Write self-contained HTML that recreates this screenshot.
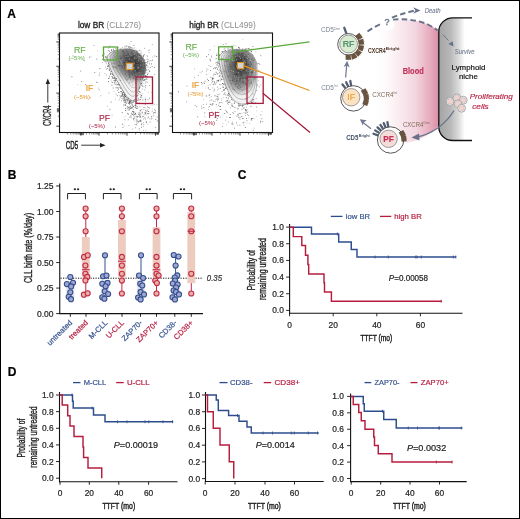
<!DOCTYPE html>
<html><head><meta charset="utf-8"><style>
html,body{margin:0;padding:0;background:#fff;overflow:hidden;}
svg{display:block;will-change:transform;}
svg text{font-family:"Liberation Sans",sans-serif;}
</style></head><body>
<svg width="520" height="519" viewBox="0 0 520 519">
<rect x="0" y="0" width="520" height="519" fill="#fff"/>
<text x="7.2" y="17.6" font-size="12" fill="#000" text-anchor="start" font-weight="bold"  stroke="#000" stroke-width="0.2">A</text>
<text x="109.5" y="27.9" font-size="8.3" text-anchor="middle" stroke="none"><tspan fill="#222" stroke="#222" stroke-width="0.3">low BR</tspan><tspan fill="#8a8a8a" stroke="none"> (CLL276)</tspan></text>
<g fill="#444">
<rect x="122.0" y="93.5" width="0.8" height="0.8" opacity="0.55"/>
<rect x="122.2" y="86.5" width="0.8" height="0.8" opacity="1.0"/>
<rect x="116.6" y="78.9" width="0.8" height="0.8" opacity="0.4"/>
<rect x="132.9" y="109.2" width="0.8" height="0.8" opacity="0.55"/>
<rect x="132.3" y="106.7" width="0.8" height="0.8" opacity="0.7"/>
<rect x="127.2" y="98.4" width="0.8" height="0.8" opacity="0.4"/>
<rect x="110.7" y="79.7" width="0.8" height="0.8" opacity="0.55"/>
<rect x="128.1" y="102.6" width="0.8" height="0.8" opacity="1.0"/>
<rect x="110.5" y="56.0" width="0.8" height="0.8" opacity="0.7"/>
<rect x="116.9" y="77.1" width="0.8" height="0.8" opacity="0.85"/>
<rect x="126.4" y="95.3" width="0.8" height="0.8" opacity="0.55"/>
<rect x="128.2" y="92.5" width="0.8" height="0.8" opacity="1.0"/>
<rect x="126.5" y="99.3" width="0.8" height="0.8" opacity="0.85"/>
<rect x="118.7" y="99.5" width="0.8" height="0.8" opacity="0.55"/>
<rect x="128.5" y="109.5" width="0.8" height="0.8" opacity="1.0"/>
<rect x="119.0" y="77.9" width="0.8" height="0.8" opacity="1.0"/>
<rect x="121.2" y="86.9" width="0.8" height="0.8" opacity="0.4"/>
<rect x="129.1" y="101.8" width="0.8" height="0.8" opacity="1.0"/>
<rect x="120.4" y="78.0" width="0.8" height="0.8" opacity="1.0"/>
<rect x="119.8" y="96.7" width="0.8" height="0.8" opacity="1.0"/>
<rect x="117.5" y="84.5" width="0.8" height="0.8" opacity="0.4"/>
<rect x="127.4" y="83.7" width="0.8" height="0.8" opacity="0.85"/>
<rect x="124.4" y="104.3" width="0.8" height="0.8" opacity="0.4"/>
<rect x="107.9" y="64.9" width="0.8" height="0.8" opacity="0.85"/>
<rect x="123.2" y="83.4" width="0.8" height="0.8" opacity="0.55"/>
<rect x="128.0" y="97.4" width="0.8" height="0.8" opacity="1.0"/>
<rect x="112.3" y="81.9" width="0.8" height="0.8" opacity="1.0"/>
<rect x="129.4" y="108.5" width="0.8" height="0.8" opacity="1.0"/>
<rect x="135.5" y="112.5" width="0.8" height="0.8" opacity="0.4"/>
<rect x="125.0" y="81.7" width="0.8" height="0.8" opacity="1.0"/>
<rect x="128.9" y="93.9" width="0.8" height="0.8" opacity="0.4"/>
<rect x="120.4" y="75.2" width="0.8" height="0.8" opacity="0.85"/>
<rect x="116.3" y="75.6" width="0.8" height="0.8" opacity="0.85"/>
<rect x="134.3" y="89.2" width="0.8" height="0.8" opacity="1.0"/>
<rect x="112.3" y="76.7" width="0.8" height="0.8" opacity="0.55"/>
<rect x="135.5" y="114.5" width="0.8" height="0.8" opacity="0.55"/>
<rect x="108.8" y="46.5" width="0.8" height="0.8" opacity="1.0"/>
<rect x="126.9" y="89.7" width="0.8" height="0.8" opacity="0.85"/>
<rect x="115.0" y="87.4" width="0.8" height="0.8" opacity="0.4"/>
<rect x="132.8" y="106.6" width="0.8" height="0.8" opacity="0.55"/>
<rect x="126.0" y="98.9" width="0.8" height="0.8" opacity="0.7"/>
<rect x="136.8" y="116.7" width="0.8" height="0.8" opacity="1.0"/>
<rect x="128.1" y="103.2" width="0.8" height="0.8" opacity="0.4"/>
<rect x="111.5" y="84.7" width="0.8" height="0.8" opacity="0.85"/>
<rect x="131.6" y="108.2" width="0.8" height="0.8" opacity="0.55"/>
<rect x="108.2" y="62.6" width="0.8" height="0.8" opacity="0.4"/>
<rect x="130.7" y="85.8" width="0.8" height="0.8" opacity="0.7"/>
<rect x="122.5" y="99.0" width="0.8" height="0.8" opacity="0.4"/>
<rect x="113.5" y="90.8" width="0.8" height="0.8" opacity="0.4"/>
<rect x="128.4" y="97.3" width="0.8" height="0.8" opacity="1.0"/>
<rect x="126.6" y="101.7" width="0.8" height="0.8" opacity="0.55"/>
<rect x="125.0" y="103.8" width="0.8" height="0.8" opacity="0.85"/>
<rect x="118.7" y="80.3" width="0.8" height="0.8" opacity="0.7"/>
<rect x="132.3" y="104.7" width="0.8" height="0.8" opacity="0.4"/>
<rect x="117.0" y="90.0" width="0.8" height="0.8" opacity="0.55"/>
<rect x="135.7" y="105.6" width="0.8" height="0.8" opacity="0.85"/>
<rect x="113.0" y="74.2" width="0.8" height="0.8" opacity="0.4"/>
<rect x="122.8" y="87.5" width="0.8" height="0.8" opacity="1.0"/>
<rect x="135.2" y="99.6" width="0.8" height="0.8" opacity="0.55"/>
<rect x="134.1" y="95.7" width="0.8" height="0.8" opacity="1.0"/>
<rect x="117.7" y="88.2" width="0.8" height="0.8" opacity="0.4"/>
<rect x="133.0" y="113.3" width="0.8" height="0.8" opacity="0.7"/>
<rect x="126.8" y="97.4" width="0.8" height="0.8" opacity="0.55"/>
<rect x="125.2" y="99.0" width="0.8" height="0.8" opacity="0.7"/>
<rect x="122.6" y="92.4" width="0.8" height="0.8" opacity="0.7"/>
<rect x="128.6" y="98.9" width="0.8" height="0.8" opacity="0.4"/>
<rect x="130.1" y="106.3" width="0.8" height="0.8" opacity="0.7"/>
<rect x="140.1" y="119.1" width="0.8" height="0.8" opacity="0.4"/>
<rect x="120.6" y="83.5" width="0.8" height="0.8" opacity="0.55"/>
<rect x="123.9" y="100.2" width="0.8" height="0.8" opacity="0.7"/>
<rect x="121.3" y="91.4" width="0.8" height="0.8" opacity="1.0"/>
<rect x="138.7" y="91.0" width="0.8" height="0.8" opacity="1.0"/>
<rect x="115.0" y="80.7" width="0.8" height="0.8" opacity="0.7"/>
<rect x="127.2" y="98.9" width="0.8" height="0.8" opacity="0.85"/>
<rect x="120.6" y="92.7" width="0.8" height="0.8" opacity="0.4"/>
<rect x="126.3" y="90.7" width="0.8" height="0.8" opacity="1.0"/>
<rect x="143.4" y="124.4" width="0.8" height="0.8" opacity="0.7"/>
<rect x="119.6" y="84.5" width="0.8" height="0.8" opacity="0.4"/>
<rect x="122.2" y="88.7" width="0.8" height="0.8" opacity="0.7"/>
<rect x="102.2" y="54.9" width="0.8" height="0.8" opacity="1.0"/>
<rect x="132.1" y="93.6" width="0.8" height="0.8" opacity="0.7"/>
<rect x="123.5" y="99.8" width="0.8" height="0.8" opacity="1.0"/>
<rect x="130.8" y="115.7" width="0.8" height="0.8" opacity="0.4"/>
<rect x="110.4" y="68.4" width="0.8" height="0.8" opacity="0.4"/>
<rect x="121.3" y="93.5" width="0.8" height="0.8" opacity="0.55"/>
<rect x="132.7" y="81.0" width="0.8" height="0.8" opacity="0.7"/>
<rect x="132.7" y="92.0" width="0.8" height="0.8" opacity="0.7"/>
<rect x="129.5" y="86.8" width="0.8" height="0.8" opacity="0.55"/>
<rect x="125.4" y="104.9" width="0.8" height="0.8" opacity="0.85"/>
<rect x="122.8" y="91.9" width="0.8" height="0.8" opacity="0.4"/>
<rect x="130.4" y="102.8" width="0.8" height="0.8" opacity="1.0"/>
<rect x="123.3" y="104.7" width="0.8" height="0.8" opacity="0.85"/>
<rect x="132.4" y="101.9" width="0.8" height="0.8" opacity="0.4"/>
<rect x="146.0" y="114.6" width="0.8" height="0.8" opacity="0.4"/>
<rect x="131.3" y="100.6" width="0.8" height="0.8" opacity="0.85"/>
<rect x="125.1" y="99.9" width="0.8" height="0.8" opacity="0.4"/>
<rect x="125.8" y="100.4" width="0.8" height="0.8" opacity="0.4"/>
<rect x="111.8" y="60.1" width="0.8" height="0.8" opacity="0.7"/>
<rect x="128.9" y="90.7" width="0.8" height="0.8" opacity="0.55"/>
<rect x="115.8" y="66.4" width="0.8" height="0.8" opacity="0.55"/>
<rect x="134.1" y="113.9" width="0.8" height="0.8" opacity="1.0"/>
<rect x="135.8" y="101.2" width="0.8" height="0.8" opacity="0.7"/>
<rect x="124.0" y="81.7" width="0.8" height="0.8" opacity="0.85"/>
<rect x="130.1" y="115.5" width="0.8" height="0.8" opacity="0.55"/>
<rect x="116.9" y="95.4" width="0.8" height="0.8" opacity="1.0"/>
<rect x="131.9" y="102.3" width="0.8" height="0.8" opacity="0.7"/>
<rect x="108.2" y="81.0" width="0.8" height="0.8" opacity="1.0"/>
<rect x="123.2" y="85.4" width="0.8" height="0.8" opacity="0.7"/>
<rect x="127.2" y="100.5" width="0.8" height="0.8" opacity="0.85"/>
<rect x="136.0" y="100.8" width="0.8" height="0.8" opacity="0.4"/>
<rect x="133.1" y="119.0" width="0.8" height="0.8" opacity="0.4"/>
<rect x="135.6" y="107.8" width="0.8" height="0.8" opacity="0.7"/>
<rect x="118.0" y="92.2" width="0.8" height="0.8" opacity="0.55"/>
<rect x="124.9" y="94.5" width="0.8" height="0.8" opacity="0.85"/>
<rect x="135.4" y="106.7" width="0.8" height="0.8" opacity="1.0"/>
<rect x="105.6" y="61.0" width="0.8" height="0.8" opacity="0.85"/>
<rect x="109.2" y="77.1" width="0.8" height="0.8" opacity="0.4"/>
<rect x="126.5" y="90.3" width="0.8" height="0.8" opacity="0.4"/>
<rect x="123.9" y="99.4" width="0.8" height="0.8" opacity="0.4"/>
<rect x="124.6" y="104.9" width="0.8" height="0.8" opacity="0.55"/>
<rect x="123.5" y="100.6" width="0.8" height="0.8" opacity="1.0"/>
<rect x="135.9" y="124.4" width="0.8" height="0.8" opacity="1.0"/>
<rect x="118.6" y="91.9" width="0.8" height="0.8" opacity="0.85"/>
<rect x="109.0" y="59.7" width="0.8" height="0.8" opacity="0.85"/>
<rect x="108.3" y="78.1" width="0.8" height="0.8" opacity="0.55"/>
<rect x="114.1" y="77.1" width="0.8" height="0.8" opacity="0.85"/>
<rect x="122.5" y="89.4" width="0.8" height="0.8" opacity="0.85"/>
<rect x="119.3" y="87.0" width="0.8" height="0.8" opacity="0.55"/>
<rect x="138.3" y="113.9" width="0.8" height="0.8" opacity="1.0"/>
<rect x="128.2" y="107.4" width="0.8" height="0.8" opacity="1.0"/>
<rect x="122.4" y="78.3" width="0.8" height="0.8" opacity="0.4"/>
<rect x="119.6" y="95.0" width="0.8" height="0.8" opacity="0.7"/>
<rect x="110.8" y="66.9" width="0.8" height="0.8" opacity="0.7"/>
<rect x="132.1" y="111.2" width="0.8" height="0.8" opacity="1.0"/>
<rect x="124.1" y="99.3" width="0.8" height="0.8" opacity="0.55"/>
<rect x="125.3" y="83.4" width="0.8" height="0.8" opacity="0.7"/>
<rect x="111.5" y="67.5" width="0.8" height="0.8" opacity="0.55"/>
<rect x="131.4" y="98.0" width="0.8" height="0.8" opacity="1.0"/>
<rect x="116.8" y="74.2" width="0.8" height="0.8" opacity="1.0"/>
<rect x="111.7" y="72.6" width="0.8" height="0.8" opacity="0.4"/>
<rect x="114.6" y="81.1" width="0.8" height="0.8" opacity="0.55"/>
<rect x="105.1" y="66.6" width="0.8" height="0.8" opacity="0.55"/>
<rect x="118.9" y="66.8" width="0.8" height="0.8" opacity="0.7"/>
<rect x="129.8" y="98.2" width="0.8" height="0.8" opacity="0.85"/>
<rect x="106.2" y="57.4" width="0.8" height="0.8" opacity="0.7"/>
<rect x="126.3" y="91.4" width="0.8" height="0.8" opacity="1.0"/>
<rect x="130.2" y="108.1" width="0.8" height="0.8" opacity="0.85"/>
<rect x="129.3" y="102.9" width="0.8" height="0.8" opacity="0.85"/>
<rect x="134.7" y="113.9" width="0.8" height="0.8" opacity="0.7"/>
<rect x="127.6" y="78.7" width="0.8" height="0.8" opacity="0.7"/>
<rect x="131.2" y="114.5" width="0.8" height="0.8" opacity="0.4"/>
<rect x="121.6" y="84.2" width="0.8" height="0.8" opacity="0.7"/>
<rect x="139.5" y="99.5" width="0.8" height="0.8" opacity="1.0"/>
<rect x="127.8" y="119.4" width="0.8" height="0.8" opacity="0.85"/>
<rect x="116.6" y="87.1" width="0.8" height="0.8" opacity="0.7"/>
<rect x="139.1" y="113.6" width="0.8" height="0.8" opacity="0.55"/>
<rect x="128.5" y="106.9" width="0.8" height="0.8" opacity="0.4"/>
<rect x="116.8" y="80.3" width="0.8" height="0.8" opacity="0.55"/>
<rect x="126.3" y="102.9" width="0.8" height="0.8" opacity="0.85"/>
<rect x="123.7" y="89.8" width="0.8" height="0.8" opacity="1.0"/>
<rect x="115.9" y="76.6" width="0.8" height="0.8" opacity="0.4"/>
<rect x="131.1" y="103.6" width="0.8" height="0.8" opacity="0.55"/>
<rect x="117.2" y="74.2" width="0.8" height="0.8" opacity="0.55"/>
<rect x="129.1" y="76.3" width="0.8" height="0.8" opacity="0.7"/>
<rect x="129.0" y="103.8" width="0.8" height="0.8" opacity="0.85"/>
<rect x="137.5" y="116.1" width="0.8" height="0.8" opacity="0.7"/>
<rect x="123.5" y="95.9" width="0.8" height="0.8" opacity="0.4"/>
<rect x="108.4" y="78.0" width="0.8" height="0.8" opacity="1.0"/>
<rect x="126.6" y="89.6" width="0.8" height="0.8" opacity="0.7"/>
<rect x="134.6" y="124.2" width="0.8" height="0.8" opacity="0.7"/>
<rect x="112.8" y="69.2" width="0.8" height="0.8" opacity="1.0"/>
<rect x="126.3" y="97.1" width="0.8" height="0.8" opacity="1.0"/>
<rect x="120.8" y="78.5" width="0.8" height="0.8" opacity="1.0"/>
<rect x="141.0" y="126.8" width="0.8" height="0.8" opacity="1.0"/>
<rect x="114.4" y="65.6" width="0.8" height="0.8" opacity="0.55"/>
<rect x="137.6" y="121.3" width="0.8" height="0.8" opacity="0.4"/>
<rect x="138.6" y="121.1" width="0.8" height="0.8" opacity="1.0"/>
<rect x="117.0" y="83.9" width="0.8" height="0.8" opacity="0.4"/>
<rect x="106.7" y="59.3" width="0.8" height="0.8" opacity="0.55"/>
<rect x="123.5" y="96.0" width="0.8" height="0.8" opacity="0.85"/>
<rect x="118.2" y="82.2" width="0.8" height="0.8" opacity="1.0"/>
<rect x="127.7" y="100.9" width="0.8" height="0.8" opacity="0.4"/>
<rect x="129.1" y="101.5" width="0.8" height="0.8" opacity="0.7"/>
<rect x="121.4" y="95.2" width="0.8" height="0.8" opacity="0.7"/>
<rect x="124.4" y="85.2" width="0.8" height="0.8" opacity="0.55"/>
<rect x="119.0" y="84.5" width="0.8" height="0.8" opacity="0.55"/>
<rect x="123.1" y="92.1" width="0.8" height="0.8" opacity="0.4"/>
<rect x="124.0" y="93.6" width="0.8" height="0.8" opacity="0.7"/>
<rect x="122.9" y="79.1" width="0.8" height="0.8" opacity="0.7"/>
<rect x="127.4" y="106.5" width="0.8" height="0.8" opacity="0.7"/>
<rect x="127.5" y="95.5" width="0.8" height="0.8" opacity="1.0"/>
<rect x="127.6" y="88.7" width="0.8" height="0.8" opacity="0.55"/>
<rect x="108.8" y="69.8" width="0.8" height="0.8" opacity="0.7"/>
<rect x="116.6" y="87.5" width="0.8" height="0.8" opacity="1.0"/>
<rect x="115.3" y="55.3" width="0.8" height="0.8" opacity="0.85"/>
<rect x="115.7" y="93.7" width="0.8" height="0.8" opacity="0.7"/>
<rect x="120.9" y="75.1" width="0.8" height="0.8" opacity="0.4"/>
<rect x="117.9" y="87.5" width="0.8" height="0.8" opacity="0.7"/>
<rect x="128.0" y="99.6" width="0.8" height="0.8" opacity="0.7"/>
<rect x="135.9" y="116.2" width="0.8" height="0.8" opacity="0.85"/>
<rect x="123.8" y="97.1" width="0.8" height="0.8" opacity="1.0"/>
<rect x="137.2" y="120.6" width="0.8" height="0.8" opacity="0.7"/>
<rect x="132.2" y="94.5" width="0.8" height="0.8" opacity="0.55"/>
<rect x="122.8" y="96.8" width="0.8" height="0.8" opacity="0.55"/>
<rect x="121.6" y="98.1" width="0.8" height="0.8" opacity="0.7"/>
<rect x="128.8" y="107.3" width="0.8" height="0.8" opacity="0.55"/>
<rect x="122.3" y="112.4" width="0.8" height="0.8" opacity="0.55"/>
<rect x="133.9" y="104.9" width="0.8" height="0.8" opacity="0.55"/>
<rect x="124.7" y="116.4" width="0.8" height="0.8" opacity="0.4"/>
<rect x="121.3" y="95.7" width="0.8" height="0.8" opacity="0.85"/>
<rect x="131.8" y="103.8" width="0.8" height="0.8" opacity="0.85"/>
<rect x="114.7" y="79.7" width="0.8" height="0.8" opacity="0.85"/>
<rect x="126.9" y="106.5" width="0.8" height="0.8" opacity="0.85"/>
<rect x="130.3" y="101.6" width="0.8" height="0.8" opacity="1.0"/>
<rect x="130.8" y="107.1" width="0.8" height="0.8" opacity="0.7"/>
<rect x="125.6" y="95.0" width="0.8" height="0.8" opacity="0.55"/>
<rect x="122.1" y="95.3" width="0.8" height="0.8" opacity="1.0"/>
<rect x="115.6" y="73.7" width="0.8" height="0.8" opacity="0.4"/>
<rect x="124.0" y="78.9" width="0.8" height="0.8" opacity="0.55"/>
<rect x="93.5" y="45.0" width="0.8" height="0.8" opacity="0.7"/>
<rect x="89.8" y="97.4" width="0.8" height="0.8" opacity="0.7"/>
<rect x="108.5" y="92.6" width="0.8" height="0.8" opacity="0.7"/>
<rect x="96.5" y="58.7" width="0.8" height="0.8" opacity="1.0"/>
<rect x="127.4" y="112.9" width="0.8" height="0.8" opacity="1.0"/>
<rect x="116.4" y="78.7" width="0.8" height="0.8" opacity="0.7"/>
<rect x="97.2" y="50.6" width="0.8" height="0.8" opacity="0.4"/>
<rect x="111.7" y="114.8" width="0.8" height="0.8" opacity="0.55"/>
<rect x="71.5" y="76.4" width="0.8" height="0.8" opacity="1.0"/>
<rect x="109.5" y="57.2" width="0.8" height="0.8" opacity="0.4"/>
<rect x="72.6" y="55.6" width="0.8" height="0.8" opacity="1.0"/>
<rect x="90.6" y="56.4" width="0.8" height="0.8" opacity="0.55"/>
<rect x="100.5" y="95.4" width="0.8" height="0.8" opacity="0.7"/>
<rect x="109.5" y="108.9" width="0.8" height="0.8" opacity="1.0"/>
<rect x="122.5" y="124.4" width="0.8" height="0.8" opacity="0.7"/>
<rect x="80.3" y="70.7" width="0.8" height="0.8" opacity="0.85"/>
<rect x="84.1" y="60.4" width="0.8" height="0.8" opacity="0.7"/>
<rect x="98.8" y="89.6" width="0.8" height="0.8" opacity="0.85"/>
<rect x="107.4" y="59.9" width="0.8" height="0.8" opacity="0.4"/>
<rect x="81.4" y="81.3" width="0.8" height="0.8" opacity="0.85"/>
<rect x="97.0" y="82.2" width="0.8" height="0.8" opacity="0.7"/>
<rect x="99.1" y="73.6" width="0.8" height="0.8" opacity="0.55"/>
<rect x="110.5" y="102.1" width="0.8" height="0.8" opacity="0.7"/>
<rect x="98.7" y="75.3" width="0.8" height="0.8" opacity="0.7"/>
<rect x="85.3" y="84.3" width="0.8" height="0.8" opacity="1.0"/>
<rect x="77.4" y="84.3" width="0.8" height="0.8" opacity="0.4"/>
<rect x="102.2" y="62.1" width="0.8" height="0.8" opacity="0.55"/>
<rect x="96.2" y="81.8" width="0.8" height="0.8" opacity="0.7"/>
<rect x="106.9" y="105.9" width="0.8" height="0.8" opacity="0.55"/>
<rect x="99.5" y="71.9" width="0.8" height="0.8" opacity="0.4"/>
<rect x="97.8" y="87.7" width="0.8" height="0.8" opacity="0.55"/>
<rect x="111.0" y="101.0" width="0.8" height="0.8" opacity="0.4"/>
<rect x="89.2" y="56.8" width="0.8" height="0.8" opacity="0.85"/>
<rect x="94.4" y="72.0" width="0.8" height="0.8" opacity="0.85"/>
<rect x="128.9" y="109.6" width="0.8" height="0.8" opacity="0.55"/>
<rect x="135.1" y="113.1" width="0.8" height="0.8" opacity="1.0"/>
<rect x="145.2" y="110.0" width="0.8" height="0.8" opacity="0.7"/>
<rect x="151.0" y="116.4" width="0.8" height="0.8" opacity="1.0"/>
<rect x="151.2" y="92.0" width="0.8" height="0.8" opacity="0.4"/>
<rect x="132.5" y="113.9" width="0.8" height="0.8" opacity="0.55"/>
<rect x="143.2" y="126.2" width="0.8" height="0.8" opacity="0.55"/>
<rect x="147.7" y="123.8" width="0.8" height="0.8" opacity="0.4"/>
<rect x="145.1" y="112.5" width="0.8" height="0.8" opacity="0.55"/>
<rect x="145.1" y="103.5" width="0.8" height="0.8" opacity="1.0"/>
<rect x="151.8" y="105.4" width="0.8" height="0.8" opacity="0.4"/>
<rect x="137.8" y="112.7" width="0.8" height="0.8" opacity="0.4"/>
<rect x="151.6" y="115.6" width="0.8" height="0.8" opacity="0.4"/>
<rect x="131.9" y="113.9" width="0.8" height="0.8" opacity="1.0"/>
<rect x="145.8" y="121.1" width="0.8" height="0.8" opacity="0.7"/>
<rect x="132.3" y="128.6" width="0.8" height="0.8" opacity="0.55"/>
<rect x="156.7" y="116.5" width="0.8" height="0.8" opacity="0.4"/>
<rect x="142.7" y="109.3" width="0.8" height="0.8" opacity="0.55"/>
<rect x="154.1" y="108.9" width="0.8" height="0.8" opacity="0.7"/>
<rect x="146.7" y="109.6" width="0.8" height="0.8" opacity="1.0"/>
<rect x="133.1" y="118.7" width="0.8" height="0.8" opacity="0.4"/>
<rect x="153.3" y="115.6" width="0.8" height="0.8" opacity="0.7"/>
<rect x="133.2" y="119.6" width="0.8" height="0.8" opacity="0.4"/>
<rect x="139.5" y="115.9" width="0.8" height="0.8" opacity="0.55"/>
<rect x="155.2" y="127.1" width="0.8" height="0.8" opacity="0.7"/>
<rect x="140.0" y="120.7" width="0.8" height="0.8" opacity="0.7"/>
<rect x="133.5" y="111.3" width="0.8" height="0.8" opacity="0.4"/>
<rect x="122.5" y="127.0" width="0.8" height="0.8" opacity="0.85"/>
<rect x="153.7" y="103.8" width="0.8" height="0.8" opacity="0.85"/>
<rect x="124.9" y="94.1" width="0.8" height="0.8" opacity="1.0"/>
<rect x="151.8" y="110.8" width="0.8" height="0.8" opacity="0.7"/>
<rect x="139.4" y="109.8" width="0.8" height="0.8" opacity="0.55"/>
<rect x="138.8" y="102.1" width="0.8" height="0.8" opacity="0.4"/>
<rect x="140.2" y="99.0" width="0.8" height="0.8" opacity="0.85"/>
<rect x="139.3" y="115.9" width="0.8" height="0.8" opacity="0.4"/>
<rect x="144.7" y="111.7" width="0.8" height="0.8" opacity="0.4"/>
<rect x="131.0" y="112.8" width="0.8" height="0.8" opacity="1.0"/>
<rect x="135.2" y="127.4" width="0.8" height="0.8" opacity="0.7"/>
<rect x="147.7" y="113.4" width="0.8" height="0.8" opacity="0.85"/>
<rect x="135.3" y="105.2" width="0.8" height="0.8" opacity="1.0"/>
<rect x="130.6" y="107.7" width="0.8" height="0.8" opacity="0.85"/>
<rect x="142.9" y="118.6" width="0.8" height="0.8" opacity="0.7"/>
<rect x="133.0" y="111.7" width="0.8" height="0.8" opacity="0.85"/>
<rect x="134.8" y="113.6" width="0.8" height="0.8" opacity="0.4"/>
<rect x="141.5" y="117.3" width="0.8" height="0.8" opacity="0.4"/>
<rect x="137.6" y="116.1" width="0.8" height="0.8" opacity="0.7"/>
<rect x="140.5" y="120.7" width="0.8" height="0.8" opacity="1.0"/>
<rect x="121.1" y="100.5" width="0.8" height="0.8" opacity="0.7"/>
<rect x="140.0" y="102.9" width="0.8" height="0.8" opacity="0.4"/>
<rect x="129.6" y="117.1" width="0.8" height="0.8" opacity="0.85"/>
<rect x="133.5" y="117.9" width="0.8" height="0.8" opacity="1.0"/>
<rect x="147.5" y="117.5" width="0.8" height="0.8" opacity="0.7"/>
<rect x="145.1" y="113.0" width="0.8" height="0.8" opacity="0.55"/>
<rect x="125.9" y="109.9" width="0.8" height="0.8" opacity="0.4"/>
<rect x="144.5" y="108.7" width="0.8" height="0.8" opacity="0.4"/>
<rect x="139.0" y="120.1" width="0.8" height="0.8" opacity="0.55"/>
<rect x="131.2" y="117.5" width="0.8" height="0.8" opacity="0.55"/>
<rect x="141.5" y="111.8" width="0.8" height="0.8" opacity="0.55"/>
<rect x="155.4" y="119.2" width="0.8" height="0.8" opacity="1.0"/>
<rect x="149.0" y="108.0" width="0.8" height="0.8" opacity="0.4"/>
<rect x="139.8" y="112.9" width="0.8" height="0.8" opacity="0.7"/>
<rect x="122.2" y="123.6" width="0.8" height="0.8" opacity="0.7"/>
<rect x="149.0" y="97.7" width="0.8" height="0.8" opacity="0.85"/>
<rect x="147.4" y="113.2" width="0.8" height="0.8" opacity="0.7"/>
<rect x="144.5" y="117.5" width="0.8" height="0.8" opacity="1.0"/>
<rect x="125.0" y="107.9" width="0.8" height="0.8" opacity="1.0"/>
<rect x="154.9" y="110.4" width="0.8" height="0.8" opacity="1.0"/>
<rect x="129.8" y="97.6" width="0.8" height="0.8" opacity="0.55"/>
<rect x="127.8" y="113.8" width="0.8" height="0.8" opacity="1.0"/>
<rect x="156.9" y="120.6" width="0.8" height="0.8" opacity="1.0"/>
<rect x="134.8" y="105.4" width="0.8" height="0.8" opacity="0.7"/>
<rect x="145.3" y="119.4" width="0.8" height="0.8" opacity="0.55"/>
<rect x="129.9" y="99.5" width="0.8" height="0.8" opacity="1.0"/>
<rect x="142.9" y="116.0" width="0.8" height="0.8" opacity="0.7"/>
<rect x="126.9" y="108.4" width="0.8" height="0.8" opacity="0.85"/>
<rect x="134.6" y="116.4" width="0.8" height="0.8" opacity="0.4"/>
<rect x="138.8" y="111.9" width="0.8" height="0.8" opacity="0.7"/>
<rect x="136.5" y="122.6" width="0.8" height="0.8" opacity="1.0"/>
<rect x="153.9" y="112.2" width="0.8" height="0.8" opacity="0.85"/>
<rect x="148.5" y="107.3" width="0.8" height="0.8" opacity="1.0"/>
<rect x="140.7" y="120.5" width="0.8" height="0.8" opacity="0.7"/>
<rect x="155.1" y="112.3" width="0.8" height="0.8" opacity="0.7"/>
<rect x="139.3" y="114.8" width="0.8" height="0.8" opacity="1.0"/>
<rect x="125.0" y="110.2" width="0.8" height="0.8" opacity="1.0"/>
<rect x="133.2" y="115.3" width="0.8" height="0.8" opacity="0.7"/>
<rect x="128.7" y="91.4" width="0.8" height="0.8" opacity="0.55"/>
<rect x="140.4" y="115.6" width="0.8" height="0.8" opacity="0.7"/>
<rect x="134.5" y="120.6" width="0.8" height="0.8" opacity="0.4"/>
<rect x="137.3" y="106.5" width="0.8" height="0.8" opacity="1.0"/>
<rect x="144.8" y="98.6" width="0.8" height="0.8" opacity="0.85"/>
<rect x="133.2" y="111.4" width="0.8" height="0.8" opacity="0.4"/>
<rect x="148.5" y="113.1" width="0.8" height="0.8" opacity="0.7"/>
<rect x="143.1" y="107.2" width="0.8" height="0.8" opacity="0.55"/>
<rect x="143.0" y="129.9" width="0.8" height="0.8" opacity="0.55"/>
<rect x="133.6" y="111.9" width="0.8" height="0.8" opacity="0.85"/>
<rect x="141.7" y="123.4" width="0.8" height="0.8" opacity="0.4"/>
<rect x="127.6" y="89.9" width="0.8" height="0.8" opacity="0.4"/>
<rect x="146.1" y="122.0" width="0.8" height="0.8" opacity="1.0"/>
<rect x="142.0" y="115.9" width="0.8" height="0.8" opacity="0.55"/>
<rect x="149.3" y="118.5" width="0.8" height="0.8" opacity="0.4"/>
<rect x="156.6" y="104.2" width="0.8" height="0.8" opacity="0.4"/>
<rect x="136.2" y="78.5" width="0.8" height="0.8" opacity="1.0"/>
<rect x="148.1" y="111.0" width="0.8" height="0.8" opacity="1.0"/>
<rect x="139.9" y="110.5" width="0.8" height="0.8" opacity="0.55"/>
<rect x="135.0" y="103.8" width="0.8" height="0.8" opacity="1.0"/>
<rect x="133.7" y="118.0" width="0.8" height="0.8" opacity="0.55"/>
<rect x="140.4" y="113.7" width="0.8" height="0.8" opacity="0.7"/>
<rect x="138.3" y="121.6" width="0.8" height="0.8" opacity="1.0"/>
<rect x="144.9" y="112.6" width="0.8" height="0.8" opacity="0.7"/>
<rect x="146.6" y="112.8" width="0.8" height="0.8" opacity="0.55"/>
<rect x="128.5" y="125.0" width="0.8" height="0.8" opacity="0.55"/>
<rect x="144.7" y="104.6" width="0.8" height="0.8" opacity="0.55"/>
<rect x="150.8" y="118.5" width="0.8" height="0.8" opacity="1.0"/>
<rect x="124.4" y="125.6" width="0.8" height="0.8" opacity="0.4"/>
<rect x="143.3" y="122.4" width="0.8" height="0.8" opacity="0.7"/>
<rect x="142.0" y="111.9" width="0.8" height="0.8" opacity="0.55"/>
<rect x="124.5" y="119.4" width="0.8" height="0.8" opacity="0.85"/>
<rect x="140.3" y="110.3" width="0.8" height="0.8" opacity="0.85"/>
<rect x="143.5" y="114.5" width="0.8" height="0.8" opacity="0.55"/>
<rect x="146.8" y="110.7" width="0.8" height="0.8" opacity="0.7"/>
<rect x="139.6" y="92.0" width="0.8" height="0.8" opacity="0.85"/>
<rect x="135.8" y="118.8" width="0.8" height="0.8" opacity="0.85"/>
<rect x="153.4" y="112.1" width="0.8" height="0.8" opacity="0.55"/>
<rect x="138.8" y="128.3" width="0.8" height="0.8" opacity="0.7"/>
<rect x="136.7" y="119.5" width="0.8" height="0.8" opacity="0.4"/>
<rect x="156.8" y="116.7" width="0.8" height="0.8" opacity="0.4"/>
<rect x="152.3" y="108.5" width="0.8" height="0.8" opacity="0.4"/>
<rect x="142.1" y="112.7" width="0.8" height="0.8" opacity="0.4"/>
<rect x="141.1" y="124.3" width="0.8" height="0.8" opacity="0.85"/>
<rect x="134.2" y="116.7" width="0.8" height="0.8" opacity="0.7"/>
<rect x="129.4" y="115.8" width="0.8" height="0.8" opacity="0.4"/>
<rect x="145.7" y="111.4" width="0.8" height="0.8" opacity="0.55"/>
<rect x="145.3" y="98.9" width="0.8" height="0.8" opacity="1.0"/>
<rect x="147.6" y="99.4" width="0.8" height="0.8" opacity="0.85"/>
<rect x="133.0" y="106.2" width="0.8" height="0.8" opacity="0.85"/>
<rect x="136.0" y="120.6" width="0.8" height="0.8" opacity="0.85"/>
<rect x="140.8" y="109.3" width="0.8" height="0.8" opacity="0.55"/>
<rect x="145.4" y="129.6" width="0.8" height="0.8" opacity="0.4"/>
<rect x="140.1" y="116.6" width="0.8" height="0.8" opacity="0.7"/>
<rect x="152.4" y="118.1" width="0.8" height="0.8" opacity="0.4"/>
<rect x="139.6" y="117.0" width="0.8" height="0.8" opacity="0.7"/>
<rect x="149.7" y="121.5" width="0.8" height="0.8" opacity="0.85"/>
<rect x="137.3" y="102.1" width="0.8" height="0.8" opacity="0.55"/>
<rect x="141.0" y="123.3" width="0.8" height="0.8" opacity="0.55"/>
<rect x="129.1" y="100.8" width="0.8" height="0.8" opacity="0.7"/>
<rect x="139.8" y="94.0" width="0.8" height="0.8" opacity="0.55"/>
<rect x="137.4" y="108.2" width="0.8" height="0.8" opacity="0.7"/>
<rect x="144.5" y="107.0" width="0.8" height="0.8" opacity="0.85"/>
<rect x="131.2" y="107.4" width="0.8" height="0.8" opacity="0.7"/>
<rect x="139.5" y="106.4" width="0.8" height="0.8" opacity="0.7"/>
<rect x="140.1" y="120.4" width="0.8" height="0.8" opacity="0.85"/>
<rect x="132.2" y="107.3" width="0.8" height="0.8" opacity="0.55"/>
<rect x="115.2" y="126.6" width="0.8" height="0.8" opacity="1.0"/>
<rect x="132.8" y="111.2" width="0.8" height="0.8" opacity="0.55"/>
<rect x="145.2" y="100.7" width="0.8" height="0.8" opacity="0.85"/>
<rect x="144.6" y="113.7" width="0.8" height="0.8" opacity="0.7"/>
<rect x="121.7" y="112.2" width="0.8" height="0.8" opacity="0.55"/>
<rect x="151.9" y="97.1" width="0.8" height="0.8" opacity="0.7"/>
<rect x="148.1" y="116.7" width="0.8" height="0.8" opacity="0.7"/>
<rect x="144.7" y="118.3" width="0.8" height="0.8" opacity="0.4"/>
<rect x="153.0" y="113.4" width="0.8" height="0.8" opacity="0.7"/>
<rect x="148.7" y="110.7" width="0.8" height="0.8" opacity="0.4"/>
<rect x="147.3" y="106.5" width="0.8" height="0.8" opacity="0.85"/>
<rect x="138.9" y="129.7" width="0.8" height="0.8" opacity="0.55"/>
<rect x="144.5" y="112.3" width="0.8" height="0.8" opacity="0.55"/>
<rect x="144.3" y="47.9" width="0.8" height="0.8" opacity="0.7"/>
<rect x="151.0" y="63.5" width="0.8" height="0.8" opacity="1.0"/>
<rect x="152.1" y="59.7" width="0.8" height="0.8" opacity="1.0"/>
<rect x="149.8" y="67.2" width="0.8" height="0.8" opacity="0.85"/>
<rect x="148.0" y="50.1" width="0.8" height="0.8" opacity="0.55"/>
<rect x="154.4" y="55.6" width="0.8" height="0.8" opacity="1.0"/>
<rect x="148.6" y="49.8" width="0.8" height="0.8" opacity="0.4"/>
<rect x="148.7" y="60.6" width="0.8" height="0.8" opacity="0.55"/>
<rect x="151.8" y="44.1" width="0.8" height="0.8" opacity="0.7"/>
<rect x="152.1" y="56.6" width="0.8" height="0.8" opacity="0.4"/>
<rect x="145.0" y="62.0" width="0.8" height="0.8" opacity="0.85"/>
<rect x="148.6" y="52.0" width="0.8" height="0.8" opacity="0.55"/>
<rect x="154.0" y="66.9" width="0.8" height="0.8" opacity="0.85"/>
<rect x="146.6" y="58.9" width="0.8" height="0.8" opacity="0.55"/>
<rect x="145.6" y="75.8" width="0.8" height="0.8" opacity="0.7"/>
<rect x="147.5" y="65.8" width="0.8" height="0.8" opacity="0.4"/>
<rect x="146.8" y="62.3" width="0.8" height="0.8" opacity="0.4"/>
<rect x="147.8" y="59.5" width="0.8" height="0.8" opacity="0.55"/>
<rect x="149.5" y="49.0" width="0.8" height="0.8" opacity="0.4"/>
<rect x="141.8" y="62.7" width="0.8" height="0.8" opacity="0.55"/>
<rect x="141.4" y="65.4" width="0.8" height="0.8" opacity="0.7"/>
<rect x="147.1" y="56.3" width="0.8" height="0.8" opacity="0.55"/>
<rect x="156.3" y="56.1" width="0.8" height="0.8" opacity="1.0"/>
<rect x="131.5" y="98.6" width="0.8" height="0.8" opacity="0.7"/>
<rect x="131.1" y="102.4" width="0.8" height="0.8" opacity="0.4"/>
<rect x="125.2" y="51.6" width="0.8" height="0.8" opacity="0.55"/>
<rect x="111.6" y="67.9" width="0.8" height="0.8" opacity="0.85"/>
<rect x="118.7" y="80.8" width="0.8" height="0.8" opacity="0.85"/>
<rect x="128.7" y="47.3" width="0.8" height="0.8" opacity="0.4"/>
<rect x="145.4" y="85.0" width="0.8" height="0.8" opacity="0.85"/>
<rect x="147.8" y="69.3" width="0.8" height="0.8" opacity="0.7"/>
<rect x="117.9" y="82.0" width="0.8" height="0.8" opacity="0.85"/>
<rect x="132.1" y="54.6" width="0.8" height="0.8" opacity="0.7"/>
<rect x="116.1" y="79.6" width="0.8" height="0.8" opacity="0.4"/>
<rect x="142.6" y="72.4" width="0.8" height="0.8" opacity="1.0"/>
<rect x="122.7" y="53.1" width="0.8" height="0.8" opacity="0.55"/>
<rect x="114.0" y="70.5" width="0.8" height="0.8" opacity="0.55"/>
<rect x="124.8" y="87.7" width="0.8" height="0.8" opacity="0.4"/>
<rect x="119.6" y="48.0" width="0.8" height="0.8" opacity="0.4"/>
<rect x="131.5" y="102.3" width="0.8" height="0.8" opacity="0.55"/>
<rect x="133.5" y="98.0" width="0.8" height="0.8" opacity="1.0"/>
<rect x="142.2" y="78.9" width="0.8" height="0.8" opacity="1.0"/>
<rect x="131.6" y="100.5" width="0.8" height="0.8" opacity="0.55"/>
<rect x="120.8" y="83.6" width="0.8" height="0.8" opacity="1.0"/>
<rect x="129.1" y="50.2" width="0.8" height="0.8" opacity="0.85"/>
<rect x="122.5" y="49.8" width="0.8" height="0.8" opacity="0.4"/>
<rect x="142.3" y="78.1" width="0.8" height="0.8" opacity="0.4"/>
<rect x="134.3" y="101.2" width="0.8" height="0.8" opacity="0.4"/>
<rect x="118.5" y="84.3" width="0.8" height="0.8" opacity="0.7"/>
<rect x="135.6" y="89.8" width="0.8" height="0.8" opacity="0.4"/>
<rect x="129.0" y="43.5" width="0.8" height="0.8" opacity="0.4"/>
<rect x="123.2" y="88.3" width="0.8" height="0.8" opacity="0.4"/>
<rect x="102.3" y="59.0" width="0.8" height="0.8" opacity="0.85"/>
<rect x="112.2" y="70.8" width="0.8" height="0.8" opacity="0.55"/>
<rect x="111.2" y="66.4" width="0.8" height="0.8" opacity="1.0"/>
<rect x="123.4" y="90.8" width="0.8" height="0.8" opacity="0.85"/>
<rect x="141.6" y="55.5" width="0.8" height="0.8" opacity="0.4"/>
<rect x="140.9" y="85.1" width="0.8" height="0.8" opacity="0.55"/>
<rect x="138.2" y="55.1" width="0.8" height="0.8" opacity="0.55"/>
<rect x="112.1" y="54.4" width="0.8" height="0.8" opacity="1.0"/>
<rect x="107.0" y="60.6" width="0.8" height="0.8" opacity="0.55"/>
<rect x="129.0" y="48.4" width="0.8" height="0.8" opacity="1.0"/>
<rect x="137.0" y="88.0" width="0.8" height="0.8" opacity="1.0"/>
<rect x="109.9" y="71.9" width="0.8" height="0.8" opacity="0.4"/>
<rect x="117.5" y="75.9" width="0.8" height="0.8" opacity="1.0"/>
<rect x="128.9" y="102.4" width="0.8" height="0.8" opacity="0.7"/>
<rect x="143.2" y="55.3" width="0.8" height="0.8" opacity="0.85"/>
<rect x="145.6" y="65.0" width="0.8" height="0.8" opacity="0.4"/>
<rect x="129.8" y="49.2" width="0.8" height="0.8" opacity="0.7"/>
<rect x="116.1" y="82.5" width="0.8" height="0.8" opacity="0.55"/>
<rect x="105.0" y="56.7" width="0.8" height="0.8" opacity="0.55"/>
<rect x="144.6" y="60.9" width="0.8" height="0.8" opacity="0.4"/>
<rect x="124.5" y="47.4" width="0.8" height="0.8" opacity="0.7"/>
<rect x="139.9" y="86.4" width="0.8" height="0.8" opacity="0.55"/>
<rect x="136.1" y="52.1" width="0.8" height="0.8" opacity="0.4"/>
<rect x="107.1" y="56.8" width="0.8" height="0.8" opacity="0.7"/>
<rect x="145.8" y="69.8" width="0.8" height="0.8" opacity="0.7"/>
<rect x="136.7" y="100.2" width="0.8" height="0.8" opacity="0.4"/>
<rect x="144.5" y="86.2" width="0.8" height="0.8" opacity="0.4"/>
<rect x="139.0" y="54.1" width="0.8" height="0.8" opacity="0.55"/>
<rect x="133.7" y="96.5" width="0.8" height="0.8" opacity="1.0"/>
<rect x="144.7" y="73.2" width="0.8" height="0.8" opacity="0.4"/>
<rect x="128.4" y="98.0" width="0.8" height="0.8" opacity="0.85"/>
<rect x="125.3" y="100.5" width="0.8" height="0.8" opacity="1.0"/>
<rect x="122.6" y="94.3" width="0.8" height="0.8" opacity="0.7"/>
<rect x="110.1" y="52.2" width="0.8" height="0.8" opacity="0.7"/>
<rect x="141.2" y="54.4" width="0.8" height="0.8" opacity="0.4"/>
<rect x="103.8" y="53.5" width="0.8" height="0.8" opacity="0.7"/>
<rect x="126.2" y="51.9" width="0.8" height="0.8" opacity="0.4"/>
<rect x="136.8" y="83.3" width="0.8" height="0.8" opacity="0.85"/>
<rect x="128.8" y="51.5" width="0.8" height="0.8" opacity="1.0"/>
<rect x="115.8" y="49.8" width="0.8" height="0.8" opacity="0.7"/>
<rect x="128.1" y="91.8" width="0.8" height="0.8" opacity="1.0"/>
<rect x="118.1" y="88.9" width="0.8" height="0.8" opacity="0.7"/>
<rect x="142.5" y="80.5" width="0.8" height="0.8" opacity="0.85"/>
<rect x="138.9" y="53.2" width="0.8" height="0.8" opacity="0.7"/>
<rect x="119.9" y="83.6" width="0.8" height="0.8" opacity="0.85"/>
<rect x="123.9" y="94.8" width="0.8" height="0.8" opacity="0.85"/>
<rect x="143.8" y="74.8" width="0.8" height="0.8" opacity="0.7"/>
<rect x="136.8" y="51.1" width="0.8" height="0.8" opacity="1.0"/>
<rect x="135.3" y="51.7" width="0.8" height="0.8" opacity="0.85"/>
<rect x="140.3" y="58.5" width="0.8" height="0.8" opacity="0.85"/>
<rect x="108.7" y="61.8" width="0.8" height="0.8" opacity="0.55"/>
<rect x="111.4" y="73.4" width="0.8" height="0.8" opacity="0.85"/>
<rect x="108.4" y="66.0" width="0.8" height="0.8" opacity="0.85"/>
<rect x="130.4" y="96.9" width="0.8" height="0.8" opacity="0.85"/>
<rect x="113.3" y="72.9" width="0.8" height="0.8" opacity="0.55"/>
<rect x="142.7" y="74.7" width="0.8" height="0.8" opacity="0.4"/>
<rect x="144.4" y="63.4" width="0.8" height="0.8" opacity="0.55"/>
<rect x="117.5" y="49.9" width="0.8" height="0.8" opacity="1.0"/>
<rect x="114.4" y="57.1" width="0.8" height="0.8" opacity="1.0"/>
<rect x="145.4" y="65.6" width="0.8" height="0.8" opacity="0.7"/>
<rect x="111.0" y="49.9" width="0.8" height="0.8" opacity="1.0"/>
<rect x="125.2" y="93.0" width="0.8" height="0.8" opacity="0.85"/>
<rect x="133.1" y="100.4" width="0.8" height="0.8" opacity="0.55"/>
<rect x="116.8" y="78.9" width="0.8" height="0.8" opacity="0.55"/>
<rect x="117.4" y="70.9" width="0.8" height="0.8" opacity="0.4"/>
<rect x="120.7" y="50.9" width="0.8" height="0.8" opacity="0.4"/>
<rect x="113.6" y="50.1" width="0.8" height="0.8" opacity="1.0"/>
<rect x="132.9" y="96.8" width="0.8" height="0.8" opacity="0.4"/>
<rect x="142.9" y="58.6" width="0.8" height="0.8" opacity="0.4"/>
<rect x="121.3" y="88.5" width="0.8" height="0.8" opacity="0.85"/>
<rect x="145.4" y="76.0" width="0.8" height="0.8" opacity="1.0"/>
<rect x="141.3" y="55.4" width="0.8" height="0.8" opacity="0.7"/>
<rect x="147.1" y="61.3" width="0.8" height="0.8" opacity="0.85"/>
<rect x="113.5" y="75.2" width="0.8" height="0.8" opacity="1.0"/>
<rect x="140.7" y="75.8" width="0.8" height="0.8" opacity="0.7"/>
<rect x="144.4" y="62.9" width="0.8" height="0.8" opacity="0.85"/>
<rect x="135.6" y="51.2" width="0.8" height="0.8" opacity="1.0"/>
<rect x="116.2" y="79.4" width="0.8" height="0.8" opacity="0.4"/>
<rect x="133.5" y="45.1" width="0.8" height="0.8" opacity="0.85"/>
<rect x="105.3" y="56.0" width="0.8" height="0.8" opacity="0.85"/>
<rect x="118.9" y="84.4" width="0.8" height="0.8" opacity="1.0"/>
<rect x="146.0" y="64.0" width="0.8" height="0.8" opacity="0.7"/>
<rect x="108.4" y="65.4" width="0.8" height="0.8" opacity="1.0"/>
<rect x="124.0" y="93.5" width="0.8" height="0.8" opacity="1.0"/>
<rect x="134.6" y="101.3" width="0.8" height="0.8" opacity="0.85"/>
<rect x="125.9" y="90.8" width="0.8" height="0.8" opacity="0.55"/>
<rect x="143.5" y="68.0" width="0.8" height="0.8" opacity="0.85"/>
<rect x="115.6" y="73.1" width="0.8" height="0.8" opacity="0.7"/>
<rect x="110.7" y="55.8" width="0.8" height="0.8" opacity="0.4"/>
<rect x="108.9" y="69.3" width="0.8" height="0.8" opacity="0.85"/>
<rect x="112.2" y="73.9" width="0.8" height="0.8" opacity="1.0"/>
<rect x="138.4" y="86.0" width="0.8" height="0.8" opacity="0.7"/>
<rect x="129.0" y="100.3" width="0.8" height="0.8" opacity="1.0"/>
<rect x="128.8" y="46.1" width="0.8" height="0.8" opacity="0.7"/>
<rect x="123.0" y="90.6" width="0.8" height="0.8" opacity="0.4"/>
<rect x="118.6" y="84.3" width="0.8" height="0.8" opacity="1.0"/>
<rect x="143.0" y="79.6" width="0.8" height="0.8" opacity="0.55"/>
<rect x="130.6" y="53.9" width="0.8" height="0.8" opacity="1.0"/>
<rect x="115.2" y="77.6" width="0.8" height="0.8" opacity="0.7"/>
<rect x="137.7" y="55.9" width="0.8" height="0.8" opacity="0.7"/>
<rect x="127.1" y="50.4" width="0.8" height="0.8" opacity="0.85"/>
<rect x="107.9" y="58.6" width="0.8" height="0.8" opacity="0.7"/>
<rect x="110.0" y="62.6" width="0.8" height="0.8" opacity="1.0"/>
<rect x="108.8" y="55.0" width="0.8" height="0.8" opacity="1.0"/>
<rect x="144.3" y="80.2" width="0.8" height="0.8" opacity="0.85"/>
<rect x="121.0" y="52.0" width="0.8" height="0.8" opacity="1.0"/>
<rect x="108.1" y="55.7" width="0.8" height="0.8" opacity="0.55"/>
<rect x="122.4" y="94.2" width="0.8" height="0.8" opacity="0.55"/>
<rect x="143.6" y="83.2" width="0.8" height="0.8" opacity="0.4"/>
<rect x="144.3" y="68.5" width="0.8" height="0.8" opacity="1.0"/>
<rect x="140.2" y="75.0" width="0.8" height="0.8" opacity="0.7"/>
<rect x="144.3" y="78.9" width="0.8" height="0.8" opacity="1.0"/>
<rect x="112.7" y="68.6" width="0.8" height="0.8" opacity="0.55"/>
<rect x="112.5" y="72.6" width="0.8" height="0.8" opacity="1.0"/>
<rect x="141.1" y="82.5" width="0.8" height="0.8" opacity="0.55"/>
<rect x="115.8" y="51.9" width="0.8" height="0.8" opacity="0.7"/>
<rect x="122.9" y="90.7" width="0.8" height="0.8" opacity="0.55"/>
<rect x="140.8" y="76.6" width="0.8" height="0.8" opacity="0.55"/>
<rect x="142.1" y="69.3" width="0.8" height="0.8" opacity="0.55"/>
<rect x="128.5" y="47.1" width="0.8" height="0.8" opacity="0.85"/>
<rect x="139.3" y="71.5" width="0.8" height="0.8" opacity="0.55"/>
<rect x="110.4" y="52.7" width="0.8" height="0.8" opacity="0.4"/>
<rect x="121.4" y="82.8" width="0.8" height="0.8" opacity="0.7"/>
<rect x="117.2" y="48.8" width="0.8" height="0.8" opacity="0.85"/>
<rect x="120.6" y="91.2" width="0.8" height="0.8" opacity="0.7"/>
<rect x="113.3" y="77.9" width="0.8" height="0.8" opacity="0.85"/>
<rect x="109.5" y="66.6" width="0.8" height="0.8" opacity="0.4"/>
<rect x="145.2" y="70.5" width="0.8" height="0.8" opacity="0.85"/>
<rect x="107.3" y="58.9" width="0.8" height="0.8" opacity="0.55"/>
<rect x="140.8" y="56.7" width="0.8" height="0.8" opacity="0.7"/>
<rect x="141.0" y="76.7" width="0.8" height="0.8" opacity="0.85"/>
<rect x="145.1" y="67.8" width="0.8" height="0.8" opacity="0.4"/>
<rect x="124.4" y="87.6" width="0.8" height="0.8" opacity="0.7"/>
<rect x="135.9" y="49.9" width="0.8" height="0.8" opacity="0.7"/>
<rect x="137.0" y="54.4" width="0.8" height="0.8" opacity="1.0"/>
<rect x="115.3" y="78.7" width="0.8" height="0.8" opacity="1.0"/>
<rect x="138.0" y="99.4" width="0.8" height="0.8" opacity="0.7"/>
<rect x="142.7" y="63.2" width="0.8" height="0.8" opacity="0.85"/>
<rect x="114.7" y="80.1" width="0.8" height="0.8" opacity="0.4"/>
<rect x="140.6" y="94.9" width="0.8" height="0.8" opacity="0.7"/>
<rect x="146.3" y="65.2" width="0.8" height="0.8" opacity="0.85"/>
<rect x="145.7" y="71.8" width="0.8" height="0.8" opacity="0.7"/>
<rect x="134.5" y="50.4" width="0.8" height="0.8" opacity="0.85"/>
<rect x="141.7" y="59.2" width="0.8" height="0.8" opacity="0.4"/>
<rect x="138.0" y="84.3" width="0.8" height="0.8" opacity="0.85"/>
<rect x="125.3" y="101.5" width="0.8" height="0.8" opacity="0.85"/>
<rect x="117.5" y="76.7" width="0.8" height="0.8" opacity="0.55"/>
<rect x="111.0" y="67.6" width="0.8" height="0.8" opacity="1.0"/>
<rect x="115.1" y="77.7" width="0.8" height="0.8" opacity="0.55"/>
<rect x="111.8" y="54.3" width="0.8" height="0.8" opacity="0.4"/>
<rect x="140.1" y="54.5" width="0.8" height="0.8" opacity="0.55"/>
<rect x="137.5" y="50.8" width="0.8" height="0.8" opacity="0.7"/>
<rect x="129.9" y="46.6" width="0.8" height="0.8" opacity="0.85"/>
<rect x="131.0" y="47.5" width="0.8" height="0.8" opacity="1.0"/>
<rect x="116.7" y="79.8" width="0.8" height="0.8" opacity="0.55"/>
<rect x="119.3" y="81.8" width="0.8" height="0.8" opacity="1.0"/>
<rect x="122.0" y="93.6" width="0.8" height="0.8" opacity="0.7"/>
<rect x="145.2" y="75.8" width="0.8" height="0.8" opacity="1.0"/>
<rect x="140.4" y="56.6" width="0.8" height="0.8" opacity="0.7"/>
<rect x="142.4" y="85.6" width="0.8" height="0.8" opacity="0.85"/>
<rect x="123.0" y="49.2" width="0.8" height="0.8" opacity="0.7"/>
<rect x="138.2" y="90.6" width="0.8" height="0.8" opacity="0.4"/>
<rect x="111.9" y="77.4" width="0.8" height="0.8" opacity="1.0"/>
<rect x="129.0" y="95.4" width="0.8" height="0.8" opacity="0.55"/>
<rect x="144.8" y="74.9" width="0.8" height="0.8" opacity="0.4"/>
<rect x="130.8" y="99.0" width="0.8" height="0.8" opacity="1.0"/>
<rect x="131.9" y="94.8" width="0.8" height="0.8" opacity="0.7"/>
<rect x="147.4" y="62.9" width="0.8" height="0.8" opacity="0.4"/>
<rect x="141.0" y="83.2" width="0.8" height="0.8" opacity="1.0"/>
<rect x="122.2" y="89.9" width="0.8" height="0.8" opacity="0.55"/>
<rect x="111.5" y="76.2" width="0.8" height="0.8" opacity="0.7"/>
<rect x="138.7" y="87.4" width="0.8" height="0.8" opacity="1.0"/>
<rect x="140.8" y="78.6" width="0.8" height="0.8" opacity="0.7"/>
<rect x="114.6" y="82.5" width="0.8" height="0.8" opacity="0.7"/>
<rect x="142.9" y="73.1" width="0.8" height="0.8" opacity="0.7"/>
<rect x="142.5" y="85.9" width="0.8" height="0.8" opacity="0.55"/>
<rect x="117.3" y="84.3" width="0.8" height="0.8" opacity="0.7"/>
<rect x="140.3" y="57.8" width="0.8" height="0.8" opacity="0.85"/>
<rect x="122.2" y="84.4" width="0.8" height="0.8" opacity="0.4"/>
<rect x="111.2" y="71.1" width="0.8" height="0.8" opacity="1.0"/>
<rect x="144.5" y="59.6" width="0.8" height="0.8" opacity="0.85"/>
<rect x="107.4" y="64.7" width="0.8" height="0.8" opacity="0.4"/>
<rect x="121.0" y="81.3" width="0.8" height="0.8" opacity="0.55"/>
<rect x="131.0" y="97.7" width="0.8" height="0.8" opacity="0.55"/>
<rect x="134.6" y="96.6" width="0.8" height="0.8" opacity="0.85"/>
<rect x="124.1" y="98.0" width="0.8" height="0.8" opacity="0.7"/>
<rect x="119.9" y="50.6" width="0.8" height="0.8" opacity="1.0"/>
<rect x="122.3" y="83.0" width="0.8" height="0.8" opacity="0.7"/>
<rect x="147.3" y="65.0" width="0.8" height="0.8" opacity="0.4"/>
<rect x="137.1" y="95.6" width="0.8" height="0.8" opacity="0.85"/>
<rect x="142.9" y="77.6" width="0.8" height="0.8" opacity="0.85"/>
<rect x="131.3" y="98.7" width="0.8" height="0.8" opacity="0.7"/>
<rect x="138.1" y="94.8" width="0.8" height="0.8" opacity="0.4"/>
<rect x="112.5" y="78.2" width="0.8" height="0.8" opacity="0.7"/>
<rect x="144.8" y="78.9" width="0.8" height="0.8" opacity="0.85"/>
<rect x="141.3" y="95.2" width="0.8" height="0.8" opacity="0.85"/>
<rect x="140.2" y="83.0" width="0.8" height="0.8" opacity="1.0"/>
<rect x="130.6" y="100.0" width="0.8" height="0.8" opacity="0.7"/>
<rect x="112.5" y="55.0" width="0.8" height="0.8" opacity="0.7"/>
<rect x="123.3" y="49.4" width="0.8" height="0.8" opacity="0.55"/>
<rect x="113.1" y="73.7" width="0.8" height="0.8" opacity="0.85"/>
<rect x="123.7" y="94.7" width="0.8" height="0.8" opacity="1.0"/>
<rect x="134.8" y="51.6" width="0.8" height="0.8" opacity="0.55"/>
<rect x="126.2" y="89.0" width="0.8" height="0.8" opacity="1.0"/>
<rect x="114.9" y="47.9" width="0.8" height="0.8" opacity="0.55"/>
<rect x="143.4" y="79.8" width="0.8" height="0.8" opacity="1.0"/>
<rect x="108.2" y="60.8" width="0.8" height="0.8" opacity="0.7"/>
<rect x="106.7" y="51.7" width="0.8" height="0.8" opacity="0.4"/>
<rect x="115.3" y="53.8" width="0.8" height="0.8" opacity="0.55"/>
<rect x="130.0" y="47.4" width="0.8" height="0.8" opacity="0.7"/>
<rect x="112.2" y="53.4" width="0.8" height="0.8" opacity="0.4"/>
<rect x="142.5" y="76.6" width="0.8" height="0.8" opacity="0.4"/>
<rect x="115.8" y="84.4" width="0.8" height="0.8" opacity="0.85"/>
<rect x="130.1" y="101.0" width="0.8" height="0.8" opacity="0.85"/>
<rect x="122.3" y="82.0" width="0.8" height="0.8" opacity="0.85"/>
<rect x="136.8" y="95.2" width="0.8" height="0.8" opacity="1.0"/>
<rect x="106.8" y="55.8" width="0.8" height="0.8" opacity="0.85"/>
<rect x="140.0" y="59.7" width="0.8" height="0.8" opacity="0.85"/>
<rect x="113.8" y="76.9" width="0.8" height="0.8" opacity="0.4"/>
<rect x="145.2" y="75.0" width="0.8" height="0.8" opacity="0.4"/>
<rect x="122.4" y="92.4" width="0.8" height="0.8" opacity="1.0"/>
<rect x="117.1" y="80.9" width="0.8" height="0.8" opacity="1.0"/>
<rect x="137.6" y="56.6" width="0.8" height="0.8" opacity="0.85"/>
<rect x="117.0" y="79.4" width="0.8" height="0.8" opacity="0.85"/>
<rect x="116.9" y="73.7" width="0.8" height="0.8" opacity="0.85"/>
<rect x="136.2" y="99.3" width="0.8" height="0.8" opacity="0.85"/>
<rect x="115.2" y="76.4" width="0.8" height="0.8" opacity="0.85"/>
<rect x="147.5" y="66.9" width="0.8" height="0.8" opacity="0.55"/>
<rect x="119.0" y="85.5" width="0.8" height="0.8" opacity="0.4"/>
<rect x="109.6" y="68.4" width="0.8" height="0.8" opacity="0.85"/>
<rect x="125.2" y="96.4" width="0.8" height="0.8" opacity="0.85"/>
<rect x="139.6" y="50.4" width="0.8" height="0.8" opacity="0.85"/>
<rect x="145.3" y="82.5" width="0.8" height="0.8" opacity="0.55"/>
<rect x="120.0" y="87.8" width="0.8" height="0.8" opacity="1.0"/>
<rect x="113.3" y="68.1" width="0.8" height="0.8" opacity="0.4"/>
<rect x="139.8" y="81.8" width="0.8" height="0.8" opacity="0.55"/>
<rect x="133.3" y="53.8" width="0.8" height="0.8" opacity="0.55"/>
<rect x="143.4" y="66.8" width="0.8" height="0.8" opacity="0.85"/>
<rect x="139.2" y="88.3" width="0.8" height="0.8" opacity="1.0"/>
<rect x="106.7" y="57.3" width="0.8" height="0.8" opacity="0.4"/>
<rect x="132.0" y="98.5" width="0.8" height="0.8" opacity="0.7"/>
<rect x="133.6" y="100.3" width="0.8" height="0.8" opacity="1.0"/>
<rect x="116.3" y="55.9" width="0.8" height="0.8" opacity="0.7"/>
<rect x="110.1" y="74.0" width="0.8" height="0.8" opacity="0.85"/>
<rect x="140.5" y="52.8" width="0.8" height="0.8" opacity="0.85"/>
<rect x="109.1" y="59.5" width="0.8" height="0.8" opacity="0.4"/>
<rect x="108.2" y="61.8" width="0.8" height="0.8" opacity="0.4"/>
<rect x="133.3" y="52.0" width="0.8" height="0.8" opacity="0.55"/>
<rect x="109.0" y="50.5" width="0.8" height="0.8" opacity="0.4"/>
<rect x="146.6" y="78.7" width="0.8" height="0.8" opacity="1.0"/>
<rect x="112.8" y="49.7" width="0.8" height="0.8" opacity="0.4"/>
<rect x="123.8" y="49.2" width="0.8" height="0.8" opacity="0.4"/>
<rect x="133.6" y="89.8" width="0.8" height="0.8" opacity="0.85"/>
<rect x="125.5" y="98.3" width="0.8" height="0.8" opacity="0.4"/>
<rect x="134.3" y="47.6" width="0.8" height="0.8" opacity="0.55"/>
<rect x="137.3" y="52.6" width="0.8" height="0.8" opacity="1.0"/>
<rect x="149.2" y="63.5" width="0.8" height="0.8" opacity="0.85"/>
<rect x="118.6" y="78.4" width="0.8" height="0.8" opacity="0.4"/>
<rect x="120.4" y="87.2" width="0.8" height="0.8" opacity="0.55"/>
<rect x="115.9" y="54.6" width="0.8" height="0.8" opacity="0.7"/>
<rect x="108.1" y="62.8" width="0.8" height="0.8" opacity="0.85"/>
<rect x="135.7" y="96.4" width="0.8" height="0.8" opacity="0.4"/>
<rect x="144.6" y="63.5" width="0.8" height="0.8" opacity="1.0"/>
<rect x="141.5" y="84.6" width="0.8" height="0.8" opacity="0.85"/>
<rect x="125.2" y="48.8" width="0.8" height="0.8" opacity="1.0"/>
<rect x="123.9" y="92.0" width="0.8" height="0.8" opacity="0.55"/>
<rect x="110.5" y="71.0" width="0.8" height="0.8" opacity="0.85"/>
<rect x="113.9" y="72.9" width="0.8" height="0.8" opacity="0.4"/>
<rect x="146.8" y="81.7" width="0.8" height="0.8" opacity="0.55"/>
<rect x="112.9" y="74.9" width="0.8" height="0.8" opacity="0.7"/>
<rect x="146.1" y="62.3" width="0.8" height="0.8" opacity="0.7"/>
<rect x="133.2" y="101.3" width="0.8" height="0.8" opacity="0.55"/>
<rect x="113.1" y="48.8" width="0.8" height="0.8" opacity="1.0"/>
<rect x="126.8" y="47.8" width="0.8" height="0.8" opacity="0.4"/>
<rect x="145.2" y="75.6" width="0.8" height="0.8" opacity="0.55"/>
<rect x="114.1" y="78.2" width="0.8" height="0.8" opacity="1.0"/>
<rect x="138.2" y="88.7" width="0.8" height="0.8" opacity="0.7"/>
<rect x="122.1" y="49.6" width="0.8" height="0.8" opacity="1.0"/>
<rect x="110.6" y="68.8" width="0.8" height="0.8" opacity="0.7"/>
<rect x="140.6" y="84.3" width="0.8" height="0.8" opacity="0.4"/>
<rect x="128.6" y="56.2" width="0.8" height="0.8" opacity="0.7"/>
<rect x="108.3" y="56.0" width="0.8" height="0.8" opacity="0.85"/>
<rect x="142.8" y="57.8" width="0.8" height="0.8" opacity="0.7"/>
<rect x="121.4" y="96.2" width="0.8" height="0.8" opacity="0.7"/>
<rect x="109.9" y="53.0" width="0.8" height="0.8" opacity="1.0"/>
<rect x="129.1" y="49.2" width="0.8" height="0.8" opacity="0.85"/>
<rect x="139.4" y="91.2" width="0.8" height="0.8" opacity="1.0"/>
<rect x="111.0" y="70.8" width="0.8" height="0.8" opacity="0.85"/>
<rect x="126.3" y="52.6" width="0.8" height="0.8" opacity="0.4"/>
<rect x="124.4" y="92.9" width="0.8" height="0.8" opacity="0.7"/>
<rect x="115.7" y="48.7" width="0.8" height="0.8" opacity="0.7"/>
<rect x="141.8" y="59.4" width="0.8" height="0.8" opacity="0.55"/>
<rect x="125.5" y="89.8" width="0.8" height="0.8" opacity="0.85"/>
<rect x="136.4" y="52.6" width="0.8" height="0.8" opacity="0.85"/>
<rect x="144.3" y="73.0" width="0.8" height="0.8" opacity="1.0"/>
<rect x="114.7" y="84.0" width="0.8" height="0.8" opacity="0.7"/>
<rect x="112.7" y="74.0" width="0.8" height="0.8" opacity="0.7"/>
<rect x="106.1" y="68.8" width="0.8" height="0.8" opacity="0.55"/>
<rect x="142.1" y="59.4" width="0.8" height="0.8" opacity="0.55"/>
<rect x="146.7" y="70.1" width="0.8" height="0.8" opacity="0.4"/>
<rect x="138.0" y="97.9" width="0.8" height="0.8" opacity="0.55"/>
<rect x="141.6" y="78.5" width="0.8" height="0.8" opacity="1.0"/>
<rect x="125.7" y="87.7" width="0.8" height="0.8" opacity="0.7"/>
<rect x="144.0" y="59.8" width="0.8" height="0.8" opacity="0.85"/>
<rect x="125.4" y="89.1" width="0.8" height="0.8" opacity="0.85"/>
<rect x="105.8" y="62.6" width="0.8" height="0.8" opacity="1.0"/>
<rect x="137.9" y="89.4" width="0.8" height="0.8" opacity="0.55"/>
<rect x="108.4" y="62.0" width="0.8" height="0.8" opacity="0.7"/>
<rect x="119.8" y="54.0" width="0.8" height="0.8" opacity="0.7"/>
<rect x="113.6" y="55.7" width="0.8" height="0.8" opacity="0.55"/>
<rect x="135.1" y="51.2" width="0.8" height="0.8" opacity="0.85"/>
<rect x="133.3" y="95.2" width="0.8" height="0.8" opacity="1.0"/>
<rect x="122.2" y="47.4" width="0.8" height="0.8" opacity="0.4"/>
<rect x="114.3" y="54.3" width="0.8" height="0.8" opacity="0.7"/>
<rect x="139.5" y="86.7" width="0.8" height="0.8" opacity="0.4"/>
<rect x="146.5" y="75.6" width="0.8" height="0.8" opacity="1.0"/>
<rect x="115.0" y="76.7" width="0.8" height="0.8" opacity="0.4"/>
<rect x="123.7" y="91.5" width="0.8" height="0.8" opacity="0.85"/>
<rect x="107.2" y="66.2" width="0.8" height="0.8" opacity="1.0"/>
<rect x="112.6" y="76.6" width="0.8" height="0.8" opacity="0.7"/>
<rect x="109.1" y="62.3" width="0.8" height="0.8" opacity="0.4"/>
<rect x="135.6" y="57.3" width="0.8" height="0.8" opacity="0.7"/>
<rect x="111.2" y="49.4" width="0.8" height="0.8" opacity="0.55"/>
<rect x="117.4" y="78.7" width="0.8" height="0.8" opacity="0.85"/>
<rect x="149.0" y="85.0" width="0.8" height="0.8" opacity="0.7"/>
<rect x="133.5" y="56.6" width="0.8" height="0.8" opacity="0.55"/>
<rect x="143.8" y="67.6" width="0.8" height="0.8" opacity="0.55"/>
<rect x="142.4" y="77.0" width="0.8" height="0.8" opacity="1.0"/>
<rect x="132.5" y="47.7" width="0.8" height="0.8" opacity="1.0"/>
<rect x="103.5" y="58.7" width="0.8" height="0.8" opacity="0.85"/>
<rect x="112.8" y="70.7" width="0.8" height="0.8" opacity="0.85"/>
<rect x="130.0" y="105.8" width="0.8" height="0.8" opacity="0.85"/>
<rect x="131.1" y="53.7" width="0.8" height="0.8" opacity="0.55"/>
<rect x="133.0" y="106.0" width="0.8" height="0.8" opacity="0.55"/>
<rect x="146.8" y="76.0" width="0.8" height="0.8" opacity="0.4"/>
<rect x="142.1" y="58.3" width="0.8" height="0.8" opacity="0.55"/>
<rect x="140.6" y="96.3" width="0.8" height="0.8" opacity="0.85"/>
<rect x="135.2" y="57.0" width="0.8" height="0.8" opacity="0.4"/>
<rect x="127.8" y="50.6" width="0.8" height="0.8" opacity="0.4"/>
<rect x="139.5" y="60.8" width="0.8" height="0.8" opacity="0.55"/>
<rect x="143.2" y="56.2" width="0.8" height="0.8" opacity="0.4"/>
<rect x="110.2" y="73.3" width="0.8" height="0.8" opacity="1.0"/>
<rect x="131.8" y="105.1" width="0.8" height="0.8" opacity="0.85"/>
<rect x="135.9" y="78.7" width="0.8" height="0.8" opacity="0.55"/>
<rect x="140.2" y="84.7" width="0.8" height="0.8" opacity="0.4"/>
<rect x="131.2" y="51.8" width="0.8" height="0.8" opacity="1.0"/>
<rect x="140.4" y="97.2" width="0.8" height="0.8" opacity="0.55"/>
<rect x="113.6" y="80.1" width="0.8" height="0.8" opacity="0.85"/>
<rect x="137.3" y="97.5" width="0.8" height="0.8" opacity="0.55"/>
<rect x="143.1" y="56.3" width="0.8" height="0.8" opacity="0.7"/>
<rect x="118.3" y="47.3" width="0.8" height="0.8" opacity="0.55"/>
<rect x="110.7" y="54.3" width="0.8" height="0.8" opacity="1.0"/>
<rect x="124.9" y="91.3" width="0.8" height="0.8" opacity="0.55"/>
<rect x="108.2" y="59.2" width="0.8" height="0.8" opacity="0.55"/>
<rect x="140.9" y="69.5" width="0.8" height="0.8" opacity="0.55"/>
<rect x="138.3" y="93.3" width="0.8" height="0.8" opacity="1.0"/>
<rect x="138.3" y="80.4" width="0.8" height="0.8" opacity="0.4"/>
<rect x="112.8" y="87.6" width="0.8" height="0.8" opacity="0.85"/>
<rect x="126.4" y="91.2" width="0.8" height="0.8" opacity="0.4"/>
<rect x="120.4" y="73.4" width="0.8" height="0.8" opacity="0.55"/>
<rect x="124.6" y="97.0" width="0.8" height="0.8" opacity="0.4"/>
<rect x="130.0" y="99.0" width="0.8" height="0.8" opacity="0.4"/>
<rect x="109.2" y="70.2" width="0.8" height="0.8" opacity="0.85"/>
<rect x="135.4" y="81.4" width="0.8" height="0.8" opacity="0.55"/>
<rect x="138.1" y="62.3" width="0.8" height="0.8" opacity="0.7"/>
<rect x="142.0" y="77.7" width="0.8" height="0.8" opacity="0.85"/>
<rect x="109.1" y="75.8" width="0.8" height="0.8" opacity="0.85"/>
<rect x="129.9" y="52.6" width="0.8" height="0.8" opacity="0.55"/>
<rect x="135.0" y="94.6" width="0.8" height="0.8" opacity="0.4"/>
<rect x="106.1" y="74.7" width="0.8" height="0.8" opacity="0.55"/>
<rect x="117.8" y="76.4" width="0.8" height="0.8" opacity="0.4"/>
<rect x="144.2" y="75.8" width="0.8" height="0.8" opacity="0.55"/>
<rect x="107.9" y="50.2" width="0.8" height="0.8" opacity="0.85"/>
<rect x="110.8" y="61.4" width="0.8" height="0.8" opacity="0.7"/>
<rect x="102.0" y="55.8" width="0.8" height="0.8" opacity="0.55"/>
<rect x="122.8" y="97.9" width="0.8" height="0.8" opacity="1.0"/>
<rect x="128.9" y="106.6" width="0.8" height="0.8" opacity="0.7"/>
<rect x="124.7" y="95.9" width="0.8" height="0.8" opacity="1.0"/>
<rect x="141.1" y="72.6" width="0.8" height="0.8" opacity="0.55"/>
<rect x="145.2" y="87.4" width="0.8" height="0.8" opacity="0.7"/>
<rect x="134.6" y="86.2" width="0.8" height="0.8" opacity="0.7"/>
<rect x="104.4" y="61.3" width="0.8" height="0.8" opacity="0.7"/>
<rect x="118.4" y="83.3" width="0.8" height="0.8" opacity="1.0"/>
<rect x="110.4" y="54.4" width="0.8" height="0.8" opacity="0.55"/>
<rect x="126.3" y="45.6" width="0.8" height="0.8" opacity="0.55"/>
<rect x="125.5" y="78.7" width="0.8" height="0.8" opacity="0.55"/>
<rect x="145.9" y="78.5" width="0.8" height="0.8" opacity="0.85"/>
<rect x="136.2" y="86.9" width="0.8" height="0.8" opacity="0.4"/>
<rect x="126.3" y="45.7" width="0.8" height="0.8" opacity="0.7"/>
<rect x="151.7" y="66.1" width="0.8" height="0.8" opacity="0.85"/>
<rect x="105.4" y="56.9" width="0.8" height="0.8" opacity="0.55"/>
<rect x="143.4" y="59.9" width="0.8" height="0.8" opacity="0.7"/>
<rect x="146.7" y="55.0" width="0.8" height="0.8" opacity="0.55"/>
<rect x="129.3" y="102.0" width="0.8" height="0.8" opacity="1.0"/>
<rect x="136.9" y="99.0" width="0.8" height="0.8" opacity="0.4"/>
<rect x="144.2" y="89.6" width="0.8" height="0.8" opacity="0.55"/>
<rect x="146.2" y="75.9" width="0.8" height="0.8" opacity="0.85"/>
<rect x="122.2" y="87.7" width="0.8" height="0.8" opacity="0.55"/>
<rect x="120.7" y="48.4" width="0.8" height="0.8" opacity="0.55"/>
<rect x="134.3" y="98.2" width="0.8" height="0.8" opacity="0.85"/>
<rect x="109.3" y="51.2" width="0.8" height="0.8" opacity="0.7"/>
<rect x="122.2" y="93.8" width="0.8" height="0.8" opacity="0.85"/>
<rect x="148.4" y="61.3" width="0.8" height="0.8" opacity="0.4"/>
<rect x="133.6" y="100.5" width="0.8" height="0.8" opacity="0.4"/>
<rect x="154.3" y="73.9" width="0.8" height="0.8" opacity="0.7"/>
<rect x="141.1" y="95.3" width="0.8" height="0.8" opacity="0.4"/>
<rect x="133.1" y="101.9" width="0.8" height="0.8" opacity="0.55"/>
<rect x="111.7" y="62.5" width="0.8" height="0.8" opacity="1.0"/>
<rect x="112.7" y="66.1" width="0.8" height="0.8" opacity="1.0"/>
<rect x="139.8" y="97.3" width="0.8" height="0.8" opacity="0.4"/>
<rect x="108.8" y="67.5" width="0.8" height="0.8" opacity="0.7"/>
<rect x="124.3" y="95.1" width="0.8" height="0.8" opacity="0.85"/>
<rect x="104.5" y="73.4" width="0.8" height="0.8" opacity="0.7"/>
<rect x="140.4" y="57.0" width="0.8" height="0.8" opacity="0.4"/>
<rect x="134.7" y="49.7" width="0.8" height="0.8" opacity="0.85"/>
<rect x="141.4" y="97.4" width="0.8" height="0.8" opacity="0.4"/>
<rect x="144.1" y="71.7" width="0.8" height="0.8" opacity="0.55"/>
<rect x="124.6" y="45.8" width="0.8" height="0.8" opacity="0.85"/>
<rect x="139.9" y="56.8" width="0.8" height="0.8" opacity="0.7"/>
<rect x="144.1" y="54.4" width="0.8" height="0.8" opacity="0.7"/>
<rect x="148.9" y="70.6" width="0.8" height="0.8" opacity="1.0"/>
<rect x="117.4" y="58.7" width="0.8" height="0.8" opacity="1.0"/>
<rect x="115.2" y="52.4" width="0.8" height="0.8" opacity="1.0"/>
<rect x="119.5" y="84.6" width="0.8" height="0.8" opacity="0.4"/>
<rect x="115.2" y="98.7" width="0.8" height="0.8" opacity="0.55"/>
<rect x="138.9" y="49.9" width="0.8" height="0.8" opacity="0.55"/>
<rect x="134.0" y="53.2" width="0.8" height="0.8" opacity="0.85"/>
<rect x="123.9" y="102.3" width="0.8" height="0.8" opacity="0.7"/>
<rect x="133.7" y="99.6" width="0.8" height="0.8" opacity="0.55"/>
<rect x="136.3" y="108.1" width="0.8" height="0.8" opacity="1.0"/>
<rect x="117.0" y="49.1" width="0.8" height="0.8" opacity="0.7"/>
<rect x="141.4" y="51.7" width="0.8" height="0.8" opacity="0.4"/>
<rect x="125.3" y="96.2" width="0.8" height="0.8" opacity="1.0"/>
<rect x="147.6" y="72.8" width="0.8" height="0.8" opacity="1.0"/>
<rect x="111.0" y="81.6" width="0.8" height="0.8" opacity="0.4"/>
<rect x="116.7" y="48.2" width="0.8" height="0.8" opacity="0.4"/>
<rect x="139.2" y="87.2" width="0.8" height="0.8" opacity="0.7"/>
<rect x="144.3" y="63.1" width="0.8" height="0.8" opacity="0.55"/>
<rect x="122.8" y="96.0" width="0.8" height="0.8" opacity="0.55"/>
<rect x="112.0" y="59.1" width="0.8" height="0.8" opacity="0.7"/>
<rect x="115.7" y="77.1" width="0.8" height="0.8" opacity="0.4"/>
<rect x="107.9" y="47.8" width="0.8" height="0.8" opacity="0.55"/>
<rect x="139.6" y="69.6" width="0.8" height="0.8" opacity="0.7"/>
<rect x="125.1" y="102.2" width="0.8" height="0.8" opacity="0.7"/>
<rect x="143.3" y="64.1" width="0.8" height="0.8" opacity="0.85"/>
<rect x="127.8" y="45.9" width="0.8" height="0.8" opacity="0.85"/>
<rect x="125.3" y="92.3" width="0.8" height="0.8" opacity="0.55"/>
<rect x="129.1" y="52.8" width="0.8" height="0.8" opacity="0.7"/>
<rect x="149.4" y="71.1" width="0.8" height="0.8" opacity="0.7"/>
<rect x="134.7" y="107.1" width="0.8" height="0.8" opacity="0.55"/>
<rect x="136.2" y="91.5" width="0.8" height="0.8" opacity="0.4"/>
<rect x="141.6" y="73.4" width="0.8" height="0.8" opacity="0.7"/>
<rect x="111.4" y="49.4" width="0.8" height="0.8" opacity="0.4"/>
<rect x="150.5" y="60.3" width="0.8" height="0.8" opacity="1.0"/>
<rect x="137.5" y="100.1" width="0.8" height="0.8" opacity="0.85"/>
<rect x="121.8" y="46.8" width="0.8" height="0.8" opacity="0.4"/>
<rect x="110.3" y="65.7" width="0.8" height="0.8" opacity="1.0"/>
<rect x="119.5" y="98.7" width="0.8" height="0.8" opacity="0.4"/>
<rect x="115.2" y="80.2" width="0.8" height="0.8" opacity="0.55"/>
<rect x="99.4" y="68.3" width="0.8" height="0.8" opacity="1.0"/>
<rect x="125.0" y="86.0" width="0.8" height="0.8" opacity="0.85"/>
<rect x="130.7" y="100.5" width="0.8" height="0.8" opacity="0.85"/>
<rect x="120.3" y="96.0" width="0.8" height="0.8" opacity="0.4"/>
<rect x="114.8" y="71.4" width="0.8" height="0.8" opacity="0.4"/>
<rect x="109.9" y="44.8" width="0.8" height="0.8" opacity="0.4"/>
<rect x="128.7" y="51.6" width="0.8" height="0.8" opacity="1.0"/>
<rect x="127.8" y="98.4" width="0.8" height="0.8" opacity="1.0"/>
<rect x="111.2" y="55.0" width="0.8" height="0.8" opacity="0.4"/>
<rect x="132.1" y="53.4" width="0.8" height="0.8" opacity="0.85"/>
<rect x="122.9" y="89.7" width="0.8" height="0.8" opacity="0.55"/>
<rect x="133.3" y="52.7" width="0.8" height="0.8" opacity="0.85"/>
<rect x="106.8" y="68.0" width="0.8" height="0.8" opacity="1.0"/>
<rect x="115.6" y="75.9" width="0.8" height="0.8" opacity="0.7"/>
<rect x="147.1" y="58.5" width="0.8" height="0.8" opacity="0.4"/>
<rect x="123.8" y="92.2" width="0.8" height="0.8" opacity="0.7"/>
<rect x="127.6" y="100.1" width="0.8" height="0.8" opacity="0.55"/>
<rect x="118.2" y="80.4" width="0.8" height="0.8" opacity="0.7"/>
<rect x="145.9" y="68.9" width="0.8" height="0.8" opacity="0.55"/>
<rect x="143.9" y="63.9" width="0.8" height="0.8" opacity="0.4"/>
<rect x="145.6" y="81.5" width="0.8" height="0.8" opacity="0.7"/>
<rect x="139.7" y="83.6" width="0.8" height="0.8" opacity="0.4"/>
<rect x="129.6" y="51.6" width="0.8" height="0.8" opacity="0.85"/>
<rect x="127.5" y="91.1" width="0.8" height="0.8" opacity="0.7"/>
<rect x="105.9" y="58.1" width="0.8" height="0.8" opacity="0.55"/>
<rect x="137.7" y="85.3" width="0.8" height="0.8" opacity="0.7"/>
<rect x="148.0" y="91.8" width="0.8" height="0.8" opacity="0.4"/>
<rect x="123.0" y="91.2" width="0.8" height="0.8" opacity="0.4"/>
<rect x="129.3" y="101.6" width="0.8" height="0.8" opacity="0.55"/>
<rect x="132.4" y="50.5" width="0.8" height="0.8" opacity="0.4"/>
<rect x="113.9" y="79.8" width="0.8" height="0.8" opacity="0.55"/>
<rect x="136.9" y="90.8" width="0.8" height="0.8" opacity="0.85"/>
<rect x="130.6" y="41.2" width="0.8" height="0.8" opacity="0.7"/>
<rect x="120.5" y="91.0" width="0.8" height="0.8" opacity="1.0"/>
<rect x="113.9" y="82.6" width="0.8" height="0.8" opacity="1.0"/>
<rect x="131.8" y="98.5" width="0.8" height="0.8" opacity="0.4"/>
<rect x="143.5" y="54.6" width="0.8" height="0.8" opacity="0.7"/>
<rect x="135.2" y="93.7" width="0.8" height="0.8" opacity="0.85"/>
<rect x="115.7" y="67.0" width="0.8" height="0.8" opacity="0.55"/>
<rect x="141.8" y="88.7" width="0.8" height="0.8" opacity="0.55"/>
<rect x="142.5" y="99.6" width="0.8" height="0.8" opacity="1.0"/>
<rect x="116.9" y="53.4" width="0.8" height="0.8" opacity="1.0"/>
<rect x="122.7" y="51.5" width="0.8" height="0.8" opacity="0.4"/>
<rect x="131.6" y="50.3" width="0.8" height="0.8" opacity="1.0"/>
<rect x="119.5" y="70.6" width="0.8" height="0.8" opacity="0.7"/>
<rect x="142.3" y="82.5" width="0.8" height="0.8" opacity="0.7"/>
<rect x="135.3" y="89.4" width="0.8" height="0.8" opacity="0.55"/>
<rect x="138.9" y="70.5" width="0.8" height="0.8" opacity="0.7"/>
<rect x="112.8" y="72.2" width="0.8" height="0.8" opacity="0.85"/>
<rect x="139.0" y="76.7" width="0.8" height="0.8" opacity="1.0"/>
<rect x="135.6" y="52.9" width="0.8" height="0.8" opacity="0.55"/>
<rect x="151.6" y="78.7" width="0.8" height="0.8" opacity="0.55"/>
<rect x="124.4" y="72.0" width="0.8" height="0.8" opacity="0.55"/>
<rect x="133.7" y="99.0" width="0.8" height="0.8" opacity="1.0"/>
<rect x="123.8" y="93.8" width="0.8" height="0.8" opacity="1.0"/>
<rect x="141.8" y="93.5" width="0.8" height="0.8" opacity="0.55"/>
<rect x="128.7" y="102.5" width="0.8" height="0.8" opacity="0.4"/>
<rect x="114.8" y="71.9" width="0.8" height="0.8" opacity="0.4"/>
<rect x="124.8" y="96.6" width="0.8" height="0.8" opacity="0.4"/>
<rect x="124.3" y="101.8" width="0.8" height="0.8" opacity="0.4"/>
<rect x="138.4" y="73.7" width="0.8" height="0.8" opacity="0.85"/>
<rect x="147.1" y="74.0" width="0.8" height="0.8" opacity="1.0"/>
</g>
<defs><filter id="fb1b" x="-50%" y="-50%" width="200%" height="200%"><feGaussianBlur stdDeviation="2.2"/></filter><clipPath id="fb1c"><path d="M107.4,56.2 C109,53 111.5,51.5 114.8,50.8 C119,49.5 123,48.8 127,48.8 C132,48.8 136,50.5 139,53.5 C142,56 144,58.5 144.5,61.6 C145.5,64.5 146,67 145.8,69.6 C145.5,72.5 144.5,75 143.1,77.7 C141.5,81 140,84 139,87.2 C138,90.5 137.2,93.5 136.4,96.6 C135.6,98.5 134.5,100.3 133,100.6 C131,100.8 129,98.8 127,96.6 C124.5,93.5 122,89 120.2,85.8 C118,82 115.5,78.5 113.5,75 C111.5,71.5 110,68 108.8,64.3 C108,61.5 107,58.5 107.4,56.2 Z"/></clipPath></defs><path d="M107.4,56.2 C109,53 111.5,51.5 114.8,50.8 C119,49.5 123,48.8 127,48.8 C132,48.8 136,50.5 139,53.5 C142,56 144,58.5 144.5,61.6 C145.5,64.5 146,67 145.8,69.6 C145.5,72.5 144.5,75 143.1,77.7 C141.5,81 140,84 139,87.2 C138,90.5 137.2,93.5 136.4,96.6 C135.6,98.5 134.5,100.3 133,100.6 C131,100.8 129,98.8 127,96.6 C124.5,93.5 122,89 120.2,85.8 C118,82 115.5,78.5 113.5,75 C111.5,71.5 110,68 108.8,64.3 C108,61.5 107,58.5 107.4,56.2 Z" fill="#f2f2f2"/><g clip-path="url(#fb1c)"><g filter="url(#fb1b)"><ellipse cx="131" cy="63" rx="22" ry="17" fill="#aaaaaa" transform="rotate(35,131,63)"/><ellipse cx="132" cy="64" rx="17.5" ry="13" fill="#7c7c7c" transform="rotate(35,132,64)"/><ellipse cx="133" cy="64" rx="13" ry="9.5" fill="#585858" transform="rotate(35,133,64)"/><ellipse cx="134" cy="64" rx="8" ry="6" fill="#444444" transform="rotate(35,134,64)"/></g></g><g fill="none"><path d="M107.4,56.2 C109,53 111.5,51.5 114.8,50.8 C119,49.5 123,48.8 127,48.8 C132,48.8 136,50.5 139,53.5 C142,56 144,58.5 144.5,61.6 C145.5,64.5 146,67 145.8,69.6 C145.5,72.5 144.5,75 143.1,77.7 C141.5,81 140,84 139,87.2 C138,90.5 137.2,93.5 136.4,96.6 C135.6,98.5 134.5,100.3 133,100.6 C131,100.8 129,98.8 127,96.6 C124.5,93.5 122,89 120.2,85.8 C118,82 115.5,78.5 113.5,75 C111.5,71.5 110,68 108.8,64.3 C108,61.5 107,58.5 107.4,56.2 Z" stroke="#6a6a6a" stroke-width="0.55" opacity="0.85" transform="translate(136,58) scale(1.0) translate(-136,-58)"/><path d="M107.4,56.2 C109,53 111.5,51.5 114.8,50.8 C119,49.5 123,48.8 127,48.8 C132,48.8 136,50.5 139,53.5 C142,56 144,58.5 144.5,61.6 C145.5,64.5 146,67 145.8,69.6 C145.5,72.5 144.5,75 143.1,77.7 C141.5,81 140,84 139,87.2 C138,90.5 137.2,93.5 136.4,96.6 C135.6,98.5 134.5,100.3 133,100.6 C131,100.8 129,98.8 127,96.6 C124.5,93.5 122,89 120.2,85.8 C118,82 115.5,78.5 113.5,75 C111.5,71.5 110,68 108.8,64.3 C108,61.5 107,58.5 107.4,56.2 Z" stroke="#6a6a6a" stroke-width="0.55" opacity="0.85" transform="translate(136,58) scale(0.9) translate(-136,-58)"/><path d="M107.4,56.2 C109,53 111.5,51.5 114.8,50.8 C119,49.5 123,48.8 127,48.8 C132,48.8 136,50.5 139,53.5 C142,56 144,58.5 144.5,61.6 C145.5,64.5 146,67 145.8,69.6 C145.5,72.5 144.5,75 143.1,77.7 C141.5,81 140,84 139,87.2 C138,90.5 137.2,93.5 136.4,96.6 C135.6,98.5 134.5,100.3 133,100.6 C131,100.8 129,98.8 127,96.6 C124.5,93.5 122,89 120.2,85.8 C118,82 115.5,78.5 113.5,75 C111.5,71.5 110,68 108.8,64.3 C108,61.5 107,58.5 107.4,56.2 Z" stroke="#6a6a6a" stroke-width="0.55" opacity="0.85" transform="translate(136,58) scale(0.8) translate(-136,-58)"/><path d="M107.4,56.2 C109,53 111.5,51.5 114.8,50.8 C119,49.5 123,48.8 127,48.8 C132,48.8 136,50.5 139,53.5 C142,56 144,58.5 144.5,61.6 C145.5,64.5 146,67 145.8,69.6 C145.5,72.5 144.5,75 143.1,77.7 C141.5,81 140,84 139,87.2 C138,90.5 137.2,93.5 136.4,96.6 C135.6,98.5 134.5,100.3 133,100.6 C131,100.8 129,98.8 127,96.6 C124.5,93.5 122,89 120.2,85.8 C118,82 115.5,78.5 113.5,75 C111.5,71.5 110,68 108.8,64.3 C108,61.5 107,58.5 107.4,56.2 Z" stroke="#6a6a6a" stroke-width="0.55" opacity="0.85" transform="translate(136,58) scale(0.7) translate(-136,-58)"/></g>
<g clip-path="url(#fb1c)">
<rect x="129.3" y="77.0" width="0.9" height="0.9" fill="#2a2a2a" opacity="0.3"/>
<rect x="135.7" y="60.2" width="0.9" height="0.9" fill="#2a2a2a" opacity="0.45"/>
<rect x="142.5" y="70.5" width="0.9" height="0.9" fill="#2a2a2a" opacity="0.6"/>
<rect x="126.0" y="58.2" width="0.9" height="0.9" fill="#2a2a2a" opacity="0.3"/>
<rect x="140.2" y="75.5" width="0.9" height="0.9" fill="#2a2a2a" opacity="0.3"/>
<rect x="125.7" y="75.7" width="0.9" height="0.9" fill="#2a2a2a" opacity="0.6"/>
<rect x="133.8" y="61.2" width="0.9" height="0.9" fill="#2a2a2a" opacity="0.3"/>
<rect x="138.5" y="71.8" width="0.9" height="0.9" fill="#2a2a2a" opacity="0.3"/>
<rect x="143.5" y="74.8" width="0.9" height="0.9" fill="#2a2a2a" opacity="0.6"/>
<rect x="133.0" y="71.4" width="0.9" height="0.9" fill="#2a2a2a" opacity="0.3"/>
<rect x="141.5" y="59.8" width="0.9" height="0.9" fill="#2a2a2a" opacity="0.3"/>
<rect x="153.6" y="80.0" width="0.9" height="0.9" fill="#2a2a2a" opacity="0.45"/>
<rect x="134.7" y="62.7" width="0.9" height="0.9" fill="#2a2a2a" opacity="0.3"/>
<rect x="135.0" y="74.8" width="0.9" height="0.9" fill="#2a2a2a" opacity="0.3"/>
<rect x="134.4" y="72.3" width="0.9" height="0.9" fill="#2a2a2a" opacity="0.3"/>
<rect x="128.9" y="82.4" width="0.9" height="0.9" fill="#2a2a2a" opacity="0.6"/>
<rect x="110.1" y="71.2" width="0.9" height="0.9" fill="#2a2a2a" opacity="0.3"/>
<rect x="140.7" y="58.6" width="0.9" height="0.9" fill="#2a2a2a" opacity="0.45"/>
<rect x="125.7" y="57.5" width="0.9" height="0.9" fill="#2a2a2a" opacity="0.3"/>
<rect x="139.6" y="54.8" width="0.9" height="0.9" fill="#2a2a2a" opacity="0.3"/>
<rect x="136.0" y="63.8" width="0.9" height="0.9" fill="#2a2a2a" opacity="0.45"/>
<rect x="135.9" y="61.8" width="0.9" height="0.9" fill="#2a2a2a" opacity="0.6"/>
<rect x="145.8" y="70.7" width="0.9" height="0.9" fill="#2a2a2a" opacity="0.45"/>
<rect x="132.8" y="49.5" width="0.9" height="0.9" fill="#2a2a2a" opacity="0.3"/>
<rect x="125.1" y="73.5" width="0.9" height="0.9" fill="#2a2a2a" opacity="0.45"/>
<rect x="149.6" y="66.5" width="0.9" height="0.9" fill="#2a2a2a" opacity="0.6"/>
<rect x="127.5" y="54.5" width="0.9" height="0.9" fill="#2a2a2a" opacity="0.6"/>
<rect x="146.0" y="53.8" width="0.9" height="0.9" fill="#2a2a2a" opacity="0.45"/>
<rect x="139.0" y="55.1" width="0.9" height="0.9" fill="#2a2a2a" opacity="0.6"/>
<rect x="138.0" y="65.9" width="0.9" height="0.9" fill="#2a2a2a" opacity="0.45"/>
<rect x="142.0" y="51.3" width="0.9" height="0.9" fill="#2a2a2a" opacity="0.3"/>
<rect x="131.4" y="73.1" width="0.9" height="0.9" fill="#2a2a2a" opacity="0.3"/>
<rect x="145.6" y="64.0" width="0.9" height="0.9" fill="#2a2a2a" opacity="0.6"/>
<rect x="136.2" y="64.2" width="0.9" height="0.9" fill="#2a2a2a" opacity="0.6"/>
<rect x="144.3" y="55.0" width="0.9" height="0.9" fill="#2a2a2a" opacity="0.6"/>
<rect x="138.4" y="58.9" width="0.9" height="0.9" fill="#2a2a2a" opacity="0.45"/>
<rect x="128.7" y="63.3" width="0.9" height="0.9" fill="#2a2a2a" opacity="0.6"/>
<rect x="132.7" y="48.5" width="0.9" height="0.9" fill="#2a2a2a" opacity="0.6"/>
<rect x="123.7" y="47.1" width="0.9" height="0.9" fill="#2a2a2a" opacity="0.45"/>
<rect x="143.3" y="71.5" width="0.9" height="0.9" fill="#2a2a2a" opacity="0.3"/>
<rect x="153.5" y="72.3" width="0.9" height="0.9" fill="#2a2a2a" opacity="0.45"/>
<rect x="119.2" y="60.9" width="0.9" height="0.9" fill="#2a2a2a" opacity="0.45"/>
<rect x="135.3" y="75.4" width="0.9" height="0.9" fill="#2a2a2a" opacity="0.3"/>
<rect x="115.4" y="66.7" width="0.9" height="0.9" fill="#2a2a2a" opacity="0.6"/>
<rect x="140.1" y="70.8" width="0.9" height="0.9" fill="#2a2a2a" opacity="0.45"/>
<rect x="131.4" y="81.8" width="0.9" height="0.9" fill="#2a2a2a" opacity="0.45"/>
<rect x="131.4" y="47.8" width="0.9" height="0.9" fill="#2a2a2a" opacity="0.3"/>
<rect x="129.4" y="74.9" width="0.9" height="0.9" fill="#2a2a2a" opacity="0.45"/>
<rect x="138.2" y="62.0" width="0.9" height="0.9" fill="#2a2a2a" opacity="0.45"/>
<rect x="128.2" y="65.5" width="0.9" height="0.9" fill="#2a2a2a" opacity="0.3"/>
<rect x="126.5" y="79.7" width="0.9" height="0.9" fill="#2a2a2a" opacity="0.6"/>
<rect x="157.8" y="64.6" width="0.9" height="0.9" fill="#2a2a2a" opacity="0.45"/>
<rect x="110.5" y="48.3" width="0.9" height="0.9" fill="#2a2a2a" opacity="0.6"/>
<rect x="142.2" y="57.5" width="0.9" height="0.9" fill="#2a2a2a" opacity="0.3"/>
<rect x="131.7" y="63.9" width="0.9" height="0.9" fill="#2a2a2a" opacity="0.3"/>
<rect x="136.3" y="70.8" width="0.9" height="0.9" fill="#2a2a2a" opacity="0.6"/>
<rect x="138.7" y="61.1" width="0.9" height="0.9" fill="#2a2a2a" opacity="0.45"/>
<rect x="133.2" y="38.9" width="0.9" height="0.9" fill="#2a2a2a" opacity="0.6"/>
<rect x="144.2" y="62.9" width="0.9" height="0.9" fill="#2a2a2a" opacity="0.45"/>
<rect x="137.2" y="79.2" width="0.9" height="0.9" fill="#2a2a2a" opacity="0.45"/>
<rect x="132.8" y="60.5" width="0.9" height="0.9" fill="#2a2a2a" opacity="0.6"/>
<rect x="126.4" y="66.1" width="0.9" height="0.9" fill="#2a2a2a" opacity="0.45"/>
<rect x="119.3" y="65.4" width="0.9" height="0.9" fill="#2a2a2a" opacity="0.6"/>
<rect x="134.7" y="44.0" width="0.9" height="0.9" fill="#2a2a2a" opacity="0.6"/>
<rect x="142.8" y="76.1" width="0.9" height="0.9" fill="#2a2a2a" opacity="0.45"/>
<rect x="107.4" y="66.2" width="0.9" height="0.9" fill="#2a2a2a" opacity="0.3"/>
<rect x="153.1" y="63.7" width="0.9" height="0.9" fill="#2a2a2a" opacity="0.3"/>
<rect x="125.6" y="55.0" width="0.9" height="0.9" fill="#2a2a2a" opacity="0.6"/>
<rect x="149.0" y="65.2" width="0.9" height="0.9" fill="#2a2a2a" opacity="0.6"/>
<rect x="108.9" y="53.2" width="0.9" height="0.9" fill="#2a2a2a" opacity="0.45"/>
<rect x="138.9" y="86.5" width="0.9" height="0.9" fill="#2a2a2a" opacity="0.45"/>
<rect x="135.6" y="76.0" width="0.9" height="0.9" fill="#2a2a2a" opacity="0.6"/>
<rect x="102.4" y="40.9" width="0.9" height="0.9" fill="#2a2a2a" opacity="0.3"/>
<rect x="139.4" y="54.5" width="0.9" height="0.9" fill="#2a2a2a" opacity="0.45"/>
<rect x="130.8" y="57.2" width="0.9" height="0.9" fill="#2a2a2a" opacity="0.6"/>
<rect x="143.3" y="73.2" width="0.9" height="0.9" fill="#2a2a2a" opacity="0.45"/>
<rect x="130.0" y="47.7" width="0.9" height="0.9" fill="#2a2a2a" opacity="0.6"/>
<rect x="130.4" y="53.4" width="0.9" height="0.9" fill="#2a2a2a" opacity="0.6"/>
<rect x="112.9" y="66.2" width="0.9" height="0.9" fill="#2a2a2a" opacity="0.45"/>
<rect x="134.1" y="75.6" width="0.9" height="0.9" fill="#2a2a2a" opacity="0.3"/>
<rect x="139.3" y="59.8" width="0.9" height="0.9" fill="#2a2a2a" opacity="0.3"/>
<rect x="130.0" y="78.8" width="0.9" height="0.9" fill="#2a2a2a" opacity="0.3"/>
<rect x="134.3" y="78.6" width="0.9" height="0.9" fill="#2a2a2a" opacity="0.3"/>
<rect x="133.9" y="45.3" width="0.9" height="0.9" fill="#2a2a2a" opacity="0.6"/>
<rect x="126.1" y="68.3" width="0.9" height="0.9" fill="#2a2a2a" opacity="0.45"/>
<rect x="139.3" y="67.0" width="0.9" height="0.9" fill="#2a2a2a" opacity="0.45"/>
<rect x="144.2" y="64.9" width="0.9" height="0.9" fill="#2a2a2a" opacity="0.6"/>
<rect x="124.4" y="67.4" width="0.9" height="0.9" fill="#2a2a2a" opacity="0.3"/>
<rect x="133.4" y="55.9" width="0.9" height="0.9" fill="#2a2a2a" opacity="0.45"/>
<rect x="107.8" y="62.9" width="0.9" height="0.9" fill="#2a2a2a" opacity="0.45"/>
<rect x="141.8" y="84.6" width="0.9" height="0.9" fill="#2a2a2a" opacity="0.6"/>
<rect x="114.0" y="56.4" width="0.9" height="0.9" fill="#2a2a2a" opacity="0.6"/>
<rect x="135.0" y="82.8" width="0.9" height="0.9" fill="#2a2a2a" opacity="0.3"/>
<rect x="135.4" y="79.1" width="0.9" height="0.9" fill="#2a2a2a" opacity="0.45"/>
<rect x="131.3" y="46.7" width="0.9" height="0.9" fill="#2a2a2a" opacity="0.45"/>
<rect x="136.8" y="58.8" width="0.9" height="0.9" fill="#2a2a2a" opacity="0.45"/>
<rect x="135.7" y="56.3" width="0.9" height="0.9" fill="#2a2a2a" opacity="0.45"/>
<rect x="137.6" y="63.2" width="0.9" height="0.9" fill="#2a2a2a" opacity="0.45"/>
<rect x="134.7" y="62.4" width="0.9" height="0.9" fill="#2a2a2a" opacity="0.6"/>
<rect x="127.0" y="56.1" width="0.9" height="0.9" fill="#2a2a2a" opacity="0.45"/>
<rect x="128.9" y="68.4" width="0.9" height="0.9" fill="#2a2a2a" opacity="0.3"/>
<rect x="137.3" y="63.9" width="0.9" height="0.9" fill="#2a2a2a" opacity="0.6"/>
<rect x="133.2" y="55.1" width="0.9" height="0.9" fill="#2a2a2a" opacity="0.6"/>
<rect x="136.4" y="71.7" width="0.9" height="0.9" fill="#2a2a2a" opacity="0.6"/>
<rect x="132.9" y="77.9" width="0.9" height="0.9" fill="#2a2a2a" opacity="0.6"/>
<rect x="134.9" y="49.5" width="0.9" height="0.9" fill="#2a2a2a" opacity="0.45"/>
<rect x="148.5" y="60.4" width="0.9" height="0.9" fill="#2a2a2a" opacity="0.45"/>
<rect x="121.2" y="62.5" width="0.9" height="0.9" fill="#2a2a2a" opacity="0.45"/>
<rect x="127.2" y="65.0" width="0.9" height="0.9" fill="#2a2a2a" opacity="0.3"/>
<rect x="123.4" y="54.9" width="0.9" height="0.9" fill="#2a2a2a" opacity="0.6"/>
<rect x="141.3" y="66.3" width="0.9" height="0.9" fill="#2a2a2a" opacity="0.3"/>
<rect x="129.8" y="64.8" width="0.9" height="0.9" fill="#2a2a2a" opacity="0.45"/>
<rect x="133.5" y="64.7" width="0.9" height="0.9" fill="#2a2a2a" opacity="0.6"/>
<rect x="132.4" y="52.4" width="0.9" height="0.9" fill="#2a2a2a" opacity="0.45"/>
<rect x="129.0" y="76.6" width="0.9" height="0.9" fill="#2a2a2a" opacity="0.6"/>
<rect x="145.6" y="54.7" width="0.9" height="0.9" fill="#2a2a2a" opacity="0.3"/>
<rect x="127.3" y="78.7" width="0.9" height="0.9" fill="#2a2a2a" opacity="0.3"/>
<rect x="113.8" y="50.5" width="0.9" height="0.9" fill="#2a2a2a" opacity="0.3"/>
<rect x="140.8" y="51.3" width="0.9" height="0.9" fill="#2a2a2a" opacity="0.6"/>
<rect x="125.0" y="63.9" width="0.9" height="0.9" fill="#2a2a2a" opacity="0.6"/>
<rect x="135.9" y="51.4" width="0.9" height="0.9" fill="#2a2a2a" opacity="0.6"/>
<rect x="148.7" y="65.6" width="0.9" height="0.9" fill="#2a2a2a" opacity="0.6"/>
<rect x="127.9" y="53.3" width="0.9" height="0.9" fill="#2a2a2a" opacity="0.6"/>
<rect x="131.3" y="69.6" width="0.9" height="0.9" fill="#2a2a2a" opacity="0.3"/>
<rect x="121.0" y="65.4" width="0.9" height="0.9" fill="#2a2a2a" opacity="0.3"/>
<rect x="118.6" y="65.6" width="0.9" height="0.9" fill="#2a2a2a" opacity="0.3"/>
<rect x="141.2" y="86.6" width="0.9" height="0.9" fill="#2a2a2a" opacity="0.3"/>
<rect x="145.6" y="73.1" width="0.9" height="0.9" fill="#2a2a2a" opacity="0.3"/>
<rect x="121.1" y="59.5" width="0.9" height="0.9" fill="#2a2a2a" opacity="0.45"/>
<rect x="126.1" y="52.1" width="0.9" height="0.9" fill="#2a2a2a" opacity="0.3"/>
<rect x="147.3" y="78.5" width="0.9" height="0.9" fill="#2a2a2a" opacity="0.3"/>
<rect x="125.1" y="59.3" width="0.9" height="0.9" fill="#2a2a2a" opacity="0.45"/>
<rect x="145.1" y="69.8" width="0.9" height="0.9" fill="#2a2a2a" opacity="0.3"/>
<rect x="128.2" y="77.7" width="0.9" height="0.9" fill="#2a2a2a" opacity="0.3"/>
<rect x="116.0" y="78.0" width="0.9" height="0.9" fill="#2a2a2a" opacity="0.6"/>
<rect x="131.1" y="62.1" width="0.9" height="0.9" fill="#2a2a2a" opacity="0.3"/>
<rect x="142.5" y="72.7" width="0.9" height="0.9" fill="#2a2a2a" opacity="0.45"/>
<rect x="109.1" y="64.5" width="0.9" height="0.9" fill="#2a2a2a" opacity="0.45"/>
<rect x="137.1" y="54.1" width="0.9" height="0.9" fill="#2a2a2a" opacity="0.45"/>
<rect x="108.5" y="62.3" width="0.9" height="0.9" fill="#2a2a2a" opacity="0.45"/>
<rect x="126.6" y="78.9" width="0.9" height="0.9" fill="#2a2a2a" opacity="0.3"/>
<rect x="151.7" y="53.6" width="0.9" height="0.9" fill="#2a2a2a" opacity="0.45"/>
<rect x="132.2" y="57.2" width="0.9" height="0.9" fill="#2a2a2a" opacity="0.6"/>
<rect x="127.9" y="61.1" width="0.9" height="0.9" fill="#2a2a2a" opacity="0.45"/>
<rect x="153.0" y="74.2" width="0.9" height="0.9" fill="#2a2a2a" opacity="0.6"/>
<rect x="123.9" y="60.1" width="0.9" height="0.9" fill="#2a2a2a" opacity="0.3"/>
<rect x="135.4" y="69.4" width="0.9" height="0.9" fill="#2a2a2a" opacity="0.3"/>
<rect x="145.5" y="82.4" width="0.9" height="0.9" fill="#2a2a2a" opacity="0.3"/>
<rect x="126.3" y="61.8" width="0.9" height="0.9" fill="#2a2a2a" opacity="0.6"/>
<rect x="140.2" y="52.2" width="0.9" height="0.9" fill="#2a2a2a" opacity="0.3"/>
<rect x="122.6" y="51.1" width="0.9" height="0.9" fill="#2a2a2a" opacity="0.45"/>
<rect x="143.8" y="47.8" width="0.9" height="0.9" fill="#2a2a2a" opacity="0.6"/>
<rect x="137.7" y="52.0" width="0.9" height="0.9" fill="#2a2a2a" opacity="0.3"/>
<rect x="123.5" y="65.4" width="0.9" height="0.9" fill="#2a2a2a" opacity="0.6"/>
<rect x="137.1" y="53.3" width="0.9" height="0.9" fill="#2a2a2a" opacity="0.45"/>
<rect x="123.4" y="52.4" width="0.9" height="0.9" fill="#2a2a2a" opacity="0.6"/>
<rect x="124.7" y="35.9" width="0.9" height="0.9" fill="#2a2a2a" opacity="0.45"/>
<rect x="140.0" y="78.8" width="0.9" height="0.9" fill="#2a2a2a" opacity="0.6"/>
<rect x="113.4" y="66.8" width="0.9" height="0.9" fill="#2a2a2a" opacity="0.6"/>
<rect x="128.4" y="62.0" width="0.9" height="0.9" fill="#2a2a2a" opacity="0.3"/>
<rect x="141.8" y="62.9" width="0.9" height="0.9" fill="#2a2a2a" opacity="0.45"/>
<rect x="129.1" y="61.6" width="0.9" height="0.9" fill="#2a2a2a" opacity="0.45"/>
<rect x="140.9" y="58.8" width="0.9" height="0.9" fill="#2a2a2a" opacity="0.3"/>
<rect x="144.0" y="62.0" width="0.9" height="0.9" fill="#2a2a2a" opacity="0.45"/>
<rect x="127.0" y="59.5" width="0.9" height="0.9" fill="#2a2a2a" opacity="0.45"/>
<rect x="130.2" y="42.9" width="0.9" height="0.9" fill="#2a2a2a" opacity="0.3"/>
<rect x="138.3" y="44.9" width="0.9" height="0.9" fill="#2a2a2a" opacity="0.6"/>
<rect x="116.6" y="58.7" width="0.9" height="0.9" fill="#2a2a2a" opacity="0.45"/>
<rect x="134.9" y="83.0" width="0.9" height="0.9" fill="#2a2a2a" opacity="0.45"/>
<rect x="133.4" y="65.5" width="0.9" height="0.9" fill="#2a2a2a" opacity="0.3"/>
<rect x="137.1" y="54.9" width="0.9" height="0.9" fill="#2a2a2a" opacity="0.3"/>
<rect x="149.4" y="76.6" width="0.9" height="0.9" fill="#2a2a2a" opacity="0.3"/>
<rect x="130.1" y="62.6" width="0.9" height="0.9" fill="#2a2a2a" opacity="0.6"/>
<rect x="130.0" y="61.1" width="0.9" height="0.9" fill="#2a2a2a" opacity="0.45"/>
<rect x="121.9" y="66.9" width="0.9" height="0.9" fill="#2a2a2a" opacity="0.45"/>
<rect x="119.6" y="55.9" width="0.9" height="0.9" fill="#2a2a2a" opacity="0.3"/>
<rect x="138.9" y="68.5" width="0.9" height="0.9" fill="#2a2a2a" opacity="0.45"/>
<rect x="128.4" y="63.9" width="0.9" height="0.9" fill="#2a2a2a" opacity="0.6"/>
<rect x="156.3" y="63.9" width="0.9" height="0.9" fill="#2a2a2a" opacity="0.45"/>
<rect x="119.8" y="58.3" width="0.9" height="0.9" fill="#2a2a2a" opacity="0.6"/>
<rect x="134.5" y="45.1" width="0.9" height="0.9" fill="#2a2a2a" opacity="0.3"/>
<rect x="123.1" y="50.4" width="0.9" height="0.9" fill="#2a2a2a" opacity="0.45"/>
<rect x="133.6" y="76.8" width="0.9" height="0.9" fill="#2a2a2a" opacity="0.6"/>
<rect x="147.7" y="73.3" width="0.9" height="0.9" fill="#2a2a2a" opacity="0.45"/>
<rect x="134.2" y="54.5" width="0.9" height="0.9" fill="#2a2a2a" opacity="0.3"/>
<rect x="137.1" y="74.7" width="0.9" height="0.9" fill="#2a2a2a" opacity="0.45"/>
<rect x="137.8" y="70.2" width="0.9" height="0.9" fill="#2a2a2a" opacity="0.3"/>
<rect x="144.5" y="72.4" width="0.9" height="0.9" fill="#2a2a2a" opacity="0.6"/>
<rect x="144.5" y="59.7" width="0.9" height="0.9" fill="#2a2a2a" opacity="0.6"/>
<rect x="131.7" y="57.3" width="0.9" height="0.9" fill="#2a2a2a" opacity="0.3"/>
<rect x="135.0" y="62.8" width="0.9" height="0.9" fill="#2a2a2a" opacity="0.3"/>
<rect x="109.2" y="60.8" width="0.9" height="0.9" fill="#2a2a2a" opacity="0.3"/>
<rect x="134.8" y="62.4" width="0.9" height="0.9" fill="#2a2a2a" opacity="0.6"/>
<rect x="127.9" y="43.6" width="0.9" height="0.9" fill="#2a2a2a" opacity="0.45"/>
<rect x="141.5" y="72.7" width="0.9" height="0.9" fill="#2a2a2a" opacity="0.45"/>
<rect x="135.3" y="61.1" width="0.9" height="0.9" fill="#2a2a2a" opacity="0.6"/>
<rect x="135.7" y="69.0" width="0.9" height="0.9" fill="#2a2a2a" opacity="0.6"/>
<rect x="133.9" y="74.6" width="0.9" height="0.9" fill="#2a2a2a" opacity="0.3"/>
<rect x="111.2" y="47.2" width="0.9" height="0.9" fill="#2a2a2a" opacity="0.45"/>
<rect x="133.7" y="64.1" width="0.9" height="0.9" fill="#2a2a2a" opacity="0.3"/>
<rect x="120.2" y="48.8" width="0.9" height="0.9" fill="#2a2a2a" opacity="0.6"/>
<rect x="123.9" y="52.5" width="0.9" height="0.9" fill="#2a2a2a" opacity="0.6"/>
<rect x="134.9" y="66.9" width="0.9" height="0.9" fill="#2a2a2a" opacity="0.6"/>
<rect x="128.9" y="54.0" width="0.9" height="0.9" fill="#2a2a2a" opacity="0.6"/>
<rect x="147.5" y="74.9" width="0.9" height="0.9" fill="#2a2a2a" opacity="0.3"/>
<rect x="132.1" y="74.1" width="0.9" height="0.9" fill="#2a2a2a" opacity="0.45"/>
<rect x="129.7" y="76.5" width="0.9" height="0.9" fill="#2a2a2a" opacity="0.6"/>
<rect x="130.9" y="72.5" width="0.9" height="0.9" fill="#2a2a2a" opacity="0.3"/>
<rect x="131.4" y="60.2" width="0.9" height="0.9" fill="#2a2a2a" opacity="0.6"/>
<rect x="129.0" y="64.6" width="0.9" height="0.9" fill="#2a2a2a" opacity="0.6"/>
<rect x="124.8" y="78.4" width="0.9" height="0.9" fill="#2a2a2a" opacity="0.3"/>
<rect x="137.1" y="71.1" width="0.9" height="0.9" fill="#2a2a2a" opacity="0.45"/>
<rect x="136.0" y="60.6" width="0.9" height="0.9" fill="#2a2a2a" opacity="0.6"/>
<rect x="127.7" y="56.2" width="0.9" height="0.9" fill="#2a2a2a" opacity="0.3"/>
<rect x="136.5" y="66.6" width="0.9" height="0.9" fill="#2a2a2a" opacity="0.3"/>
<rect x="133.9" y="49.4" width="0.9" height="0.9" fill="#2a2a2a" opacity="0.3"/>
<rect x="123.8" y="56.2" width="0.9" height="0.9" fill="#2a2a2a" opacity="0.45"/>
<rect x="146.2" y="67.4" width="0.9" height="0.9" fill="#2a2a2a" opacity="0.3"/>
<rect x="149.4" y="67.5" width="0.9" height="0.9" fill="#2a2a2a" opacity="0.3"/>
<rect x="152.2" y="67.8" width="0.9" height="0.9" fill="#2a2a2a" opacity="0.6"/>
<rect x="138.0" y="53.1" width="0.9" height="0.9" fill="#2a2a2a" opacity="0.3"/>
<rect x="142.6" y="62.3" width="0.9" height="0.9" fill="#2a2a2a" opacity="0.3"/>
<rect x="132.3" y="84.6" width="0.9" height="0.9" fill="#2a2a2a" opacity="0.45"/>
<rect x="130.4" y="67.4" width="0.9" height="0.9" fill="#2a2a2a" opacity="0.45"/>
<rect x="135.1" y="63.6" width="0.9" height="0.9" fill="#2a2a2a" opacity="0.45"/>
<rect x="138.3" y="73.6" width="0.9" height="0.9" fill="#2a2a2a" opacity="0.6"/>
<rect x="131.6" y="53.9" width="0.9" height="0.9" fill="#2a2a2a" opacity="0.6"/>
<rect x="160.6" y="56.5" width="0.9" height="0.9" fill="#2a2a2a" opacity="0.45"/>
<rect x="128.5" y="68.2" width="0.9" height="0.9" fill="#2a2a2a" opacity="0.45"/>
<rect x="126.0" y="57.0" width="0.9" height="0.9" fill="#2a2a2a" opacity="0.6"/>
<rect x="155.1" y="65.1" width="0.9" height="0.9" fill="#2a2a2a" opacity="0.45"/>
<rect x="148.4" y="75.0" width="0.9" height="0.9" fill="#2a2a2a" opacity="0.3"/>
<rect x="150.6" y="65.2" width="0.9" height="0.9" fill="#2a2a2a" opacity="0.6"/>
<rect x="133.2" y="66.4" width="0.9" height="0.9" fill="#2a2a2a" opacity="0.45"/>
<rect x="123.8" y="61.6" width="0.9" height="0.9" fill="#2a2a2a" opacity="0.3"/>
<rect x="113.0" y="44.1" width="0.9" height="0.9" fill="#2a2a2a" opacity="0.3"/>
<rect x="132.2" y="66.6" width="0.9" height="0.9" fill="#2a2a2a" opacity="0.6"/>
<rect x="115.0" y="45.9" width="0.9" height="0.9" fill="#2a2a2a" opacity="0.45"/>
<rect x="145.2" y="67.6" width="0.9" height="0.9" fill="#2a2a2a" opacity="0.6"/>
<rect x="136.6" y="70.1" width="0.9" height="0.9" fill="#2a2a2a" opacity="0.45"/>
<rect x="143.1" y="50.8" width="0.9" height="0.9" fill="#2a2a2a" opacity="0.6"/>
<rect x="124.8" y="73.7" width="0.9" height="0.9" fill="#2a2a2a" opacity="0.3"/>
<rect x="127.5" y="51.5" width="0.9" height="0.9" fill="#2a2a2a" opacity="0.3"/>
<rect x="134.6" y="50.1" width="0.9" height="0.9" fill="#2a2a2a" opacity="0.45"/>
<rect x="129.5" y="69.1" width="0.9" height="0.9" fill="#2a2a2a" opacity="0.3"/>
<rect x="143.1" y="81.8" width="0.9" height="0.9" fill="#2a2a2a" opacity="0.6"/>
<rect x="119.8" y="79.9" width="0.9" height="0.9" fill="#2a2a2a" opacity="0.6"/>
<rect x="135.2" y="60.2" width="0.9" height="0.9" fill="#2a2a2a" opacity="0.3"/>
<rect x="125.7" y="50.2" width="0.9" height="0.9" fill="#2a2a2a" opacity="0.45"/>
<rect x="142.4" y="78.0" width="0.9" height="0.9" fill="#2a2a2a" opacity="0.6"/>
<rect x="141.1" y="70.5" width="0.9" height="0.9" fill="#2a2a2a" opacity="0.3"/>
<rect x="122.1" y="50.8" width="0.9" height="0.9" fill="#2a2a2a" opacity="0.6"/>
<rect x="147.8" y="71.5" width="0.9" height="0.9" fill="#2a2a2a" opacity="0.45"/>
<rect x="144.1" y="66.6" width="0.9" height="0.9" fill="#2a2a2a" opacity="0.3"/>
<rect x="128.1" y="70.4" width="0.9" height="0.9" fill="#2a2a2a" opacity="0.6"/>
<rect x="134.0" y="54.9" width="0.9" height="0.9" fill="#2a2a2a" opacity="0.6"/>
<rect x="152.2" y="64.0" width="0.9" height="0.9" fill="#2a2a2a" opacity="0.45"/>
<rect x="116.4" y="67.8" width="0.9" height="0.9" fill="#2a2a2a" opacity="0.3"/>
<rect x="115.8" y="63.0" width="0.9" height="0.9" fill="#2a2a2a" opacity="0.3"/>
<rect x="149.5" y="61.6" width="0.9" height="0.9" fill="#2a2a2a" opacity="0.6"/>
<rect x="121.0" y="67.4" width="0.9" height="0.9" fill="#2a2a2a" opacity="0.3"/>
<rect x="135.6" y="67.7" width="0.9" height="0.9" fill="#2a2a2a" opacity="0.6"/>
<rect x="132.3" y="56.3" width="0.9" height="0.9" fill="#2a2a2a" opacity="0.45"/>
<rect x="132.8" y="68.8" width="0.9" height="0.9" fill="#2a2a2a" opacity="0.3"/>
<rect x="136.0" y="63.2" width="0.9" height="0.9" fill="#2a2a2a" opacity="0.45"/>
<rect x="131.1" y="52.3" width="0.9" height="0.9" fill="#2a2a2a" opacity="0.3"/>
<rect x="138.5" y="71.0" width="0.9" height="0.9" fill="#2a2a2a" opacity="0.45"/>
<rect x="137.8" y="63.2" width="0.9" height="0.9" fill="#2a2a2a" opacity="0.45"/>
<rect x="118.0" y="65.3" width="0.9" height="0.9" fill="#2a2a2a" opacity="0.3"/>
<rect x="117.5" y="64.8" width="0.9" height="0.9" fill="#2a2a2a" opacity="0.45"/>
<rect x="121.5" y="64.8" width="0.9" height="0.9" fill="#2a2a2a" opacity="0.3"/>
<rect x="154.0" y="63.3" width="0.9" height="0.9" fill="#2a2a2a" opacity="0.3"/>
<rect x="126.7" y="68.9" width="0.9" height="0.9" fill="#2a2a2a" opacity="0.3"/>
<rect x="131.0" y="68.9" width="0.9" height="0.9" fill="#2a2a2a" opacity="0.3"/>
<rect x="143.4" y="52.2" width="0.9" height="0.9" fill="#2a2a2a" opacity="0.3"/>
<rect x="130.6" y="53.8" width="0.9" height="0.9" fill="#2a2a2a" opacity="0.3"/>
<rect x="143.5" y="75.9" width="0.9" height="0.9" fill="#2a2a2a" opacity="0.45"/>
<rect x="132.1" y="65.7" width="0.9" height="0.9" fill="#2a2a2a" opacity="0.45"/>
<rect x="128.5" y="61.2" width="0.9" height="0.9" fill="#2a2a2a" opacity="0.6"/>
<rect x="134.0" y="60.5" width="0.9" height="0.9" fill="#2a2a2a" opacity="0.3"/>
<rect x="111.7" y="51.2" width="0.9" height="0.9" fill="#2a2a2a" opacity="0.3"/>
<rect x="129.4" y="63.0" width="0.9" height="0.9" fill="#2a2a2a" opacity="0.3"/>
<rect x="139.0" y="72.0" width="0.9" height="0.9" fill="#2a2a2a" opacity="0.45"/>
<rect x="129.4" y="70.3" width="0.9" height="0.9" fill="#2a2a2a" opacity="0.3"/>
<rect x="137.3" y="70.1" width="0.9" height="0.9" fill="#2a2a2a" opacity="0.6"/>
<rect x="129.5" y="74.6" width="0.9" height="0.9" fill="#2a2a2a" opacity="0.45"/>
<rect x="142.6" y="85.7" width="0.9" height="0.9" fill="#2a2a2a" opacity="0.6"/>
<rect x="141.4" y="73.9" width="0.9" height="0.9" fill="#2a2a2a" opacity="0.6"/>
<rect x="139.5" y="63.5" width="0.9" height="0.9" fill="#2a2a2a" opacity="0.3"/>
<rect x="122.2" y="58.0" width="0.9" height="0.9" fill="#2a2a2a" opacity="0.45"/>
<rect x="136.4" y="61.3" width="0.9" height="0.9" fill="#2a2a2a" opacity="0.45"/>
<rect x="131.7" y="59.9" width="0.9" height="0.9" fill="#2a2a2a" opacity="0.45"/>
<rect x="132.3" y="55.6" width="0.9" height="0.9" fill="#2a2a2a" opacity="0.3"/>
<rect x="135.0" y="54.8" width="0.9" height="0.9" fill="#2a2a2a" opacity="0.45"/>
<rect x="133.0" y="65.3" width="0.9" height="0.9" fill="#2a2a2a" opacity="0.6"/>
<rect x="149.5" y="56.0" width="0.9" height="0.9" fill="#2a2a2a" opacity="0.6"/>
<rect x="117.1" y="55.8" width="0.9" height="0.9" fill="#2a2a2a" opacity="0.6"/>
<rect x="130.1" y="48.5" width="0.9" height="0.9" fill="#2a2a2a" opacity="0.6"/>
<rect x="126.7" y="50.9" width="0.9" height="0.9" fill="#2a2a2a" opacity="0.3"/>
<rect x="112.5" y="62.9" width="0.9" height="0.9" fill="#2a2a2a" opacity="0.45"/>
<rect x="141.0" y="50.3" width="0.9" height="0.9" fill="#2a2a2a" opacity="0.45"/>
<rect x="131.3" y="51.0" width="0.9" height="0.9" fill="#2a2a2a" opacity="0.6"/>
<rect x="128.6" y="74.0" width="0.9" height="0.9" fill="#2a2a2a" opacity="0.6"/>
<rect x="136.9" y="70.1" width="0.9" height="0.9" fill="#2a2a2a" opacity="0.3"/>
<rect x="115.4" y="77.6" width="0.9" height="0.9" fill="#2a2a2a" opacity="0.3"/>
<rect x="126.6" y="67.5" width="0.9" height="0.9" fill="#2a2a2a" opacity="0.3"/>
<rect x="143.2" y="67.5" width="0.9" height="0.9" fill="#2a2a2a" opacity="0.6"/>
<rect x="133.6" y="72.4" width="0.9" height="0.9" fill="#2a2a2a" opacity="0.45"/>
<rect x="128.9" y="72.2" width="0.9" height="0.9" fill="#2a2a2a" opacity="0.6"/>
<rect x="148.0" y="61.7" width="0.9" height="0.9" fill="#2a2a2a" opacity="0.6"/>
<rect x="145.9" y="72.3" width="0.9" height="0.9" fill="#2a2a2a" opacity="0.3"/>
<rect x="131.8" y="73.4" width="0.9" height="0.9" fill="#2a2a2a" opacity="0.45"/>
<rect x="143.0" y="70.9" width="0.9" height="0.9" fill="#2a2a2a" opacity="0.3"/>
<rect x="149.2" y="72.7" width="0.9" height="0.9" fill="#2a2a2a" opacity="0.3"/>
<rect x="123.8" y="62.5" width="0.9" height="0.9" fill="#2a2a2a" opacity="0.6"/>
<rect x="135.8" y="53.7" width="0.9" height="0.9" fill="#2a2a2a" opacity="0.3"/>
<rect x="125.5" y="77.3" width="0.9" height="0.9" fill="#2a2a2a" opacity="0.3"/>
<rect x="129.8" y="57.0" width="0.9" height="0.9" fill="#2a2a2a" opacity="0.45"/>
<rect x="120.9" y="57.4" width="0.9" height="0.9" fill="#2a2a2a" opacity="0.45"/>
<rect x="134.7" y="70.7" width="0.9" height="0.9" fill="#2a2a2a" opacity="0.3"/>
<rect x="126.9" y="69.7" width="0.9" height="0.9" fill="#fff" opacity="0.3"/>
<rect x="137.9" y="67.4" width="0.9" height="0.9" fill="#fff" opacity="0.5"/>
<rect x="136.4" y="64.2" width="0.9" height="0.9" fill="#fff" opacity="0.3"/>
<rect x="128.9" y="63.0" width="0.9" height="0.9" fill="#fff" opacity="0.5"/>
<rect x="138.1" y="60.3" width="0.9" height="0.9" fill="#fff" opacity="0.3"/>
<rect x="156.3" y="61.5" width="0.9" height="0.9" fill="#fff" opacity="0.5"/>
<rect x="148.4" y="71.7" width="0.9" height="0.9" fill="#fff" opacity="0.3"/>
<rect x="148.7" y="81.9" width="0.9" height="0.9" fill="#fff" opacity="0.3"/>
<rect x="154.1" y="74.5" width="0.9" height="0.9" fill="#fff" opacity="0.3"/>
<rect x="115.7" y="76.6" width="0.9" height="0.9" fill="#fff" opacity="0.3"/>
<rect x="120.6" y="61.1" width="0.9" height="0.9" fill="#fff" opacity="0.5"/>
<rect x="143.9" y="58.3" width="0.9" height="0.9" fill="#fff" opacity="0.3"/>
<rect x="121.2" y="59.5" width="0.9" height="0.9" fill="#fff" opacity="0.5"/>
<rect x="158.5" y="67.0" width="0.9" height="0.9" fill="#fff" opacity="0.3"/>
<rect x="119.5" y="59.7" width="0.9" height="0.9" fill="#fff" opacity="0.5"/>
<rect x="129.1" y="58.6" width="0.9" height="0.9" fill="#fff" opacity="0.5"/>
<rect x="130.9" y="54.7" width="0.9" height="0.9" fill="#fff" opacity="0.5"/>
<rect x="133.1" y="60.6" width="0.9" height="0.9" fill="#fff" opacity="0.3"/>
<rect x="129.4" y="53.7" width="0.9" height="0.9" fill="#fff" opacity="0.5"/>
<rect x="134.0" y="63.4" width="0.9" height="0.9" fill="#fff" opacity="0.5"/>
<rect x="118.3" y="67.6" width="0.9" height="0.9" fill="#fff" opacity="0.3"/>
<rect x="124.3" y="59.8" width="0.9" height="0.9" fill="#fff" opacity="0.3"/>
<rect x="137.1" y="66.3" width="0.9" height="0.9" fill="#fff" opacity="0.3"/>
<rect x="125.4" y="56.1" width="0.9" height="0.9" fill="#fff" opacity="0.3"/>
<rect x="140.3" y="64.9" width="0.9" height="0.9" fill="#fff" opacity="0.5"/>
<rect x="121.7" y="63.9" width="0.9" height="0.9" fill="#fff" opacity="0.5"/>
<rect x="135.1" y="70.5" width="0.9" height="0.9" fill="#fff" opacity="0.3"/>
<rect x="137.7" y="64.0" width="0.9" height="0.9" fill="#fff" opacity="0.3"/>
<rect x="146.5" y="64.5" width="0.9" height="0.9" fill="#fff" opacity="0.3"/>
<rect x="122.3" y="58.6" width="0.9" height="0.9" fill="#fff" opacity="0.5"/>
<rect x="127.5" y="55.9" width="0.9" height="0.9" fill="#fff" opacity="0.5"/>
<rect x="118.8" y="70.5" width="0.9" height="0.9" fill="#fff" opacity="0.3"/>
<rect x="133.2" y="48.9" width="0.9" height="0.9" fill="#fff" opacity="0.5"/>
<rect x="108.6" y="65.2" width="0.9" height="0.9" fill="#fff" opacity="0.5"/>
<rect x="145.3" y="60.6" width="0.9" height="0.9" fill="#fff" opacity="0.3"/>
<rect x="137.9" y="43.0" width="0.9" height="0.9" fill="#fff" opacity="0.3"/>
<rect x="114.5" y="65.0" width="0.9" height="0.9" fill="#fff" opacity="0.5"/>
<rect x="133.3" y="67.2" width="0.9" height="0.9" fill="#fff" opacity="0.5"/>
<rect x="151.4" y="60.7" width="0.9" height="0.9" fill="#fff" opacity="0.3"/>
<rect x="132.7" y="65.4" width="0.9" height="0.9" fill="#fff" opacity="0.5"/>
<rect x="135.5" y="58.1" width="0.9" height="0.9" fill="#fff" opacity="0.3"/>
<rect x="146.5" y="55.7" width="0.9" height="0.9" fill="#fff" opacity="0.3"/>
<rect x="133.1" y="63.3" width="0.9" height="0.9" fill="#fff" opacity="0.3"/>
<rect x="133.1" y="82.7" width="0.9" height="0.9" fill="#fff" opacity="0.3"/>
<rect x="137.1" y="67.5" width="0.9" height="0.9" fill="#fff" opacity="0.3"/>
<rect x="138.5" y="66.8" width="0.9" height="0.9" fill="#fff" opacity="0.5"/>
<rect x="138.6" y="71.9" width="0.9" height="0.9" fill="#fff" opacity="0.5"/>
<rect x="121.5" y="61.5" width="0.9" height="0.9" fill="#fff" opacity="0.5"/>
<rect x="113.6" y="69.8" width="0.9" height="0.9" fill="#fff" opacity="0.5"/>
<rect x="133.3" y="67.9" width="0.9" height="0.9" fill="#fff" opacity="0.3"/>
<rect x="134.1" y="57.5" width="0.9" height="0.9" fill="#fff" opacity="0.5"/>
<rect x="122.8" y="66.4" width="0.9" height="0.9" fill="#fff" opacity="0.3"/>
<rect x="120.0" y="36.8" width="0.9" height="0.9" fill="#fff" opacity="0.3"/>
<rect x="141.9" y="51.6" width="0.9" height="0.9" fill="#fff" opacity="0.5"/>
<rect x="117.4" y="63.3" width="0.9" height="0.9" fill="#fff" opacity="0.3"/>
<rect x="130.0" y="65.4" width="0.9" height="0.9" fill="#fff" opacity="0.5"/>
<rect x="139.5" y="75.8" width="0.9" height="0.9" fill="#fff" opacity="0.3"/>
<rect x="140.5" y="59.0" width="0.9" height="0.9" fill="#fff" opacity="0.5"/>
<rect x="137.9" y="60.6" width="0.9" height="0.9" fill="#fff" opacity="0.3"/>
<rect x="142.2" y="60.6" width="0.9" height="0.9" fill="#fff" opacity="0.5"/>
<rect x="134.5" y="69.9" width="0.9" height="0.9" fill="#fff" opacity="0.3"/>
<rect x="138.9" y="76.8" width="0.9" height="0.9" fill="#fff" opacity="0.3"/>
<rect x="138.5" y="56.3" width="0.9" height="0.9" fill="#fff" opacity="0.5"/>
<rect x="133.8" y="62.1" width="0.9" height="0.9" fill="#fff" opacity="0.3"/>
<rect x="130.6" y="70.3" width="0.9" height="0.9" fill="#fff" opacity="0.5"/>
<rect x="124.9" y="44.5" width="0.9" height="0.9" fill="#fff" opacity="0.3"/>
<rect x="163.7" y="82.7" width="0.9" height="0.9" fill="#fff" opacity="0.5"/>
<rect x="134.0" y="67.3" width="0.9" height="0.9" fill="#fff" opacity="0.5"/>
<rect x="143.8" y="53.4" width="0.9" height="0.9" fill="#fff" opacity="0.5"/>
<rect x="120.9" y="62.7" width="0.9" height="0.9" fill="#fff" opacity="0.5"/>
<rect x="142.4" y="75.2" width="0.9" height="0.9" fill="#fff" opacity="0.3"/>
<rect x="126.9" y="68.1" width="0.9" height="0.9" fill="#fff" opacity="0.3"/>
<rect x="136.5" y="84.8" width="0.9" height="0.9" fill="#fff" opacity="0.3"/>
<rect x="126.5" y="61.0" width="0.9" height="0.9" fill="#fff" opacity="0.3"/>
<rect x="143.3" y="56.0" width="0.9" height="0.9" fill="#fff" opacity="0.5"/>
<rect x="133.8" y="54.3" width="0.9" height="0.9" fill="#fff" opacity="0.5"/>
<rect x="135.8" y="61.4" width="0.9" height="0.9" fill="#fff" opacity="0.3"/>
<rect x="129.6" y="54.2" width="0.9" height="0.9" fill="#fff" opacity="0.3"/>
<rect x="126.0" y="73.6" width="0.9" height="0.9" fill="#fff" opacity="0.3"/>
<rect x="113.5" y="56.3" width="0.9" height="0.9" fill="#fff" opacity="0.5"/>
<rect x="138.5" y="58.5" width="0.9" height="0.9" fill="#fff" opacity="0.5"/>
<rect x="142.9" y="55.5" width="0.9" height="0.9" fill="#fff" opacity="0.5"/>
<rect x="131.4" y="59.7" width="0.9" height="0.9" fill="#fff" opacity="0.5"/>
<rect x="144.9" y="83.9" width="0.9" height="0.9" fill="#fff" opacity="0.3"/>
<rect x="154.7" y="85.6" width="0.9" height="0.9" fill="#fff" opacity="0.3"/>
<rect x="142.9" y="76.7" width="0.9" height="0.9" fill="#fff" opacity="0.3"/>
<rect x="130.3" y="65.6" width="0.9" height="0.9" fill="#fff" opacity="0.5"/>
<rect x="128.7" y="62.6" width="0.9" height="0.9" fill="#fff" opacity="0.5"/>
<rect x="135.3" y="50.9" width="0.9" height="0.9" fill="#fff" opacity="0.3"/>
<rect x="150.4" y="80.4" width="0.9" height="0.9" fill="#fff" opacity="0.3"/>
</g>
<rect x="59.5" y="33" width="99.5" height="99.5" fill="none" stroke="#111" stroke-width="1.1"/>
<line x1="56.3" y1="41.9" x2="59.5" y2="41.9" stroke="#111" stroke-width="0.8"/>
<line x1="56.3" y1="66.3" x2="59.5" y2="66.3" stroke="#111" stroke-width="0.8"/>
<line x1="56.3" y1="93.1" x2="59.5" y2="93.1" stroke="#111" stroke-width="0.8"/>
<line x1="56.3" y1="126.2" x2="59.5" y2="126.2" stroke="#111" stroke-width="0.8"/>
<line x1="57.7" y1="39.37" x2="59.5" y2="39.37" stroke="#333" stroke-width="0.55"/>
<line x1="57.7" y1="37.89" x2="59.5" y2="37.89" stroke="#333" stroke-width="0.55"/>
<line x1="57.7" y1="36.84" x2="59.5" y2="36.84" stroke="#333" stroke-width="0.55"/>
<line x1="57.7" y1="36.03" x2="59.5" y2="36.03" stroke="#333" stroke-width="0.55"/>
<line x1="57.7" y1="35.36" x2="59.5" y2="35.36" stroke="#333" stroke-width="0.55"/>
<line x1="57.7" y1="34.80" x2="59.5" y2="34.80" stroke="#333" stroke-width="0.55"/>
<line x1="57.7" y1="34.31" x2="59.5" y2="34.31" stroke="#333" stroke-width="0.55"/>
<line x1="57.7" y1="33.88" x2="59.5" y2="33.88" stroke="#333" stroke-width="0.55"/>
<line x1="57.7" y1="58.95" x2="59.5" y2="58.95" stroke="#333" stroke-width="0.55"/>
<line x1="57.7" y1="54.66" x2="59.5" y2="54.66" stroke="#333" stroke-width="0.55"/>
<line x1="57.7" y1="51.61" x2="59.5" y2="51.61" stroke="#333" stroke-width="0.55"/>
<line x1="57.7" y1="49.25" x2="59.5" y2="49.25" stroke="#333" stroke-width="0.55"/>
<line x1="57.7" y1="47.31" x2="59.5" y2="47.31" stroke="#333" stroke-width="0.55"/>
<line x1="57.7" y1="45.68" x2="59.5" y2="45.68" stroke="#333" stroke-width="0.55"/>
<line x1="57.7" y1="44.26" x2="59.5" y2="44.26" stroke="#333" stroke-width="0.55"/>
<line x1="57.7" y1="43.02" x2="59.5" y2="43.02" stroke="#333" stroke-width="0.55"/>
<line x1="57.7" y1="85.03" x2="59.5" y2="85.03" stroke="#333" stroke-width="0.55"/>
<line x1="57.7" y1="80.31" x2="59.5" y2="80.31" stroke="#333" stroke-width="0.55"/>
<line x1="57.7" y1="76.96" x2="59.5" y2="76.96" stroke="#333" stroke-width="0.55"/>
<line x1="57.7" y1="74.37" x2="59.5" y2="74.37" stroke="#333" stroke-width="0.55"/>
<line x1="57.7" y1="72.25" x2="59.5" y2="72.25" stroke="#333" stroke-width="0.55"/>
<line x1="57.7" y1="70.45" x2="59.5" y2="70.45" stroke="#333" stroke-width="0.55"/>
<line x1="57.7" y1="68.90" x2="59.5" y2="68.90" stroke="#333" stroke-width="0.55"/>
<line x1="57.7" y1="67.53" x2="59.5" y2="67.53" stroke="#333" stroke-width="0.55"/>
<line x1="57.7" y1="116.24" x2="59.5" y2="116.24" stroke="#333" stroke-width="0.55"/>
<line x1="57.7" y1="110.41" x2="59.5" y2="110.41" stroke="#333" stroke-width="0.55"/>
<line x1="57.7" y1="106.27" x2="59.5" y2="106.27" stroke="#333" stroke-width="0.55"/>
<line x1="57.7" y1="103.06" x2="59.5" y2="103.06" stroke="#333" stroke-width="0.55"/>
<line x1="57.7" y1="100.44" x2="59.5" y2="100.44" stroke="#333" stroke-width="0.55"/>
<line x1="57.7" y1="98.23" x2="59.5" y2="98.23" stroke="#333" stroke-width="0.55"/>
<line x1="57.7" y1="96.31" x2="59.5" y2="96.31" stroke="#333" stroke-width="0.55"/>
<line x1="57.7" y1="94.61" x2="59.5" y2="94.61" stroke="#333" stroke-width="0.55"/>
<line x1="56.9" y1="108.6" x2="59.5" y2="108.6" stroke="#222" stroke-width="0.6"/>
<line x1="56.9" y1="109.4" x2="59.5" y2="109.4" stroke="#222" stroke-width="0.6"/>
<line x1="56.9" y1="110.2" x2="59.5" y2="110.2" stroke="#222" stroke-width="0.6"/>
<line x1="56.9" y1="111.0" x2="59.5" y2="111.0" stroke="#222" stroke-width="0.6"/>
<line x1="56.9" y1="111.8" x2="59.5" y2="111.8" stroke="#222" stroke-width="0.6"/>
<line x1="81.0" y1="132.5" x2="81.0" y2="135.7" stroke="#111" stroke-width="0.8"/>
<line x1="99.0" y1="132.5" x2="99.0" y2="135.7" stroke="#111" stroke-width="0.8"/>
<line x1="127.0" y1="132.5" x2="127.0" y2="135.7" stroke="#111" stroke-width="0.8"/>
<line x1="155.5" y1="132.5" x2="155.5" y2="135.7" stroke="#111" stroke-width="0.8"/>
<line x1="67.37" y1="132.5" x2="67.37" y2="134.5" stroke="#333" stroke-width="0.55"/>
<line x1="70.80" y1="132.5" x2="70.80" y2="134.5" stroke="#333" stroke-width="0.55"/>
<line x1="73.24" y1="132.5" x2="73.24" y2="134.5" stroke="#333" stroke-width="0.55"/>
<line x1="75.13" y1="132.5" x2="75.13" y2="134.5" stroke="#333" stroke-width="0.55"/>
<line x1="76.67" y1="132.5" x2="76.67" y2="134.5" stroke="#333" stroke-width="0.55"/>
<line x1="77.98" y1="132.5" x2="77.98" y2="134.5" stroke="#333" stroke-width="0.55"/>
<line x1="79.11" y1="132.5" x2="79.11" y2="134.5" stroke="#333" stroke-width="0.55"/>
<line x1="80.11" y1="132.5" x2="80.11" y2="134.5" stroke="#333" stroke-width="0.55"/>
<line x1="86.42" y1="132.5" x2="86.42" y2="134.5" stroke="#333" stroke-width="0.55"/>
<line x1="89.59" y1="132.5" x2="89.59" y2="134.5" stroke="#333" stroke-width="0.55"/>
<line x1="91.84" y1="132.5" x2="91.84" y2="134.5" stroke="#333" stroke-width="0.55"/>
<line x1="93.58" y1="132.5" x2="93.58" y2="134.5" stroke="#333" stroke-width="0.55"/>
<line x1="95.01" y1="132.5" x2="95.01" y2="134.5" stroke="#333" stroke-width="0.55"/>
<line x1="96.21" y1="132.5" x2="96.21" y2="134.5" stroke="#333" stroke-width="0.55"/>
<line x1="97.26" y1="132.5" x2="97.26" y2="134.5" stroke="#333" stroke-width="0.55"/>
<line x1="98.18" y1="132.5" x2="98.18" y2="134.5" stroke="#333" stroke-width="0.55"/>
<line x1="107.43" y1="132.5" x2="107.43" y2="134.5" stroke="#333" stroke-width="0.55"/>
<line x1="112.36" y1="132.5" x2="112.36" y2="134.5" stroke="#333" stroke-width="0.55"/>
<line x1="115.86" y1="132.5" x2="115.86" y2="134.5" stroke="#333" stroke-width="0.55"/>
<line x1="118.57" y1="132.5" x2="118.57" y2="134.5" stroke="#333" stroke-width="0.55"/>
<line x1="120.79" y1="132.5" x2="120.79" y2="134.5" stroke="#333" stroke-width="0.55"/>
<line x1="122.66" y1="132.5" x2="122.66" y2="134.5" stroke="#333" stroke-width="0.55"/>
<line x1="124.29" y1="132.5" x2="124.29" y2="134.5" stroke="#333" stroke-width="0.55"/>
<line x1="125.72" y1="132.5" x2="125.72" y2="134.5" stroke="#333" stroke-width="0.55"/>
<line x1="135.58" y1="132.5" x2="135.58" y2="134.5" stroke="#333" stroke-width="0.55"/>
<line x1="140.60" y1="132.5" x2="140.60" y2="134.5" stroke="#333" stroke-width="0.55"/>
<line x1="144.16" y1="132.5" x2="144.16" y2="134.5" stroke="#333" stroke-width="0.55"/>
<line x1="146.92" y1="132.5" x2="146.92" y2="134.5" stroke="#333" stroke-width="0.55"/>
<line x1="149.18" y1="132.5" x2="149.18" y2="134.5" stroke="#333" stroke-width="0.55"/>
<line x1="151.09" y1="132.5" x2="151.09" y2="134.5" stroke="#333" stroke-width="0.55"/>
<line x1="152.74" y1="132.5" x2="152.74" y2="134.5" stroke="#333" stroke-width="0.55"/>
<line x1="154.20" y1="132.5" x2="154.20" y2="134.5" stroke="#333" stroke-width="0.55"/>
<line x1="156.40" y1="132.5" x2="156.40" y2="134.5" stroke="#333" stroke-width="0.55"/>
<line x1="156.93" y1="132.5" x2="156.93" y2="134.5" stroke="#333" stroke-width="0.55"/>
<line x1="157.31" y1="132.5" x2="157.31" y2="134.5" stroke="#333" stroke-width="0.55"/>
<line x1="157.60" y1="132.5" x2="157.60" y2="134.5" stroke="#333" stroke-width="0.55"/>
<line x1="157.83" y1="132.5" x2="157.83" y2="134.5" stroke="#333" stroke-width="0.55"/>
<line x1="158.04" y1="132.5" x2="158.04" y2="134.5" stroke="#333" stroke-width="0.55"/>
<line x1="158.21" y1="132.5" x2="158.21" y2="134.5" stroke="#333" stroke-width="0.55"/>
<line x1="158.36" y1="132.5" x2="158.36" y2="134.5" stroke="#333" stroke-width="0.55"/>
<line x1="80.3" y1="132.5" x2="80.3" y2="135.1" stroke="#222" stroke-width="0.6"/>
<line x1="81.1" y1="132.5" x2="81.1" y2="135.1" stroke="#222" stroke-width="0.6"/>
<line x1="81.9" y1="132.5" x2="81.9" y2="135.1" stroke="#222" stroke-width="0.6"/>
<line x1="82.7" y1="132.5" x2="82.7" y2="135.1" stroke="#222" stroke-width="0.6"/>
<line x1="83.5" y1="132.5" x2="83.5" y2="135.1" stroke="#222" stroke-width="0.6"/>
<text x="79.7" y="53" font-size="8.7" fill="#62ad48" text-anchor="middle" stroke-width="0.12" stroke="#62ad48">RF</text>
<text x="76.7" y="59.6" font-size="6" fill="#62ad48" text-anchor="middle" stroke="none">(~5%)</text>
<text x="89.5" y="91.4" font-size="8.7" fill="#e8931c" text-anchor="middle" stroke-width="0.12" stroke="#e8931c">IF</text>
<text x="82" y="98.6" font-size="6" fill="#e8931c" text-anchor="middle" stroke="none">(~5%)</text>
<text x="104.5" y="121.2" font-size="8.7" fill="#a61a3c" text-anchor="middle" stroke-width="0.12" stroke="#a61a3c">PF</text>
<text x="96.8" y="127.9" font-size="6" fill="#a61a3c" text-anchor="middle" stroke="none">(~5%)</text>
<text x="222.5" y="27.9" font-size="8.3" text-anchor="middle" stroke="none"><tspan fill="#222" stroke="#222" stroke-width="0.3">high BR</tspan><tspan fill="#8a8a8a" stroke="none"> (CLL499)</tspan></text>
<g fill="#444">
<rect x="201.8" y="70.8" width="0.8" height="0.8" opacity="0.7"/>
<rect x="208.0" y="109.0" width="0.8" height="0.8" opacity="0.4"/>
<rect x="207.5" y="69.0" width="0.8" height="0.8" opacity="0.7"/>
<rect x="214.5" y="101.3" width="0.8" height="0.8" opacity="0.7"/>
<rect x="218.4" y="61.7" width="0.8" height="0.8" opacity="0.7"/>
<rect x="203.1" y="104.1" width="0.8" height="0.8" opacity="0.55"/>
<rect x="204.2" y="83.1" width="0.8" height="0.8" opacity="0.85"/>
<rect x="230.1" y="117.2" width="0.8" height="0.8" opacity="0.85"/>
<rect x="225.9" y="81.9" width="0.8" height="0.8" opacity="0.4"/>
<rect x="209.7" y="89.1" width="0.8" height="0.8" opacity="0.7"/>
<rect x="219.8" y="116.7" width="0.8" height="0.8" opacity="0.7"/>
<rect x="214.4" y="67.2" width="0.8" height="0.8" opacity="0.7"/>
<rect x="218.2" y="115.7" width="0.8" height="0.8" opacity="1.0"/>
<rect x="213.9" y="45.8" width="0.8" height="0.8" opacity="0.4"/>
<rect x="197.9" y="75.1" width="0.8" height="0.8" opacity="0.7"/>
<rect x="199.6" y="71.8" width="0.8" height="0.8" opacity="0.4"/>
<rect x="223.4" y="93.9" width="0.8" height="0.8" opacity="0.7"/>
<rect x="218.8" y="62.9" width="0.8" height="0.8" opacity="1.0"/>
<rect x="224.9" y="87.8" width="0.8" height="0.8" opacity="0.85"/>
<rect x="209.0" y="106.2" width="0.8" height="0.8" opacity="0.7"/>
<rect x="221.0" y="67.6" width="0.8" height="0.8" opacity="1.0"/>
<rect x="212.5" y="78.1" width="0.8" height="0.8" opacity="1.0"/>
<rect x="219.8" y="87.9" width="0.8" height="0.8" opacity="1.0"/>
<rect x="206.2" y="103.8" width="0.8" height="0.8" opacity="0.7"/>
<rect x="213.9" y="88.8" width="0.8" height="0.8" opacity="0.85"/>
<rect x="241.0" y="116.2" width="0.8" height="0.8" opacity="0.7"/>
<rect x="215.0" y="99.5" width="0.8" height="0.8" opacity="0.55"/>
<rect x="228.4" y="65.2" width="0.8" height="0.8" opacity="0.4"/>
<rect x="210.5" y="104.2" width="0.8" height="0.8" opacity="0.7"/>
<rect x="208.8" y="89.2" width="0.8" height="0.8" opacity="0.4"/>
<rect x="215.2" y="83.8" width="0.8" height="0.8" opacity="0.55"/>
<rect x="208.0" y="54.1" width="0.8" height="0.8" opacity="0.85"/>
<rect x="215.3" y="62.8" width="0.8" height="0.8" opacity="0.4"/>
<rect x="226.5" y="75.8" width="0.8" height="0.8" opacity="0.4"/>
<rect x="212.4" y="78.5" width="0.8" height="0.8" opacity="1.0"/>
<rect x="217.8" y="79.8" width="0.8" height="0.8" opacity="0.7"/>
<rect x="218.0" y="98.6" width="0.8" height="0.8" opacity="1.0"/>
<rect x="206.9" y="78.8" width="0.8" height="0.8" opacity="1.0"/>
<rect x="207.7" y="85.4" width="0.8" height="0.8" opacity="0.55"/>
<rect x="214.8" y="111.6" width="0.8" height="0.8" opacity="0.85"/>
<rect x="212.7" y="78.1" width="0.8" height="0.8" opacity="1.0"/>
<rect x="217.9" y="80.2" width="0.8" height="0.8" opacity="1.0"/>
<rect x="208.1" y="106.9" width="0.8" height="0.8" opacity="0.4"/>
<rect x="226.4" y="59.0" width="0.8" height="0.8" opacity="0.55"/>
<rect x="221.0" y="73.4" width="0.8" height="0.8" opacity="0.55"/>
<rect x="226.1" y="76.0" width="0.8" height="0.8" opacity="0.4"/>
<rect x="226.2" y="52.3" width="0.8" height="0.8" opacity="0.55"/>
<rect x="222.5" y="83.3" width="0.8" height="0.8" opacity="0.85"/>
<rect x="201.1" y="82.1" width="0.8" height="0.8" opacity="1.0"/>
<rect x="220.7" y="64.9" width="0.8" height="0.8" opacity="0.4"/>
<rect x="212.1" y="87.5" width="0.8" height="0.8" opacity="0.55"/>
<rect x="226.3" y="116.5" width="0.8" height="0.8" opacity="0.4"/>
<rect x="215.5" y="82.8" width="0.8" height="0.8" opacity="0.55"/>
<rect x="206.4" y="96.2" width="0.8" height="0.8" opacity="0.4"/>
<rect x="211.4" y="82.3" width="0.8" height="0.8" opacity="0.55"/>
<rect x="221.3" y="70.0" width="0.8" height="0.8" opacity="0.55"/>
<rect x="210.6" y="99.8" width="0.8" height="0.8" opacity="0.85"/>
<rect x="205.8" y="95.4" width="0.8" height="0.8" opacity="1.0"/>
<rect x="222.0" y="74.7" width="0.8" height="0.8" opacity="0.55"/>
<rect x="210.9" y="96.3" width="0.8" height="0.8" opacity="0.55"/>
<rect x="220.9" y="64.8" width="0.8" height="0.8" opacity="1.0"/>
<rect x="203.4" y="107.3" width="0.8" height="0.8" opacity="1.0"/>
<rect x="216.4" y="81.7" width="0.8" height="0.8" opacity="0.85"/>
<rect x="212.8" y="84.1" width="0.8" height="0.8" opacity="0.85"/>
<rect x="219.5" y="84.3" width="0.8" height="0.8" opacity="0.7"/>
<rect x="216.6" y="106.5" width="0.8" height="0.8" opacity="0.4"/>
<rect x="224.5" y="80.1" width="0.8" height="0.8" opacity="0.55"/>
<rect x="221.6" y="70.2" width="0.8" height="0.8" opacity="0.7"/>
<rect x="205.9" y="70.6" width="0.8" height="0.8" opacity="0.7"/>
<rect x="212.4" y="81.3" width="0.8" height="0.8" opacity="1.0"/>
<rect x="216.7" y="98.8" width="0.8" height="0.8" opacity="0.85"/>
<rect x="200.8" y="72.4" width="0.8" height="0.8" opacity="0.4"/>
<rect x="225.4" y="109.9" width="0.8" height="0.8" opacity="0.7"/>
<rect x="211.8" y="78.9" width="0.8" height="0.8" opacity="0.85"/>
<rect x="201.2" y="105.8" width="0.8" height="0.8" opacity="0.55"/>
<rect x="213.6" y="73.7" width="0.8" height="0.8" opacity="1.0"/>
<rect x="211.9" y="77.4" width="0.8" height="0.8" opacity="0.85"/>
<rect x="207.8" y="87.5" width="0.8" height="0.8" opacity="0.55"/>
<rect x="223.6" y="89.4" width="0.8" height="0.8" opacity="1.0"/>
<rect x="223.2" y="86.8" width="0.8" height="0.8" opacity="1.0"/>
<rect x="214.0" y="81.5" width="0.8" height="0.8" opacity="1.0"/>
<rect x="221.5" y="72.2" width="0.8" height="0.8" opacity="0.7"/>
<rect x="203.1" y="99.1" width="0.8" height="0.8" opacity="0.4"/>
<rect x="217.9" y="80.6" width="0.8" height="0.8" opacity="0.85"/>
<rect x="225.5" y="94.5" width="0.8" height="0.8" opacity="1.0"/>
<rect x="216.8" y="80.1" width="0.8" height="0.8" opacity="1.0"/>
<rect x="211.6" y="80.0" width="0.8" height="0.8" opacity="0.55"/>
<rect x="222.9" y="97.0" width="0.8" height="0.8" opacity="0.4"/>
<rect x="226.7" y="73.1" width="0.8" height="0.8" opacity="0.7"/>
<rect x="211.2" y="55.7" width="0.8" height="0.8" opacity="0.85"/>
<rect x="215.9" y="104.0" width="0.8" height="0.8" opacity="0.85"/>
<rect x="217.1" y="95.9" width="0.8" height="0.8" opacity="0.7"/>
<rect x="218.9" y="102.4" width="0.8" height="0.8" opacity="1.0"/>
<rect x="218.3" y="88.6" width="0.8" height="0.8" opacity="0.4"/>
<rect x="209.8" y="59.6" width="0.8" height="0.8" opacity="0.85"/>
<rect x="214.6" y="96.3" width="0.8" height="0.8" opacity="0.4"/>
<rect x="212.2" y="78.6" width="0.8" height="0.8" opacity="0.4"/>
<rect x="216.1" y="54.9" width="0.8" height="0.8" opacity="0.85"/>
<rect x="217.9" y="80.8" width="0.8" height="0.8" opacity="0.4"/>
<rect x="216.0" y="64.5" width="0.8" height="0.8" opacity="0.4"/>
<rect x="215.7" y="116.8" width="0.8" height="0.8" opacity="1.0"/>
<rect x="214.6" y="95.0" width="0.8" height="0.8" opacity="0.85"/>
<rect x="229.2" y="60.5" width="0.8" height="0.8" opacity="0.7"/>
<rect x="213.3" y="75.4" width="0.8" height="0.8" opacity="0.55"/>
<rect x="203.6" y="82.4" width="0.8" height="0.8" opacity="0.7"/>
<rect x="217.2" y="118.1" width="0.8" height="0.8" opacity="0.85"/>
<rect x="205.5" y="87.6" width="0.8" height="0.8" opacity="0.4"/>
<rect x="213.5" y="83.8" width="0.8" height="0.8" opacity="0.85"/>
<rect x="225.0" y="66.1" width="0.8" height="0.8" opacity="1.0"/>
<rect x="222.2" y="76.4" width="0.8" height="0.8" opacity="1.0"/>
<rect x="208.0" y="87.6" width="0.8" height="0.8" opacity="0.85"/>
<rect x="216.6" y="96.4" width="0.8" height="0.8" opacity="1.0"/>
<rect x="206.1" y="74.0" width="0.8" height="0.8" opacity="0.7"/>
<rect x="216.3" y="119.8" width="0.8" height="0.8" opacity="1.0"/>
<rect x="208.7" y="94.8" width="0.8" height="0.8" opacity="1.0"/>
<rect x="209.8" y="103.8" width="0.8" height="0.8" opacity="1.0"/>
<rect x="209.8" y="84.4" width="0.8" height="0.8" opacity="0.7"/>
<rect x="210.5" y="76.9" width="0.8" height="0.8" opacity="0.85"/>
<rect x="211.6" y="99.5" width="0.8" height="0.8" opacity="0.55"/>
<rect x="221.3" y="64.1" width="0.8" height="0.8" opacity="0.85"/>
<rect x="206.4" y="68.3" width="0.8" height="0.8" opacity="0.4"/>
<rect x="212.4" y="103.4" width="0.8" height="0.8" opacity="0.85"/>
<rect x="204.6" y="81.3" width="0.8" height="0.8" opacity="0.4"/>
<rect x="208.2" y="80.1" width="0.8" height="0.8" opacity="1.0"/>
<rect x="209.3" y="94.4" width="0.8" height="0.8" opacity="0.7"/>
<rect x="217.3" y="89.6" width="0.8" height="0.8" opacity="0.55"/>
<rect x="213.3" y="68.1" width="0.8" height="0.8" opacity="1.0"/>
<rect x="209.7" y="49.5" width="0.8" height="0.8" opacity="0.85"/>
<rect x="208.5" y="65.1" width="0.8" height="0.8" opacity="0.55"/>
<rect x="219.1" y="68.8" width="0.8" height="0.8" opacity="0.55"/>
<rect x="227.5" y="100.9" width="0.8" height="0.8" opacity="0.55"/>
<rect x="204.6" y="80.6" width="0.8" height="0.8" opacity="0.55"/>
<rect x="211.2" y="56.9" width="0.8" height="0.8" opacity="0.55"/>
<rect x="224.6" y="84.1" width="0.8" height="0.8" opacity="0.7"/>
<rect x="220.4" y="109.1" width="0.8" height="0.8" opacity="0.4"/>
<rect x="214.0" y="82.5" width="0.8" height="0.8" opacity="0.85"/>
<rect x="209.6" y="58.8" width="0.8" height="0.8" opacity="0.7"/>
<rect x="210.5" y="66.0" width="0.8" height="0.8" opacity="0.7"/>
<rect x="209.2" y="100.6" width="0.8" height="0.8" opacity="0.4"/>
<rect x="216.7" y="116.1" width="0.8" height="0.8" opacity="0.4"/>
<rect x="219.6" y="105.9" width="0.8" height="0.8" opacity="1.0"/>
<rect x="210.2" y="70.0" width="0.8" height="0.8" opacity="0.85"/>
<rect x="225.4" y="119.7" width="0.8" height="0.8" opacity="0.7"/>
<rect x="224.9" y="87.7" width="0.8" height="0.8" opacity="1.0"/>
<rect x="217.0" y="68.7" width="0.8" height="0.8" opacity="0.85"/>
<rect x="212.5" y="103.6" width="0.8" height="0.8" opacity="1.0"/>
<rect x="224.0" y="93.5" width="0.8" height="0.8" opacity="0.7"/>
<rect x="242.8" y="107.7" width="0.8" height="0.8" opacity="1.0"/>
<rect x="245.5" y="113.3" width="0.8" height="0.8" opacity="0.55"/>
<rect x="239.5" y="124.7" width="0.8" height="0.8" opacity="0.85"/>
<rect x="218.3" y="104.9" width="0.8" height="0.8" opacity="0.85"/>
<rect x="261.4" y="118.3" width="0.8" height="0.8" opacity="0.85"/>
<rect x="260.0" y="122.5" width="0.8" height="0.8" opacity="0.7"/>
<rect x="238.7" y="112.9" width="0.8" height="0.8" opacity="0.85"/>
<rect x="247.7" y="110.9" width="0.8" height="0.8" opacity="0.4"/>
<rect x="211.6" y="110.8" width="0.8" height="0.8" opacity="0.4"/>
<rect x="236.6" y="115.7" width="0.8" height="0.8" opacity="0.85"/>
<rect x="244.9" y="127.1" width="0.8" height="0.8" opacity="1.0"/>
<rect x="246.6" y="120.1" width="0.8" height="0.8" opacity="0.7"/>
<rect x="242.5" y="122.6" width="0.8" height="0.8" opacity="0.55"/>
<rect x="244.8" y="112.6" width="0.8" height="0.8" opacity="1.0"/>
<rect x="249.4" y="123.0" width="0.8" height="0.8" opacity="0.4"/>
<rect x="260.4" y="114.5" width="0.8" height="0.8" opacity="0.85"/>
<rect x="253.6" y="127.8" width="0.8" height="0.8" opacity="0.55"/>
<rect x="253.6" y="118.1" width="0.8" height="0.8" opacity="0.55"/>
<rect x="238.5" y="105.6" width="0.8" height="0.8" opacity="0.7"/>
<rect x="227.1" y="103.3" width="0.8" height="0.8" opacity="0.7"/>
<rect x="242.7" y="118.0" width="0.8" height="0.8" opacity="1.0"/>
<rect x="238.4" y="116.9" width="0.8" height="0.8" opacity="1.0"/>
<rect x="241.8" y="116.1" width="0.8" height="0.8" opacity="0.4"/>
<rect x="231.3" y="123.5" width="0.8" height="0.8" opacity="0.7"/>
<rect x="246.6" y="122.5" width="0.8" height="0.8" opacity="0.4"/>
<rect x="246.2" y="118.1" width="0.8" height="0.8" opacity="1.0"/>
<rect x="222.1" y="126.1" width="0.8" height="0.8" opacity="0.7"/>
<rect x="242.0" y="118.0" width="0.8" height="0.8" opacity="0.7"/>
<rect x="246.6" y="109.4" width="0.8" height="0.8" opacity="0.85"/>
<rect x="229.0" y="117.1" width="0.8" height="0.8" opacity="1.0"/>
<rect x="237.3" y="113.8" width="0.8" height="0.8" opacity="0.4"/>
<rect x="228.1" y="97.5" width="0.8" height="0.8" opacity="0.7"/>
<rect x="252.8" y="130.0" width="0.8" height="0.8" opacity="0.7"/>
<rect x="244.6" y="104.0" width="0.8" height="0.8" opacity="0.7"/>
<rect x="232.7" y="106.0" width="0.8" height="0.8" opacity="0.7"/>
<rect x="221.2" y="99.7" width="0.8" height="0.8" opacity="0.55"/>
<rect x="243.1" y="104.8" width="0.8" height="0.8" opacity="0.55"/>
<rect x="241.5" y="113.3" width="0.8" height="0.8" opacity="0.4"/>
<rect x="237.6" y="114.3" width="0.8" height="0.8" opacity="1.0"/>
<rect x="228.2" y="103.9" width="0.8" height="0.8" opacity="0.4"/>
<rect x="233.2" y="112.8" width="0.8" height="0.8" opacity="0.85"/>
<rect x="260.1" y="120.8" width="0.8" height="0.8" opacity="1.0"/>
<rect x="226.0" y="111.2" width="0.8" height="0.8" opacity="0.7"/>
<rect x="237.4" y="109.4" width="0.8" height="0.8" opacity="0.55"/>
<rect x="231.4" y="105.5" width="0.8" height="0.8" opacity="1.0"/>
<rect x="256.5" y="110.5" width="0.8" height="0.8" opacity="0.4"/>
<rect x="261.5" y="111.2" width="0.8" height="0.8" opacity="0.4"/>
<rect x="227.9" y="121.7" width="0.8" height="0.8" opacity="0.7"/>
<rect x="244.4" y="121.7" width="0.8" height="0.8" opacity="0.55"/>
<rect x="234.4" y="107.2" width="0.8" height="0.8" opacity="0.85"/>
<rect x="224.3" y="113.2" width="0.8" height="0.8" opacity="1.0"/>
<rect x="247.1" y="114.3" width="0.8" height="0.8" opacity="0.7"/>
<rect x="246.2" y="111.7" width="0.8" height="0.8" opacity="0.7"/>
<rect x="248.3" y="114.9" width="0.8" height="0.8" opacity="0.7"/>
<rect x="231.5" y="103.6" width="0.8" height="0.8" opacity="1.0"/>
<rect x="255.8" y="116.4" width="0.8" height="0.8" opacity="0.4"/>
<rect x="232.1" y="122.9" width="0.8" height="0.8" opacity="0.4"/>
<rect x="219.9" y="106.2" width="0.8" height="0.8" opacity="1.0"/>
<rect x="231.9" y="121.7" width="0.8" height="0.8" opacity="0.7"/>
<rect x="211.7" y="104.7" width="0.8" height="0.8" opacity="1.0"/>
<rect x="262.6" y="98.8" width="0.8" height="0.8" opacity="0.7"/>
<rect x="217.5" y="111.7" width="0.8" height="0.8" opacity="0.4"/>
<rect x="252.1" y="118.0" width="0.8" height="0.8" opacity="1.0"/>
<rect x="250.8" y="119.5" width="0.8" height="0.8" opacity="1.0"/>
<rect x="236.1" y="122.5" width="0.8" height="0.8" opacity="0.85"/>
<rect x="239.7" y="113.3" width="0.8" height="0.8" opacity="1.0"/>
<rect x="234.6" y="111.0" width="0.8" height="0.8" opacity="0.7"/>
<rect x="222.5" y="122.9" width="0.8" height="0.8" opacity="0.4"/>
<rect x="229.9" y="107.5" width="0.8" height="0.8" opacity="0.7"/>
<rect x="256.2" y="106.6" width="0.8" height="0.8" opacity="0.85"/>
<rect x="251.4" y="119.7" width="0.8" height="0.8" opacity="0.4"/>
<rect x="237.8" y="115.3" width="0.8" height="0.8" opacity="0.7"/>
<rect x="245.1" y="109.0" width="0.8" height="0.8" opacity="0.7"/>
<rect x="248.5" y="117.5" width="0.8" height="0.8" opacity="0.4"/>
<rect x="241.6" y="109.0" width="0.8" height="0.8" opacity="0.7"/>
<rect x="225.9" y="111.7" width="0.8" height="0.8" opacity="0.4"/>
<rect x="219.8" y="109.0" width="0.8" height="0.8" opacity="1.0"/>
<rect x="233.9" y="102.6" width="0.8" height="0.8" opacity="0.4"/>
<rect x="237.0" y="124.7" width="0.8" height="0.8" opacity="0.55"/>
<rect x="232.5" y="123.8" width="0.8" height="0.8" opacity="1.0"/>
<rect x="230.2" y="94.0" width="0.8" height="0.8" opacity="1.0"/>
<rect x="261.9" y="121.2" width="0.8" height="0.8" opacity="0.85"/>
<rect x="243.8" y="108.4" width="0.8" height="0.8" opacity="0.4"/>
<rect x="220.7" y="102.1" width="0.8" height="0.8" opacity="1.0"/>
<rect x="237.7" y="95.3" width="0.8" height="0.8" opacity="0.7"/>
<rect x="226.0" y="124.4" width="0.8" height="0.8" opacity="0.4"/>
<rect x="245.8" y="110.0" width="0.8" height="0.8" opacity="1.0"/>
<rect x="227.0" y="111.9" width="0.8" height="0.8" opacity="0.7"/>
<rect x="244.9" y="115.2" width="0.8" height="0.8" opacity="0.7"/>
<rect x="246.4" y="99.1" width="0.8" height="0.8" opacity="0.4"/>
<rect x="243.5" y="124.8" width="0.8" height="0.8" opacity="0.55"/>
<rect x="243.5" y="112.2" width="0.8" height="0.8" opacity="0.4"/>
<rect x="234.1" y="127.7" width="0.8" height="0.8" opacity="0.85"/>
<rect x="216.7" y="98.5" width="0.8" height="0.8" opacity="0.85"/>
<rect x="227.6" y="101.9" width="0.8" height="0.8" opacity="0.55"/>
<rect x="226.0" y="100.3" width="0.8" height="0.8" opacity="0.55"/>
<rect x="239.5" y="118.6" width="0.8" height="0.8" opacity="1.0"/>
<rect x="247.1" y="111.9" width="0.8" height="0.8" opacity="0.7"/>
<rect x="245.3" y="110.4" width="0.8" height="0.8" opacity="1.0"/>
<rect x="239.7" y="116.7" width="0.8" height="0.8" opacity="0.7"/>
<rect x="250.9" y="118.4" width="0.8" height="0.8" opacity="0.85"/>
<rect x="217.7" y="96.5" width="0.8" height="0.8" opacity="0.7"/>
<rect x="242.9" y="122.3" width="0.8" height="0.8" opacity="0.85"/>
<rect x="229.8" y="113.9" width="0.8" height="0.8" opacity="1.0"/>
<rect x="251.0" y="118.3" width="0.8" height="0.8" opacity="1.0"/>
<rect x="232.1" y="105.6" width="0.8" height="0.8" opacity="1.0"/>
<rect x="232.2" y="112.0" width="0.8" height="0.8" opacity="0.55"/>
<rect x="199.0" y="123.5" width="0.8" height="0.8" opacity="0.4"/>
<rect x="209.6" y="114.3" width="0.8" height="0.8" opacity="0.4"/>
<rect x="225.6" y="79.0" width="0.8" height="0.8" opacity="1.0"/>
<rect x="213.6" y="90.5" width="0.8" height="0.8" opacity="1.0"/>
<rect x="217.6" y="94.4" width="0.8" height="0.8" opacity="1.0"/>
<rect x="214.3" y="117.2" width="0.8" height="0.8" opacity="0.4"/>
<rect x="213.2" y="100.7" width="0.8" height="0.8" opacity="0.55"/>
<rect x="196.3" y="106.3" width="0.8" height="0.8" opacity="0.85"/>
<rect x="194.7" y="105.1" width="0.8" height="0.8" opacity="0.7"/>
<rect x="217.3" y="100.3" width="0.8" height="0.8" opacity="0.55"/>
<rect x="197.3" y="116.5" width="0.8" height="0.8" opacity="0.85"/>
<rect x="191.7" y="92.0" width="0.8" height="0.8" opacity="0.85"/>
<rect x="201.7" y="83.5" width="0.8" height="0.8" opacity="1.0"/>
<rect x="186.2" y="101.5" width="0.8" height="0.8" opacity="0.7"/>
<rect x="206.2" y="56.1" width="0.8" height="0.8" opacity="0.85"/>
<rect x="194.2" y="77.3" width="0.8" height="0.8" opacity="0.55"/>
<rect x="209.0" y="96.8" width="0.8" height="0.8" opacity="0.4"/>
<rect x="221.4" y="98.2" width="0.8" height="0.8" opacity="0.4"/>
<rect x="204.4" y="112.5" width="0.8" height="0.8" opacity="1.0"/>
<rect x="204.6" y="116.4" width="0.8" height="0.8" opacity="0.55"/>
<rect x="194.1" y="68.6" width="0.8" height="0.8" opacity="0.55"/>
<rect x="186.6" y="85.8" width="0.8" height="0.8" opacity="0.7"/>
<rect x="201.4" y="107.7" width="0.8" height="0.8" opacity="0.85"/>
<rect x="178.0" y="91.4" width="0.8" height="0.8" opacity="1.0"/>
<rect x="228.6" y="92.8" width="0.8" height="0.8" opacity="0.55"/>
<rect x="235.5" y="107.7" width="0.8" height="0.8" opacity="0.4"/>
<rect x="229.9" y="54.9" width="0.8" height="0.8" opacity="0.4"/>
<rect x="231.4" y="99.1" width="0.8" height="0.8" opacity="1.0"/>
<rect x="230.6" y="96.9" width="0.8" height="0.8" opacity="0.7"/>
<rect x="250.7" y="54.6" width="0.8" height="0.8" opacity="0.7"/>
<rect x="232.5" y="92.7" width="0.8" height="0.8" opacity="0.4"/>
<rect x="229.3" y="100.6" width="0.8" height="0.8" opacity="0.4"/>
<rect x="219.1" y="71.9" width="0.8" height="0.8" opacity="0.85"/>
<rect x="222.8" y="75.3" width="0.8" height="0.8" opacity="0.7"/>
<rect x="223.5" y="52.6" width="0.8" height="0.8" opacity="0.55"/>
<rect x="218.6" y="70.2" width="0.8" height="0.8" opacity="0.55"/>
<rect x="242.5" y="51.2" width="0.8" height="0.8" opacity="1.0"/>
<rect x="227.3" y="87.1" width="0.8" height="0.8" opacity="0.4"/>
<rect x="252.0" y="102.5" width="0.8" height="0.8" opacity="0.85"/>
<rect x="238.8" y="49.8" width="0.8" height="0.8" opacity="0.55"/>
<rect x="218.9" y="74.7" width="0.8" height="0.8" opacity="0.4"/>
<rect x="222.0" y="79.2" width="0.8" height="0.8" opacity="0.55"/>
<rect x="261.7" y="90.7" width="0.8" height="0.8" opacity="0.4"/>
<rect x="226.8" y="51.6" width="0.8" height="0.8" opacity="0.55"/>
<rect x="225.2" y="52.1" width="0.8" height="0.8" opacity="0.55"/>
<rect x="229.6" y="49.7" width="0.8" height="0.8" opacity="0.4"/>
<rect x="223.8" y="89.3" width="0.8" height="0.8" opacity="0.85"/>
<rect x="238.7" y="52.6" width="0.8" height="0.8" opacity="1.0"/>
<rect x="228.5" y="49.3" width="0.8" height="0.8" opacity="0.4"/>
<rect x="241.0" y="102.9" width="0.8" height="0.8" opacity="0.7"/>
<rect x="229.5" y="90.1" width="0.8" height="0.8" opacity="0.85"/>
<rect x="226.2" y="87.2" width="0.8" height="0.8" opacity="0.7"/>
<rect x="221.5" y="51.3" width="0.8" height="0.8" opacity="0.85"/>
<rect x="244.8" y="51.9" width="0.8" height="0.8" opacity="0.55"/>
<rect x="248.3" y="54.9" width="0.8" height="0.8" opacity="0.85"/>
<rect x="249.1" y="55.5" width="0.8" height="0.8" opacity="0.85"/>
<rect x="238.7" y="103.4" width="0.8" height="0.8" opacity="0.55"/>
<rect x="252.5" y="99.6" width="0.8" height="0.8" opacity="0.7"/>
<rect x="251.9" y="54.2" width="0.8" height="0.8" opacity="0.85"/>
<rect x="220.2" y="54.9" width="0.8" height="0.8" opacity="0.85"/>
<rect x="228.8" y="51.3" width="0.8" height="0.8" opacity="0.55"/>
<rect x="245.9" y="54.2" width="0.8" height="0.8" opacity="1.0"/>
<rect x="218.1" y="66.4" width="0.8" height="0.8" opacity="0.4"/>
<rect x="223.4" y="48.6" width="0.8" height="0.8" opacity="0.4"/>
<rect x="238.8" y="50.6" width="0.8" height="0.8" opacity="0.85"/>
<rect x="238.6" y="102.4" width="0.8" height="0.8" opacity="1.0"/>
<rect x="218.7" y="54.6" width="0.8" height="0.8" opacity="0.85"/>
<rect x="229.9" y="88.4" width="0.8" height="0.8" opacity="0.4"/>
<rect x="253.4" y="60.1" width="0.8" height="0.8" opacity="0.4"/>
<rect x="225.5" y="83.4" width="0.8" height="0.8" opacity="0.55"/>
<rect x="246.3" y="52.7" width="0.8" height="0.8" opacity="0.7"/>
<rect x="252.5" y="57.0" width="0.8" height="0.8" opacity="0.55"/>
<rect x="229.3" y="53.2" width="0.8" height="0.8" opacity="0.4"/>
<rect x="223.4" y="75.9" width="0.8" height="0.8" opacity="1.0"/>
<rect x="215.0" y="67.9" width="0.8" height="0.8" opacity="0.85"/>
<rect x="228.1" y="85.0" width="0.8" height="0.8" opacity="0.85"/>
<rect x="250.7" y="68.6" width="0.8" height="0.8" opacity="0.85"/>
<rect x="242.3" y="102.8" width="0.8" height="0.8" opacity="0.85"/>
<rect x="219.4" y="55.4" width="0.8" height="0.8" opacity="0.55"/>
<rect x="224.3" y="53.3" width="0.8" height="0.8" opacity="1.0"/>
<rect x="239.6" y="104.7" width="0.8" height="0.8" opacity="0.85"/>
<rect x="251.1" y="102.4" width="0.8" height="0.8" opacity="0.85"/>
<rect x="223.1" y="55.2" width="0.8" height="0.8" opacity="0.55"/>
<rect x="233.9" y="96.3" width="0.8" height="0.8" opacity="0.85"/>
<rect x="231.1" y="97.6" width="0.8" height="0.8" opacity="0.7"/>
<rect x="254.6" y="68.5" width="0.8" height="0.8" opacity="1.0"/>
<rect x="219.5" y="54.1" width="0.8" height="0.8" opacity="0.4"/>
<rect x="254.1" y="80.4" width="0.8" height="0.8" opacity="1.0"/>
<rect x="221.1" y="79.3" width="0.8" height="0.8" opacity="1.0"/>
<rect x="253.3" y="69.5" width="0.8" height="0.8" opacity="0.55"/>
<rect x="229.9" y="94.9" width="0.8" height="0.8" opacity="0.7"/>
<rect x="247.4" y="51.1" width="0.8" height="0.8" opacity="0.7"/>
<rect x="236.0" y="51.6" width="0.8" height="0.8" opacity="0.55"/>
<rect x="219.1" y="63.8" width="0.8" height="0.8" opacity="1.0"/>
<rect x="238.4" y="47.4" width="0.8" height="0.8" opacity="0.55"/>
<rect x="224.1" y="53.5" width="0.8" height="0.8" opacity="0.55"/>
<rect x="233.9" y="52.1" width="0.8" height="0.8" opacity="0.85"/>
<rect x="225.9" y="56.4" width="0.8" height="0.8" opacity="0.85"/>
<rect x="234.2" y="50.5" width="0.8" height="0.8" opacity="1.0"/>
<rect x="223.3" y="51.5" width="0.8" height="0.8" opacity="0.85"/>
<rect x="247.2" y="101.7" width="0.8" height="0.8" opacity="0.85"/>
<rect x="231.3" y="45.8" width="0.8" height="0.8" opacity="1.0"/>
<rect x="248.7" y="55.6" width="0.8" height="0.8" opacity="0.55"/>
<rect x="223.9" y="75.6" width="0.8" height="0.8" opacity="0.55"/>
<rect x="245.6" y="57.1" width="0.8" height="0.8" opacity="0.55"/>
<rect x="222.2" y="69.0" width="0.8" height="0.8" opacity="0.7"/>
<rect x="250.8" y="101.4" width="0.8" height="0.8" opacity="0.7"/>
<rect x="231.2" y="96.8" width="0.8" height="0.8" opacity="0.4"/>
<rect x="233.8" y="102.7" width="0.8" height="0.8" opacity="0.4"/>
<rect x="241.8" y="49.1" width="0.8" height="0.8" opacity="0.7"/>
<rect x="222.4" y="67.4" width="0.8" height="0.8" opacity="0.4"/>
<rect x="219.6" y="55.7" width="0.8" height="0.8" opacity="0.85"/>
<rect x="221.3" y="64.0" width="0.8" height="0.8" opacity="0.55"/>
<rect x="222.0" y="74.4" width="0.8" height="0.8" opacity="0.85"/>
<rect x="221.1" y="70.5" width="0.8" height="0.8" opacity="0.85"/>
<rect x="252.1" y="80.7" width="0.8" height="0.8" opacity="0.4"/>
<rect x="246.6" y="56.1" width="0.8" height="0.8" opacity="0.85"/>
<rect x="243.8" y="102.6" width="0.8" height="0.8" opacity="0.4"/>
<rect x="225.5" y="88.2" width="0.8" height="0.8" opacity="1.0"/>
<rect x="219.3" y="83.9" width="0.8" height="0.8" opacity="0.4"/>
<rect x="241.9" y="105.7" width="0.8" height="0.8" opacity="1.0"/>
<rect x="234.9" y="49.9" width="0.8" height="0.8" opacity="0.85"/>
<rect x="221.2" y="71.5" width="0.8" height="0.8" opacity="0.55"/>
<rect x="220.3" y="59.0" width="0.8" height="0.8" opacity="0.4"/>
<rect x="245.7" y="48.3" width="0.8" height="0.8" opacity="1.0"/>
<rect x="223.2" y="54.5" width="0.8" height="0.8" opacity="0.55"/>
<rect x="224.9" y="85.0" width="0.8" height="0.8" opacity="0.55"/>
<rect x="245.2" y="54.2" width="0.8" height="0.8" opacity="0.7"/>
<rect x="253.8" y="89.2" width="0.8" height="0.8" opacity="0.85"/>
<rect x="238.6" y="101.0" width="0.8" height="0.8" opacity="0.7"/>
<rect x="252.4" y="93.8" width="0.8" height="0.8" opacity="0.55"/>
<rect x="234.0" y="51.4" width="0.8" height="0.8" opacity="0.7"/>
<rect x="251.2" y="51.2" width="0.8" height="0.8" opacity="1.0"/>
<rect x="221.5" y="62.3" width="0.8" height="0.8" opacity="0.55"/>
<rect x="228.7" y="94.2" width="0.8" height="0.8" opacity="1.0"/>
<rect x="220.4" y="77.9" width="0.8" height="0.8" opacity="0.7"/>
<rect x="246.9" y="52.2" width="0.8" height="0.8" opacity="0.55"/>
<rect x="227.7" y="48.5" width="0.8" height="0.8" opacity="0.4"/>
<rect x="232.6" y="99.7" width="0.8" height="0.8" opacity="0.55"/>
<rect x="229.7" y="86.4" width="0.8" height="0.8" opacity="0.7"/>
<rect x="222.6" y="64.2" width="0.8" height="0.8" opacity="1.0"/>
<rect x="253.0" y="56.4" width="0.8" height="0.8" opacity="0.4"/>
<rect x="239.8" y="103.0" width="0.8" height="0.8" opacity="0.4"/>
<rect x="224.4" y="48.4" width="0.8" height="0.8" opacity="0.7"/>
<rect x="214.7" y="58.4" width="0.8" height="0.8" opacity="0.4"/>
<rect x="252.1" y="99.5" width="0.8" height="0.8" opacity="1.0"/>
<rect x="253.6" y="66.0" width="0.8" height="0.8" opacity="0.4"/>
<rect x="234.0" y="102.4" width="0.8" height="0.8" opacity="0.4"/>
<rect x="219.7" y="75.3" width="0.8" height="0.8" opacity="0.85"/>
<rect x="258.5" y="70.4" width="0.8" height="0.8" opacity="1.0"/>
<rect x="249.2" y="58.7" width="0.8" height="0.8" opacity="0.85"/>
<rect x="228.3" y="51.5" width="0.8" height="0.8" opacity="0.85"/>
<rect x="228.8" y="86.7" width="0.8" height="0.8" opacity="0.7"/>
<rect x="258.3" y="80.2" width="0.8" height="0.8" opacity="0.4"/>
<rect x="222.2" y="69.2" width="0.8" height="0.8" opacity="1.0"/>
<rect x="218.7" y="62.7" width="0.8" height="0.8" opacity="0.85"/>
<rect x="250.9" y="100.5" width="0.8" height="0.8" opacity="0.55"/>
<rect x="222.0" y="83.1" width="0.8" height="0.8" opacity="1.0"/>
<rect x="221.0" y="78.7" width="0.8" height="0.8" opacity="0.4"/>
<rect x="235.5" y="48.9" width="0.8" height="0.8" opacity="0.55"/>
<rect x="220.8" y="70.1" width="0.8" height="0.8" opacity="0.85"/>
<rect x="240.3" y="104.8" width="0.8" height="0.8" opacity="0.7"/>
<rect x="252.6" y="84.0" width="0.8" height="0.8" opacity="1.0"/>
<rect x="227.7" y="98.5" width="0.8" height="0.8" opacity="0.7"/>
<rect x="243.1" y="54.3" width="0.8" height="0.8" opacity="1.0"/>
<rect x="231.9" y="45.8" width="0.8" height="0.8" opacity="0.85"/>
<rect x="240.5" y="49.5" width="0.8" height="0.8" opacity="0.4"/>
<rect x="238.2" y="103.1" width="0.8" height="0.8" opacity="0.7"/>
<rect x="221.0" y="57.4" width="0.8" height="0.8" opacity="0.7"/>
<rect x="220.9" y="71.7" width="0.8" height="0.8" opacity="0.7"/>
<rect x="247.8" y="102.5" width="0.8" height="0.8" opacity="0.4"/>
<rect x="260.0" y="72.3" width="0.8" height="0.8" opacity="0.4"/>
<rect x="240.6" y="51.8" width="0.8" height="0.8" opacity="0.4"/>
<rect x="225.2" y="82.8" width="0.8" height="0.8" opacity="0.85"/>
<rect x="250.5" y="100.8" width="0.8" height="0.8" opacity="0.4"/>
<rect x="247.8" y="56.3" width="0.8" height="0.8" opacity="1.0"/>
<rect x="254.0" y="57.9" width="0.8" height="0.8" opacity="0.85"/>
<rect x="220.8" y="70.0" width="0.8" height="0.8" opacity="0.4"/>
<rect x="218.8" y="76.1" width="0.8" height="0.8" opacity="0.85"/>
<rect x="225.4" y="78.7" width="0.8" height="0.8" opacity="0.4"/>
<rect x="253.6" y="99.5" width="0.8" height="0.8" opacity="0.4"/>
<rect x="244.3" y="100.3" width="0.8" height="0.8" opacity="0.7"/>
<rect x="232.5" y="99.9" width="0.8" height="0.8" opacity="0.4"/>
<rect x="227.7" y="95.2" width="0.8" height="0.8" opacity="0.85"/>
<rect x="221.6" y="68.8" width="0.8" height="0.8" opacity="0.4"/>
<rect x="226.4" y="57.0" width="0.8" height="0.8" opacity="1.0"/>
<rect x="223.7" y="70.6" width="0.8" height="0.8" opacity="1.0"/>
<rect x="233.5" y="45.1" width="0.8" height="0.8" opacity="0.55"/>
<rect x="242.6" y="54.0" width="0.8" height="0.8" opacity="0.85"/>
<rect x="219.3" y="75.9" width="0.8" height="0.8" opacity="0.55"/>
<rect x="221.5" y="67.8" width="0.8" height="0.8" opacity="0.4"/>
<rect x="219.1" y="58.0" width="0.8" height="0.8" opacity="0.7"/>
<rect x="229.4" y="95.8" width="0.8" height="0.8" opacity="1.0"/>
<rect x="228.8" y="51.2" width="0.8" height="0.8" opacity="0.4"/>
<rect x="223.4" y="56.0" width="0.8" height="0.8" opacity="1.0"/>
<rect x="234.3" y="100.7" width="0.8" height="0.8" opacity="0.85"/>
<rect x="241.5" y="103.2" width="0.8" height="0.8" opacity="1.0"/>
<rect x="230.0" y="86.4" width="0.8" height="0.8" opacity="1.0"/>
<rect x="241.0" y="100.9" width="0.8" height="0.8" opacity="0.55"/>
<rect x="223.1" y="73.4" width="0.8" height="0.8" opacity="1.0"/>
<rect x="254.5" y="91.1" width="0.8" height="0.8" opacity="0.4"/>
<rect x="254.3" y="74.3" width="0.8" height="0.8" opacity="0.4"/>
<rect x="246.8" y="101.4" width="0.8" height="0.8" opacity="0.55"/>
<rect x="221.6" y="69.3" width="0.8" height="0.8" opacity="0.55"/>
<rect x="242.4" y="105.8" width="0.8" height="0.8" opacity="0.55"/>
<rect x="244.3" y="51.9" width="0.8" height="0.8" opacity="0.55"/>
<rect x="224.1" y="80.2" width="0.8" height="0.8" opacity="0.7"/>
<rect x="227.5" y="48.4" width="0.8" height="0.8" opacity="0.7"/>
<rect x="228.4" y="85.4" width="0.8" height="0.8" opacity="0.85"/>
<rect x="231.1" y="92.8" width="0.8" height="0.8" opacity="0.4"/>
<rect x="252.9" y="78.4" width="0.8" height="0.8" opacity="0.7"/>
<rect x="222.5" y="86.8" width="0.8" height="0.8" opacity="0.85"/>
<rect x="233.5" y="50.7" width="0.8" height="0.8" opacity="0.55"/>
<rect x="241.3" y="100.9" width="0.8" height="0.8" opacity="1.0"/>
<rect x="246.8" y="104.1" width="0.8" height="0.8" opacity="0.85"/>
<rect x="216.7" y="61.9" width="0.8" height="0.8" opacity="0.55"/>
<rect x="259.4" y="64.1" width="0.8" height="0.8" opacity="0.7"/>
<rect x="251.2" y="96.8" width="0.8" height="0.8" opacity="1.0"/>
<rect x="228.3" y="52.8" width="0.8" height="0.8" opacity="0.4"/>
<rect x="250.3" y="105.7" width="0.8" height="0.8" opacity="0.55"/>
<rect x="221.9" y="74.8" width="0.8" height="0.8" opacity="0.7"/>
<rect x="251.6" y="102.2" width="0.8" height="0.8" opacity="0.85"/>
<rect x="253.7" y="65.6" width="0.8" height="0.8" opacity="0.55"/>
<rect x="245.2" y="102.1" width="0.8" height="0.8" opacity="0.85"/>
<rect x="251.5" y="84.1" width="0.8" height="0.8" opacity="0.55"/>
<rect x="223.4" y="76.2" width="0.8" height="0.8" opacity="0.7"/>
<rect x="253.0" y="55.1" width="0.8" height="0.8" opacity="0.4"/>
<rect x="235.7" y="98.7" width="0.8" height="0.8" opacity="0.7"/>
<rect x="242.5" y="49.0" width="0.8" height="0.8" opacity="0.85"/>
<rect x="226.9" y="88.0" width="0.8" height="0.8" opacity="1.0"/>
<rect x="249.6" y="99.0" width="0.8" height="0.8" opacity="0.55"/>
<rect x="216.8" y="64.6" width="0.8" height="0.8" opacity="0.85"/>
<rect x="245.3" y="48.9" width="0.8" height="0.8" opacity="1.0"/>
<rect x="218.7" y="62.9" width="0.8" height="0.8" opacity="0.85"/>
<rect x="253.0" y="96.7" width="0.8" height="0.8" opacity="0.4"/>
<rect x="226.7" y="54.5" width="0.8" height="0.8" opacity="0.4"/>
<rect x="227.9" y="50.2" width="0.8" height="0.8" opacity="0.4"/>
<rect x="251.7" y="63.9" width="0.8" height="0.8" opacity="0.4"/>
<rect x="222.6" y="75.0" width="0.8" height="0.8" opacity="0.7"/>
<rect x="248.0" y="53.0" width="0.8" height="0.8" opacity="1.0"/>
<rect x="249.2" y="97.5" width="0.8" height="0.8" opacity="0.4"/>
<rect x="255.7" y="98.3" width="0.8" height="0.8" opacity="0.85"/>
<rect x="226.8" y="83.3" width="0.8" height="0.8" opacity="0.4"/>
<rect x="231.4" y="55.2" width="0.8" height="0.8" opacity="0.4"/>
<rect x="220.1" y="66.2" width="0.8" height="0.8" opacity="1.0"/>
<rect x="218.4" y="65.3" width="0.8" height="0.8" opacity="0.4"/>
<rect x="244.5" y="103.6" width="0.8" height="0.8" opacity="0.55"/>
<rect x="238.3" y="103.1" width="0.8" height="0.8" opacity="0.4"/>
<rect x="251.6" y="53.7" width="0.8" height="0.8" opacity="0.55"/>
<rect x="225.2" y="50.2" width="0.8" height="0.8" opacity="1.0"/>
<rect x="245.1" y="100.8" width="0.8" height="0.8" opacity="1.0"/>
<rect x="220.5" y="73.4" width="0.8" height="0.8" opacity="0.55"/>
<rect x="247.0" y="53.7" width="0.8" height="0.8" opacity="1.0"/>
<rect x="225.6" y="85.5" width="0.8" height="0.8" opacity="1.0"/>
<rect x="222.4" y="51.8" width="0.8" height="0.8" opacity="0.85"/>
<rect x="223.8" y="56.3" width="0.8" height="0.8" opacity="0.85"/>
<rect x="219.7" y="66.5" width="0.8" height="0.8" opacity="0.55"/>
<rect x="252.9" y="99.3" width="0.8" height="0.8" opacity="0.7"/>
<rect x="246.5" y="52.9" width="0.8" height="0.8" opacity="0.7"/>
<rect x="234.4" y="99.7" width="0.8" height="0.8" opacity="0.55"/>
<rect x="247.7" y="51.2" width="0.8" height="0.8" opacity="0.7"/>
<rect x="224.1" y="79.3" width="0.8" height="0.8" opacity="0.85"/>
<rect x="257.1" y="84.9" width="0.8" height="0.8" opacity="0.55"/>
<rect x="228.2" y="93.1" width="0.8" height="0.8" opacity="0.85"/>
<rect x="251.8" y="54.7" width="0.8" height="0.8" opacity="0.7"/>
<rect x="226.6" y="51.1" width="0.8" height="0.8" opacity="1.0"/>
<rect x="224.4" y="50.5" width="0.8" height="0.8" opacity="0.85"/>
<rect x="250.5" y="53.3" width="0.8" height="0.8" opacity="0.4"/>
<rect x="226.2" y="75.9" width="0.8" height="0.8" opacity="0.7"/>
<rect x="253.2" y="91.2" width="0.8" height="0.8" opacity="0.55"/>
<rect x="231.1" y="51.3" width="0.8" height="0.8" opacity="1.0"/>
<rect x="217.8" y="60.8" width="0.8" height="0.8" opacity="0.55"/>
<rect x="216.7" y="62.4" width="0.8" height="0.8" opacity="0.85"/>
<rect x="235.8" y="51.6" width="0.8" height="0.8" opacity="0.7"/>
<rect x="252.7" y="93.4" width="0.8" height="0.8" opacity="1.0"/>
<rect x="222.1" y="51.5" width="0.8" height="0.8" opacity="1.0"/>
<rect x="228.8" y="88.3" width="0.8" height="0.8" opacity="1.0"/>
<rect x="242.3" y="104.8" width="0.8" height="0.8" opacity="1.0"/>
<rect x="238.5" y="101.8" width="0.8" height="0.8" opacity="0.7"/>
<rect x="219.7" y="73.4" width="0.8" height="0.8" opacity="0.4"/>
<rect x="231.1" y="47.6" width="0.8" height="0.8" opacity="1.0"/>
<rect x="225.1" y="53.0" width="0.8" height="0.8" opacity="0.55"/>
<rect x="220.6" y="84.4" width="0.8" height="0.8" opacity="0.4"/>
<rect x="224.6" y="83.5" width="0.8" height="0.8" opacity="0.4"/>
<rect x="219.9" y="71.4" width="0.8" height="0.8" opacity="0.55"/>
<rect x="239.3" y="48.1" width="0.8" height="0.8" opacity="0.55"/>
<rect x="222.8" y="71.2" width="0.8" height="0.8" opacity="0.4"/>
<rect x="238.4" y="104.6" width="0.8" height="0.8" opacity="0.55"/>
<rect x="232.9" y="96.6" width="0.8" height="0.8" opacity="0.85"/>
<rect x="221.7" y="71.0" width="0.8" height="0.8" opacity="0.55"/>
<rect x="231.8" y="91.4" width="0.8" height="0.8" opacity="0.4"/>
<rect x="235.0" y="95.8" width="0.8" height="0.8" opacity="1.0"/>
<rect x="246.1" y="106.7" width="0.8" height="0.8" opacity="0.7"/>
<rect x="226.6" y="84.0" width="0.8" height="0.8" opacity="0.7"/>
<rect x="222.8" y="72.6" width="0.8" height="0.8" opacity="0.85"/>
<rect x="253.2" y="72.7" width="0.8" height="0.8" opacity="0.55"/>
<rect x="228.7" y="54.4" width="0.8" height="0.8" opacity="0.85"/>
<rect x="221.2" y="53.3" width="0.8" height="0.8" opacity="0.4"/>
<rect x="228.5" y="93.3" width="0.8" height="0.8" opacity="0.7"/>
<rect x="223.5" y="72.2" width="0.8" height="0.8" opacity="0.55"/>
<rect x="224.5" y="92.4" width="0.8" height="0.8" opacity="0.7"/>
<rect x="236.6" y="48.7" width="0.8" height="0.8" opacity="0.55"/>
<rect x="257.2" y="63.5" width="0.8" height="0.8" opacity="0.85"/>
<rect x="256.2" y="90.0" width="0.8" height="0.8" opacity="0.7"/>
<rect x="238.3" y="52.8" width="0.8" height="0.8" opacity="0.7"/>
<rect x="224.3" y="83.6" width="0.8" height="0.8" opacity="0.7"/>
<rect x="242.7" y="104.5" width="0.8" height="0.8" opacity="0.7"/>
<rect x="237.7" y="99.6" width="0.8" height="0.8" opacity="0.55"/>
<rect x="247.4" y="52.1" width="0.8" height="0.8" opacity="0.4"/>
<rect x="223.1" y="83.8" width="0.8" height="0.8" opacity="1.0"/>
<rect x="230.5" y="50.9" width="0.8" height="0.8" opacity="0.7"/>
<rect x="248.4" y="52.2" width="0.8" height="0.8" opacity="1.0"/>
<rect x="219.9" y="70.4" width="0.8" height="0.8" opacity="0.85"/>
<rect x="233.9" y="50.3" width="0.8" height="0.8" opacity="0.4"/>
<rect x="245.7" y="103.7" width="0.8" height="0.8" opacity="0.55"/>
<rect x="253.8" y="89.1" width="0.8" height="0.8" opacity="0.4"/>
<rect x="224.2" y="75.3" width="0.8" height="0.8" opacity="0.85"/>
<rect x="248.4" y="48.0" width="0.8" height="0.8" opacity="0.85"/>
<rect x="222.7" y="52.8" width="0.8" height="0.8" opacity="0.55"/>
<rect x="252.6" y="93.8" width="0.8" height="0.8" opacity="0.85"/>
<rect x="229.3" y="94.2" width="0.8" height="0.8" opacity="0.55"/>
<rect x="255.3" y="51.4" width="0.8" height="0.8" opacity="0.4"/>
<rect x="215.8" y="66.9" width="0.8" height="0.8" opacity="1.0"/>
<rect x="250.6" y="98.0" width="0.8" height="0.8" opacity="0.85"/>
<rect x="258.5" y="63.2" width="0.8" height="0.8" opacity="1.0"/>
<rect x="222.0" y="85.5" width="0.8" height="0.8" opacity="0.4"/>
<rect x="244.2" y="106.9" width="0.8" height="0.8" opacity="0.4"/>
<rect x="262.0" y="93.3" width="0.8" height="0.8" opacity="0.7"/>
<rect x="249.6" y="58.2" width="0.8" height="0.8" opacity="0.55"/>
<rect x="225.4" y="71.1" width="0.8" height="0.8" opacity="1.0"/>
<rect x="229.1" y="54.2" width="0.8" height="0.8" opacity="1.0"/>
<rect x="232.2" y="96.9" width="0.8" height="0.8" opacity="0.55"/>
<rect x="244.3" y="103.3" width="0.8" height="0.8" opacity="1.0"/>
<rect x="243.0" y="56.7" width="0.8" height="0.8" opacity="1.0"/>
<rect x="229.4" y="101.5" width="0.8" height="0.8" opacity="0.85"/>
<rect x="229.5" y="81.7" width="0.8" height="0.8" opacity="1.0"/>
<rect x="231.3" y="99.4" width="0.8" height="0.8" opacity="0.4"/>
<rect x="248.6" y="51.0" width="0.8" height="0.8" opacity="0.4"/>
<rect x="217.3" y="61.5" width="0.8" height="0.8" opacity="0.55"/>
<rect x="219.3" y="55.1" width="0.8" height="0.8" opacity="1.0"/>
<rect x="248.4" y="92.1" width="0.8" height="0.8" opacity="0.7"/>
<rect x="228.5" y="84.8" width="0.8" height="0.8" opacity="0.4"/>
<rect x="230.6" y="55.8" width="0.8" height="0.8" opacity="0.4"/>
<rect x="231.4" y="97.3" width="0.8" height="0.8" opacity="0.55"/>
<rect x="234.7" y="54.7" width="0.8" height="0.8" opacity="0.85"/>
<rect x="227.3" y="94.4" width="0.8" height="0.8" opacity="0.7"/>
<rect x="242.3" y="39.4" width="0.8" height="0.8" opacity="0.4"/>
<rect x="221.2" y="68.5" width="0.8" height="0.8" opacity="0.55"/>
<rect x="234.4" y="89.6" width="0.8" height="0.8" opacity="1.0"/>
<rect x="226.1" y="55.1" width="0.8" height="0.8" opacity="0.85"/>
<rect x="227.9" y="102.2" width="0.8" height="0.8" opacity="0.7"/>
<rect x="251.2" y="73.6" width="0.8" height="0.8" opacity="0.55"/>
<rect x="251.5" y="59.5" width="0.8" height="0.8" opacity="0.7"/>
<rect x="246.3" y="100.9" width="0.8" height="0.8" opacity="0.85"/>
<rect x="234.7" y="97.9" width="0.8" height="0.8" opacity="1.0"/>
<rect x="215.9" y="72.6" width="0.8" height="0.8" opacity="0.4"/>
<rect x="245.1" y="97.0" width="0.8" height="0.8" opacity="0.85"/>
<rect x="234.1" y="103.0" width="0.8" height="0.8" opacity="0.55"/>
<rect x="236.2" y="101.1" width="0.8" height="0.8" opacity="0.7"/>
<rect x="210.1" y="60.6" width="0.8" height="0.8" opacity="0.85"/>
<rect x="238.8" y="105.6" width="0.8" height="0.8" opacity="0.85"/>
<rect x="219.5" y="78.9" width="0.8" height="0.8" opacity="0.4"/>
<rect x="252.6" y="61.0" width="0.8" height="0.8" opacity="0.85"/>
<rect x="225.4" y="69.5" width="0.8" height="0.8" opacity="1.0"/>
<rect x="219.2" y="63.7" width="0.8" height="0.8" opacity="0.55"/>
<rect x="249.2" y="54.9" width="0.8" height="0.8" opacity="0.55"/>
<rect x="251.3" y="65.2" width="0.8" height="0.8" opacity="0.55"/>
<rect x="216.9" y="68.9" width="0.8" height="0.8" opacity="0.7"/>
<rect x="253.8" y="76.0" width="0.8" height="0.8" opacity="0.55"/>
<rect x="222.0" y="65.4" width="0.8" height="0.8" opacity="0.55"/>
<rect x="216.8" y="73.5" width="0.8" height="0.8" opacity="1.0"/>
<rect x="219.0" y="57.4" width="0.8" height="0.8" opacity="0.55"/>
<rect x="252.5" y="46.1" width="0.8" height="0.8" opacity="0.85"/>
<rect x="250.0" y="64.0" width="0.8" height="0.8" opacity="1.0"/>
<rect x="237.9" y="108.2" width="0.8" height="0.8" opacity="0.55"/>
<rect x="222.2" y="66.4" width="0.8" height="0.8" opacity="0.55"/>
<rect x="237.3" y="107.9" width="0.8" height="0.8" opacity="0.55"/>
<rect x="248.7" y="71.8" width="0.8" height="0.8" opacity="0.55"/>
<rect x="218.9" y="55.3" width="0.8" height="0.8" opacity="0.55"/>
<rect x="256.1" y="62.6" width="0.8" height="0.8" opacity="0.85"/>
<rect x="252.3" y="62.2" width="0.8" height="0.8" opacity="0.4"/>
<rect x="251.9" y="57.8" width="0.8" height="0.8" opacity="0.85"/>
<rect x="244.5" y="51.1" width="0.8" height="0.8" opacity="0.7"/>
<rect x="225.6" y="101.1" width="0.8" height="0.8" opacity="0.7"/>
<rect x="252.9" y="95.3" width="0.8" height="0.8" opacity="0.4"/>
<rect x="247.4" y="104.3" width="0.8" height="0.8" opacity="0.55"/>
<rect x="256.5" y="86.5" width="0.8" height="0.8" opacity="0.4"/>
<rect x="216.6" y="54.7" width="0.8" height="0.8" opacity="1.0"/>
<rect x="235.1" y="51.4" width="0.8" height="0.8" opacity="1.0"/>
<rect x="222.4" y="102.6" width="0.8" height="0.8" opacity="0.4"/>
<rect x="250.7" y="49.5" width="0.8" height="0.8" opacity="0.4"/>
<rect x="242.1" y="55.4" width="0.8" height="0.8" opacity="0.4"/>
<rect x="238.5" y="104.6" width="0.8" height="0.8" opacity="1.0"/>
<rect x="229.6" y="48.8" width="0.8" height="0.8" opacity="1.0"/>
<rect x="243.7" y="99.2" width="0.8" height="0.8" opacity="1.0"/>
<rect x="249.9" y="65.7" width="0.8" height="0.8" opacity="0.4"/>
<rect x="225.2" y="83.6" width="0.8" height="0.8" opacity="0.4"/>
<rect x="244.5" y="57.0" width="0.8" height="0.8" opacity="0.7"/>
<rect x="245.5" y="49.2" width="0.8" height="0.8" opacity="0.55"/>
<rect x="227.3" y="100.1" width="0.8" height="0.8" opacity="1.0"/>
<rect x="228.5" y="56.1" width="0.8" height="0.8" opacity="0.85"/>
<rect x="215.7" y="71.8" width="0.8" height="0.8" opacity="1.0"/>
<rect x="253.1" y="101.6" width="0.8" height="0.8" opacity="0.7"/>
<rect x="250.3" y="49.7" width="0.8" height="0.8" opacity="0.7"/>
<rect x="218.3" y="48.6" width="0.8" height="0.8" opacity="0.85"/>
<rect x="250.2" y="59.1" width="0.8" height="0.8" opacity="1.0"/>
<rect x="214.8" y="74.1" width="0.8" height="0.8" opacity="0.85"/>
<rect x="226.5" y="75.2" width="0.8" height="0.8" opacity="1.0"/>
<rect x="238.3" y="47.0" width="0.8" height="0.8" opacity="1.0"/>
<rect x="219.5" y="93.6" width="0.8" height="0.8" opacity="0.55"/>
<rect x="238.7" y="47.5" width="0.8" height="0.8" opacity="1.0"/>
<rect x="235.6" y="45.5" width="0.8" height="0.8" opacity="0.4"/>
<rect x="242.5" y="50.4" width="0.8" height="0.8" opacity="0.7"/>
<rect x="231.9" y="53.4" width="0.8" height="0.8" opacity="0.55"/>
<rect x="225.8" y="53.7" width="0.8" height="0.8" opacity="0.55"/>
<rect x="260.4" y="84.5" width="0.8" height="0.8" opacity="0.55"/>
<rect x="242.4" y="56.7" width="0.8" height="0.8" opacity="1.0"/>
<rect x="245.2" y="109.1" width="0.8" height="0.8" opacity="0.85"/>
<rect x="243.5" y="60.8" width="0.8" height="0.8" opacity="0.85"/>
<rect x="227.9" y="95.4" width="0.8" height="0.8" opacity="0.55"/>
<rect x="226.1" y="97.2" width="0.8" height="0.8" opacity="0.85"/>
<rect x="217.5" y="63.4" width="0.8" height="0.8" opacity="0.85"/>
<rect x="237.6" y="101.4" width="0.8" height="0.8" opacity="0.55"/>
<rect x="216.1" y="53.3" width="0.8" height="0.8" opacity="0.4"/>
<rect x="222.8" y="57.0" width="0.8" height="0.8" opacity="0.85"/>
<rect x="228.1" y="56.4" width="0.8" height="0.8" opacity="0.85"/>
<rect x="240.7" y="104.9" width="0.8" height="0.8" opacity="0.85"/>
<rect x="231.9" y="49.5" width="0.8" height="0.8" opacity="0.7"/>
<rect x="241.2" y="50.8" width="0.8" height="0.8" opacity="0.7"/>
<rect x="246.9" y="52.3" width="0.8" height="0.8" opacity="0.85"/>
<rect x="217.8" y="66.6" width="0.8" height="0.8" opacity="0.7"/>
<rect x="221.5" y="76.4" width="0.8" height="0.8" opacity="0.85"/>
<rect x="260.8" y="76.9" width="0.8" height="0.8" opacity="0.4"/>
<rect x="258.8" y="86.4" width="0.8" height="0.8" opacity="0.85"/>
<rect x="223.6" y="89.8" width="0.8" height="0.8" opacity="0.85"/>
<rect x="222.5" y="75.3" width="0.8" height="0.8" opacity="0.7"/>
<rect x="225.3" y="67.9" width="0.8" height="0.8" opacity="1.0"/>
<rect x="248.5" y="48.1" width="0.8" height="0.8" opacity="0.4"/>
<rect x="251.1" y="92.2" width="0.8" height="0.8" opacity="0.85"/>
<rect x="232.6" y="95.2" width="0.8" height="0.8" opacity="0.55"/>
<rect x="215.9" y="58.4" width="0.8" height="0.8" opacity="1.0"/>
<rect x="237.2" y="96.2" width="0.8" height="0.8" opacity="0.7"/>
<rect x="248.1" y="97.5" width="0.8" height="0.8" opacity="0.7"/>
<rect x="225.7" y="75.5" width="0.8" height="0.8" opacity="0.4"/>
<rect x="222.4" y="70.4" width="0.8" height="0.8" opacity="0.85"/>
<rect x="219.8" y="80.5" width="0.8" height="0.8" opacity="0.85"/>
<rect x="251.6" y="47.9" width="0.8" height="0.8" opacity="0.4"/>
<rect x="243.4" y="49.6" width="0.8" height="0.8" opacity="0.4"/>
<rect x="218.8" y="64.8" width="0.8" height="0.8" opacity="0.55"/>
<rect x="228.7" y="102.0" width="0.8" height="0.8" opacity="0.85"/>
<rect x="244.2" y="48.9" width="0.8" height="0.8" opacity="0.85"/>
<rect x="221.7" y="91.0" width="0.8" height="0.8" opacity="0.7"/>
<rect x="221.8" y="62.6" width="0.8" height="0.8" opacity="0.85"/>
<rect x="228.1" y="46.0" width="0.8" height="0.8" opacity="1.0"/>
<rect x="247.5" y="48.5" width="0.8" height="0.8" opacity="0.7"/>
<rect x="229.0" y="69.0" width="0.8" height="0.8" opacity="1.0"/>
<rect x="252.4" y="93.0" width="0.8" height="0.8" opacity="0.7"/>
<rect x="247.1" y="102.4" width="0.8" height="0.8" opacity="0.85"/>
<rect x="250.7" y="51.5" width="0.8" height="0.8" opacity="1.0"/>
<rect x="247.4" y="50.3" width="0.8" height="0.8" opacity="0.55"/>
<rect x="232.4" y="54.7" width="0.8" height="0.8" opacity="0.85"/>
<rect x="254.4" y="102.4" width="0.8" height="0.8" opacity="0.4"/>
<rect x="234.3" y="99.8" width="0.8" height="0.8" opacity="1.0"/>
<rect x="223.0" y="90.2" width="0.8" height="0.8" opacity="0.4"/>
<rect x="255.1" y="102.5" width="0.8" height="0.8" opacity="0.7"/>
<rect x="223.2" y="44.1" width="0.8" height="0.8" opacity="0.7"/>
<rect x="240.7" y="51.6" width="0.8" height="0.8" opacity="0.55"/>
<rect x="217.0" y="86.8" width="0.8" height="0.8" opacity="0.7"/>
<rect x="228.1" y="82.5" width="0.8" height="0.8" opacity="0.7"/>
<rect x="231.7" y="86.2" width="0.8" height="0.8" opacity="0.7"/>
<rect x="217.6" y="73.5" width="0.8" height="0.8" opacity="0.85"/>
<rect x="230.8" y="90.4" width="0.8" height="0.8" opacity="0.85"/>
<rect x="246.8" y="98.5" width="0.8" height="0.8" opacity="1.0"/>
<rect x="248.0" y="52.3" width="0.8" height="0.8" opacity="0.4"/>
<rect x="215.7" y="61.7" width="0.8" height="0.8" opacity="0.55"/>
<rect x="253.4" y="98.7" width="0.8" height="0.8" opacity="0.55"/>
<rect x="219.4" y="57.4" width="0.8" height="0.8" opacity="0.55"/>
<rect x="242.4" y="48.4" width="0.8" height="0.8" opacity="0.7"/>
<rect x="250.8" y="106.2" width="0.8" height="0.8" opacity="0.55"/>
<rect x="225.6" y="43.4" width="0.8" height="0.8" opacity="0.85"/>
<rect x="225.1" y="54.9" width="0.8" height="0.8" opacity="0.7"/>
<rect x="260.4" y="55.3" width="0.8" height="0.8" opacity="0.85"/>
<rect x="251.6" y="100.9" width="0.8" height="0.8" opacity="0.55"/>
<rect x="253.9" y="86.1" width="0.8" height="0.8" opacity="1.0"/>
<rect x="256.5" y="84.3" width="0.8" height="0.8" opacity="0.85"/>
<rect x="244.9" y="93.0" width="0.8" height="0.8" opacity="1.0"/>
<rect x="247.9" y="99.4" width="0.8" height="0.8" opacity="1.0"/>
<rect x="248.9" y="48.8" width="0.8" height="0.8" opacity="1.0"/>
<rect x="219.6" y="65.6" width="0.8" height="0.8" opacity="0.4"/>
</g>
<defs><filter id="fb2b" x="-50%" y="-50%" width="200%" height="200%"><feGaussianBlur stdDeviation="2.2"/></filter><clipPath id="fb2c"><path d="M219.4,56.2 C220.5,53.5 223,52 225.5,51.5 C228.5,50.5 231.5,49.6 234.9,49.4 C238.5,49.3 242.5,49.8 245.7,50.8 C248.5,51.8 250.8,53 252.4,54.8 C254.5,57.5 255.8,60 256.5,62.9 C257.2,67 257.2,71 257.1,75 C257,79 256.9,83 256.5,87.2 C256,90.5 255.2,93.8 253.8,96.6 C252.5,99.5 250.6,101.6 248.4,102.7 C246.2,103.8 244,104.2 241.6,104 C239,103.8 237,102.8 234.9,101.3 C232.7,99.5 231,96.8 229.5,93.9 C227.8,90.5 226.2,86.8 224.8,83.1 C223.4,79.5 222.2,75.8 221.4,72.3 C220.6,69 219.8,66 219.4,62.9 C219.1,60.5 219,58.2 219.4,56.2 Z"/></clipPath></defs><path d="M219.4,56.2 C220.5,53.5 223,52 225.5,51.5 C228.5,50.5 231.5,49.6 234.9,49.4 C238.5,49.3 242.5,49.8 245.7,50.8 C248.5,51.8 250.8,53 252.4,54.8 C254.5,57.5 255.8,60 256.5,62.9 C257.2,67 257.2,71 257.1,75 C257,79 256.9,83 256.5,87.2 C256,90.5 255.2,93.8 253.8,96.6 C252.5,99.5 250.6,101.6 248.4,102.7 C246.2,103.8 244,104.2 241.6,104 C239,103.8 237,102.8 234.9,101.3 C232.7,99.5 231,96.8 229.5,93.9 C227.8,90.5 226.2,86.8 224.8,83.1 C223.4,79.5 222.2,75.8 221.4,72.3 C220.6,69 219.8,66 219.4,62.9 C219.1,60.5 219,58.2 219.4,56.2 Z" fill="#f2f2f2"/><g clip-path="url(#fb2c)"><g filter="url(#fb2b)"><ellipse cx="240" cy="69" rx="17" ry="24" fill="#acacac" transform="rotate(0,240,69)"/><ellipse cx="240" cy="68" rx="13" ry="19" fill="#7e7e7e" transform="rotate(0,240,68)"/><ellipse cx="240" cy="66" rx="9" ry="13.5" fill="#5a5a5a" transform="rotate(0,240,66)"/><ellipse cx="240" cy="64" rx="5.5" ry="8.5" fill="#464646" transform="rotate(0,240,64)"/></g></g><g fill="none"><path d="M219.4,56.2 C220.5,53.5 223,52 225.5,51.5 C228.5,50.5 231.5,49.6 234.9,49.4 C238.5,49.3 242.5,49.8 245.7,50.8 C248.5,51.8 250.8,53 252.4,54.8 C254.5,57.5 255.8,60 256.5,62.9 C257.2,67 257.2,71 257.1,75 C257,79 256.9,83 256.5,87.2 C256,90.5 255.2,93.8 253.8,96.6 C252.5,99.5 250.6,101.6 248.4,102.7 C246.2,103.8 244,104.2 241.6,104 C239,103.8 237,102.8 234.9,101.3 C232.7,99.5 231,96.8 229.5,93.9 C227.8,90.5 226.2,86.8 224.8,83.1 C223.4,79.5 222.2,75.8 221.4,72.3 C220.6,69 219.8,66 219.4,62.9 C219.1,60.5 219,58.2 219.4,56.2 Z" stroke="#6a6a6a" stroke-width="0.55" opacity="0.85" transform="translate(242,56) scale(1.0) translate(-242,-56)"/><path d="M219.4,56.2 C220.5,53.5 223,52 225.5,51.5 C228.5,50.5 231.5,49.6 234.9,49.4 C238.5,49.3 242.5,49.8 245.7,50.8 C248.5,51.8 250.8,53 252.4,54.8 C254.5,57.5 255.8,60 256.5,62.9 C257.2,67 257.2,71 257.1,75 C257,79 256.9,83 256.5,87.2 C256,90.5 255.2,93.8 253.8,96.6 C252.5,99.5 250.6,101.6 248.4,102.7 C246.2,103.8 244,104.2 241.6,104 C239,103.8 237,102.8 234.9,101.3 C232.7,99.5 231,96.8 229.5,93.9 C227.8,90.5 226.2,86.8 224.8,83.1 C223.4,79.5 222.2,75.8 221.4,72.3 C220.6,69 219.8,66 219.4,62.9 C219.1,60.5 219,58.2 219.4,56.2 Z" stroke="#6a6a6a" stroke-width="0.55" opacity="0.85" transform="translate(242,56) scale(0.9) translate(-242,-56)"/><path d="M219.4,56.2 C220.5,53.5 223,52 225.5,51.5 C228.5,50.5 231.5,49.6 234.9,49.4 C238.5,49.3 242.5,49.8 245.7,50.8 C248.5,51.8 250.8,53 252.4,54.8 C254.5,57.5 255.8,60 256.5,62.9 C257.2,67 257.2,71 257.1,75 C257,79 256.9,83 256.5,87.2 C256,90.5 255.2,93.8 253.8,96.6 C252.5,99.5 250.6,101.6 248.4,102.7 C246.2,103.8 244,104.2 241.6,104 C239,103.8 237,102.8 234.9,101.3 C232.7,99.5 231,96.8 229.5,93.9 C227.8,90.5 226.2,86.8 224.8,83.1 C223.4,79.5 222.2,75.8 221.4,72.3 C220.6,69 219.8,66 219.4,62.9 C219.1,60.5 219,58.2 219.4,56.2 Z" stroke="#6a6a6a" stroke-width="0.55" opacity="0.85" transform="translate(242,56) scale(0.8) translate(-242,-56)"/><path d="M219.4,56.2 C220.5,53.5 223,52 225.5,51.5 C228.5,50.5 231.5,49.6 234.9,49.4 C238.5,49.3 242.5,49.8 245.7,50.8 C248.5,51.8 250.8,53 252.4,54.8 C254.5,57.5 255.8,60 256.5,62.9 C257.2,67 257.2,71 257.1,75 C257,79 256.9,83 256.5,87.2 C256,90.5 255.2,93.8 253.8,96.6 C252.5,99.5 250.6,101.6 248.4,102.7 C246.2,103.8 244,104.2 241.6,104 C239,103.8 237,102.8 234.9,101.3 C232.7,99.5 231,96.8 229.5,93.9 C227.8,90.5 226.2,86.8 224.8,83.1 C223.4,79.5 222.2,75.8 221.4,72.3 C220.6,69 219.8,66 219.4,62.9 C219.1,60.5 219,58.2 219.4,56.2 Z" stroke="#6a6a6a" stroke-width="0.55" opacity="0.85" transform="translate(242,56) scale(0.7) translate(-242,-56)"/></g>
<g clip-path="url(#fb2c)">
<rect x="233.2" y="55.5" width="0.9" height="0.9" fill="#2a2a2a" opacity="0.3"/>
<rect x="238.9" y="69.6" width="0.9" height="0.9" fill="#2a2a2a" opacity="0.3"/>
<rect x="229.7" y="63.9" width="0.9" height="0.9" fill="#2a2a2a" opacity="0.3"/>
<rect x="245.6" y="61.5" width="0.9" height="0.9" fill="#2a2a2a" opacity="0.45"/>
<rect x="235.9" y="60.0" width="0.9" height="0.9" fill="#2a2a2a" opacity="0.6"/>
<rect x="235.6" y="73.5" width="0.9" height="0.9" fill="#2a2a2a" opacity="0.3"/>
<rect x="241.1" y="75.6" width="0.9" height="0.9" fill="#2a2a2a" opacity="0.45"/>
<rect x="239.5" y="53.2" width="0.9" height="0.9" fill="#2a2a2a" opacity="0.3"/>
<rect x="224.3" y="71.2" width="0.9" height="0.9" fill="#2a2a2a" opacity="0.45"/>
<rect x="227.8" y="66.4" width="0.9" height="0.9" fill="#2a2a2a" opacity="0.45"/>
<rect x="241.1" y="61.7" width="0.9" height="0.9" fill="#2a2a2a" opacity="0.3"/>
<rect x="230.9" y="82.8" width="0.9" height="0.9" fill="#2a2a2a" opacity="0.45"/>
<rect x="254.4" y="77.7" width="0.9" height="0.9" fill="#2a2a2a" opacity="0.45"/>
<rect x="239.8" y="73.3" width="0.9" height="0.9" fill="#2a2a2a" opacity="0.45"/>
<rect x="250.6" y="81.8" width="0.9" height="0.9" fill="#2a2a2a" opacity="0.6"/>
<rect x="247.4" y="56.8" width="0.9" height="0.9" fill="#2a2a2a" opacity="0.6"/>
<rect x="245.3" y="77.2" width="0.9" height="0.9" fill="#2a2a2a" opacity="0.45"/>
<rect x="248.0" y="67.4" width="0.9" height="0.9" fill="#2a2a2a" opacity="0.6"/>
<rect x="251.3" y="58.7" width="0.9" height="0.9" fill="#2a2a2a" opacity="0.6"/>
<rect x="243.8" y="59.7" width="0.9" height="0.9" fill="#2a2a2a" opacity="0.3"/>
<rect x="250.3" y="62.8" width="0.9" height="0.9" fill="#2a2a2a" opacity="0.3"/>
<rect x="240.0" y="82.7" width="0.9" height="0.9" fill="#2a2a2a" opacity="0.3"/>
<rect x="233.2" y="55.0" width="0.9" height="0.9" fill="#2a2a2a" opacity="0.6"/>
<rect x="244.1" y="65.3" width="0.9" height="0.9" fill="#2a2a2a" opacity="0.3"/>
<rect x="248.1" y="80.5" width="0.9" height="0.9" fill="#2a2a2a" opacity="0.6"/>
<rect x="236.3" y="74.5" width="0.9" height="0.9" fill="#2a2a2a" opacity="0.3"/>
<rect x="260.5" y="52.1" width="0.9" height="0.9" fill="#2a2a2a" opacity="0.3"/>
<rect x="240.8" y="75.4" width="0.9" height="0.9" fill="#2a2a2a" opacity="0.3"/>
<rect x="239.5" y="85.1" width="0.9" height="0.9" fill="#2a2a2a" opacity="0.3"/>
<rect x="246.1" y="77.0" width="0.9" height="0.9" fill="#2a2a2a" opacity="0.3"/>
<rect x="246.7" y="59.3" width="0.9" height="0.9" fill="#2a2a2a" opacity="0.3"/>
<rect x="237.2" y="76.0" width="0.9" height="0.9" fill="#2a2a2a" opacity="0.45"/>
<rect x="241.1" y="60.1" width="0.9" height="0.9" fill="#2a2a2a" opacity="0.45"/>
<rect x="247.8" y="63.8" width="0.9" height="0.9" fill="#2a2a2a" opacity="0.6"/>
<rect x="237.1" y="67.4" width="0.9" height="0.9" fill="#2a2a2a" opacity="0.3"/>
<rect x="223.8" y="78.6" width="0.9" height="0.9" fill="#2a2a2a" opacity="0.3"/>
<rect x="239.8" y="61.8" width="0.9" height="0.9" fill="#2a2a2a" opacity="0.3"/>
<rect x="243.2" y="68.4" width="0.9" height="0.9" fill="#2a2a2a" opacity="0.3"/>
<rect x="242.9" y="38.8" width="0.9" height="0.9" fill="#2a2a2a" opacity="0.6"/>
<rect x="232.2" y="80.8" width="0.9" height="0.9" fill="#2a2a2a" opacity="0.3"/>
<rect x="241.8" y="61.9" width="0.9" height="0.9" fill="#2a2a2a" opacity="0.6"/>
<rect x="248.6" y="75.4" width="0.9" height="0.9" fill="#2a2a2a" opacity="0.45"/>
<rect x="241.8" y="62.8" width="0.9" height="0.9" fill="#2a2a2a" opacity="0.45"/>
<rect x="238.5" y="61.8" width="0.9" height="0.9" fill="#2a2a2a" opacity="0.3"/>
<rect x="236.9" y="73.9" width="0.9" height="0.9" fill="#2a2a2a" opacity="0.6"/>
<rect x="226.2" y="45.1" width="0.9" height="0.9" fill="#2a2a2a" opacity="0.45"/>
<rect x="242.7" y="62.7" width="0.9" height="0.9" fill="#2a2a2a" opacity="0.45"/>
<rect x="245.8" y="64.8" width="0.9" height="0.9" fill="#2a2a2a" opacity="0.45"/>
<rect x="244.1" y="72.2" width="0.9" height="0.9" fill="#2a2a2a" opacity="0.3"/>
<rect x="244.3" y="67.2" width="0.9" height="0.9" fill="#2a2a2a" opacity="0.6"/>
<rect x="241.1" y="67.1" width="0.9" height="0.9" fill="#2a2a2a" opacity="0.3"/>
<rect x="239.5" y="75.6" width="0.9" height="0.9" fill="#2a2a2a" opacity="0.3"/>
<rect x="246.0" y="72.5" width="0.9" height="0.9" fill="#2a2a2a" opacity="0.3"/>
<rect x="229.9" y="61.3" width="0.9" height="0.9" fill="#2a2a2a" opacity="0.3"/>
<rect x="242.2" y="73.6" width="0.9" height="0.9" fill="#2a2a2a" opacity="0.45"/>
<rect x="241.3" y="53.8" width="0.9" height="0.9" fill="#2a2a2a" opacity="0.3"/>
<rect x="244.0" y="71.1" width="0.9" height="0.9" fill="#2a2a2a" opacity="0.3"/>
<rect x="243.3" y="69.5" width="0.9" height="0.9" fill="#2a2a2a" opacity="0.45"/>
<rect x="239.1" y="56.3" width="0.9" height="0.9" fill="#2a2a2a" opacity="0.45"/>
<rect x="227.2" y="89.2" width="0.9" height="0.9" fill="#2a2a2a" opacity="0.6"/>
<rect x="242.6" y="64.8" width="0.9" height="0.9" fill="#2a2a2a" opacity="0.45"/>
<rect x="244.7" y="58.7" width="0.9" height="0.9" fill="#2a2a2a" opacity="0.45"/>
<rect x="232.4" y="69.4" width="0.9" height="0.9" fill="#2a2a2a" opacity="0.6"/>
<rect x="236.7" y="61.7" width="0.9" height="0.9" fill="#2a2a2a" opacity="0.6"/>
<rect x="245.7" y="54.8" width="0.9" height="0.9" fill="#2a2a2a" opacity="0.3"/>
<rect x="239.6" y="64.8" width="0.9" height="0.9" fill="#2a2a2a" opacity="0.6"/>
<rect x="239.3" y="80.6" width="0.9" height="0.9" fill="#2a2a2a" opacity="0.45"/>
<rect x="243.9" y="55.9" width="0.9" height="0.9" fill="#2a2a2a" opacity="0.6"/>
<rect x="243.3" y="70.0" width="0.9" height="0.9" fill="#2a2a2a" opacity="0.3"/>
<rect x="230.2" y="66.1" width="0.9" height="0.9" fill="#2a2a2a" opacity="0.3"/>
<rect x="229.0" y="80.3" width="0.9" height="0.9" fill="#2a2a2a" opacity="0.3"/>
<rect x="236.2" y="73.6" width="0.9" height="0.9" fill="#2a2a2a" opacity="0.45"/>
<rect x="255.4" y="52.0" width="0.9" height="0.9" fill="#2a2a2a" opacity="0.3"/>
<rect x="236.1" y="80.6" width="0.9" height="0.9" fill="#2a2a2a" opacity="0.6"/>
<rect x="255.6" y="70.4" width="0.9" height="0.9" fill="#2a2a2a" opacity="0.6"/>
<rect x="236.6" y="81.5" width="0.9" height="0.9" fill="#2a2a2a" opacity="0.45"/>
<rect x="238.1" y="61.1" width="0.9" height="0.9" fill="#2a2a2a" opacity="0.45"/>
<rect x="240.4" y="71.7" width="0.9" height="0.9" fill="#2a2a2a" opacity="0.45"/>
<rect x="236.8" y="64.4" width="0.9" height="0.9" fill="#2a2a2a" opacity="0.3"/>
<rect x="224.3" y="64.8" width="0.9" height="0.9" fill="#2a2a2a" opacity="0.45"/>
<rect x="233.3" y="55.9" width="0.9" height="0.9" fill="#2a2a2a" opacity="0.45"/>
<rect x="223.1" y="58.7" width="0.9" height="0.9" fill="#2a2a2a" opacity="0.45"/>
<rect x="247.4" y="68.1" width="0.9" height="0.9" fill="#2a2a2a" opacity="0.3"/>
<rect x="221.7" y="72.8" width="0.9" height="0.9" fill="#2a2a2a" opacity="0.45"/>
<rect x="234.5" y="73.0" width="0.9" height="0.9" fill="#2a2a2a" opacity="0.3"/>
<rect x="241.4" y="68.1" width="0.9" height="0.9" fill="#2a2a2a" opacity="0.6"/>
<rect x="221.9" y="70.8" width="0.9" height="0.9" fill="#2a2a2a" opacity="0.3"/>
<rect x="241.7" y="68.4" width="0.9" height="0.9" fill="#2a2a2a" opacity="0.6"/>
<rect x="237.3" y="70.5" width="0.9" height="0.9" fill="#2a2a2a" opacity="0.6"/>
<rect x="237.8" y="67.0" width="0.9" height="0.9" fill="#2a2a2a" opacity="0.45"/>
<rect x="238.5" y="66.7" width="0.9" height="0.9" fill="#2a2a2a" opacity="0.3"/>
<rect x="244.0" y="68.6" width="0.9" height="0.9" fill="#2a2a2a" opacity="0.3"/>
<rect x="235.4" y="65.2" width="0.9" height="0.9" fill="#2a2a2a" opacity="0.6"/>
<rect x="256.4" y="31.4" width="0.9" height="0.9" fill="#2a2a2a" opacity="0.6"/>
<rect x="261.0" y="60.1" width="0.9" height="0.9" fill="#2a2a2a" opacity="0.45"/>
<rect x="225.8" y="71.6" width="0.9" height="0.9" fill="#2a2a2a" opacity="0.45"/>
<rect x="237.7" y="60.8" width="0.9" height="0.9" fill="#2a2a2a" opacity="0.6"/>
<rect x="239.7" y="65.7" width="0.9" height="0.9" fill="#2a2a2a" opacity="0.3"/>
<rect x="254.2" y="58.6" width="0.9" height="0.9" fill="#2a2a2a" opacity="0.6"/>
<rect x="222.3" y="76.6" width="0.9" height="0.9" fill="#2a2a2a" opacity="0.6"/>
<rect x="235.5" y="63.8" width="0.9" height="0.9" fill="#2a2a2a" opacity="0.45"/>
<rect x="254.7" y="54.8" width="0.9" height="0.9" fill="#2a2a2a" opacity="0.6"/>
<rect x="251.2" y="71.6" width="0.9" height="0.9" fill="#2a2a2a" opacity="0.6"/>
<rect x="240.9" y="73.0" width="0.9" height="0.9" fill="#2a2a2a" opacity="0.3"/>
<rect x="254.3" y="77.1" width="0.9" height="0.9" fill="#2a2a2a" opacity="0.6"/>
<rect x="234.5" y="74.2" width="0.9" height="0.9" fill="#2a2a2a" opacity="0.3"/>
<rect x="232.5" y="88.6" width="0.9" height="0.9" fill="#2a2a2a" opacity="0.6"/>
<rect x="239.5" y="60.9" width="0.9" height="0.9" fill="#2a2a2a" opacity="0.6"/>
<rect x="234.6" y="81.4" width="0.9" height="0.9" fill="#2a2a2a" opacity="0.6"/>
<rect x="241.8" y="81.0" width="0.9" height="0.9" fill="#2a2a2a" opacity="0.45"/>
<rect x="236.5" y="79.8" width="0.9" height="0.9" fill="#2a2a2a" opacity="0.3"/>
<rect x="245.0" y="77.6" width="0.9" height="0.9" fill="#2a2a2a" opacity="0.6"/>
<rect x="230.2" y="79.9" width="0.9" height="0.9" fill="#2a2a2a" opacity="0.45"/>
<rect x="246.2" y="65.5" width="0.9" height="0.9" fill="#2a2a2a" opacity="0.6"/>
<rect x="238.8" y="71.4" width="0.9" height="0.9" fill="#2a2a2a" opacity="0.45"/>
<rect x="256.6" y="98.1" width="0.9" height="0.9" fill="#2a2a2a" opacity="0.45"/>
<rect x="251.9" y="72.1" width="0.9" height="0.9" fill="#2a2a2a" opacity="0.6"/>
<rect x="227.1" y="75.6" width="0.9" height="0.9" fill="#2a2a2a" opacity="0.3"/>
<rect x="235.0" y="66.0" width="0.9" height="0.9" fill="#2a2a2a" opacity="0.6"/>
<rect x="228.4" y="69.9" width="0.9" height="0.9" fill="#2a2a2a" opacity="0.45"/>
<rect x="246.2" y="55.6" width="0.9" height="0.9" fill="#2a2a2a" opacity="0.6"/>
<rect x="244.6" y="56.4" width="0.9" height="0.9" fill="#2a2a2a" opacity="0.3"/>
<rect x="232.4" y="76.3" width="0.9" height="0.9" fill="#2a2a2a" opacity="0.3"/>
<rect x="236.5" y="57.4" width="0.9" height="0.9" fill="#2a2a2a" opacity="0.45"/>
<rect x="257.5" y="66.4" width="0.9" height="0.9" fill="#2a2a2a" opacity="0.6"/>
<rect x="233.7" y="76.3" width="0.9" height="0.9" fill="#2a2a2a" opacity="0.3"/>
<rect x="237.0" y="86.5" width="0.9" height="0.9" fill="#2a2a2a" opacity="0.6"/>
<rect x="252.6" y="93.6" width="0.9" height="0.9" fill="#2a2a2a" opacity="0.6"/>
<rect x="238.3" y="87.7" width="0.9" height="0.9" fill="#2a2a2a" opacity="0.6"/>
<rect x="247.8" y="48.6" width="0.9" height="0.9" fill="#2a2a2a" opacity="0.3"/>
<rect x="239.8" y="78.3" width="0.9" height="0.9" fill="#2a2a2a" opacity="0.45"/>
<rect x="227.2" y="60.7" width="0.9" height="0.9" fill="#2a2a2a" opacity="0.6"/>
<rect x="236.3" y="55.3" width="0.9" height="0.9" fill="#2a2a2a" opacity="0.6"/>
<rect x="231.3" y="66.2" width="0.9" height="0.9" fill="#2a2a2a" opacity="0.3"/>
<rect x="232.4" y="80.0" width="0.9" height="0.9" fill="#2a2a2a" opacity="0.6"/>
<rect x="251.0" y="73.2" width="0.9" height="0.9" fill="#2a2a2a" opacity="0.3"/>
<rect x="240.9" y="63.3" width="0.9" height="0.9" fill="#2a2a2a" opacity="0.3"/>
<rect x="255.9" y="57.9" width="0.9" height="0.9" fill="#2a2a2a" opacity="0.45"/>
<rect x="238.4" y="80.0" width="0.9" height="0.9" fill="#2a2a2a" opacity="0.3"/>
<rect x="245.4" y="72.3" width="0.9" height="0.9" fill="#2a2a2a" opacity="0.6"/>
<rect x="219.9" y="66.7" width="0.9" height="0.9" fill="#2a2a2a" opacity="0.3"/>
<rect x="235.8" y="73.7" width="0.9" height="0.9" fill="#2a2a2a" opacity="0.3"/>
<rect x="238.0" y="52.4" width="0.9" height="0.9" fill="#2a2a2a" opacity="0.3"/>
<rect x="257.8" y="78.3" width="0.9" height="0.9" fill="#2a2a2a" opacity="0.6"/>
<rect x="245.3" y="98.4" width="0.9" height="0.9" fill="#2a2a2a" opacity="0.45"/>
<rect x="232.4" y="58.5" width="0.9" height="0.9" fill="#2a2a2a" opacity="0.45"/>
<rect x="245.6" y="61.0" width="0.9" height="0.9" fill="#2a2a2a" opacity="0.3"/>
<rect x="242.3" y="53.3" width="0.9" height="0.9" fill="#2a2a2a" opacity="0.6"/>
<rect x="238.2" y="63.4" width="0.9" height="0.9" fill="#2a2a2a" opacity="0.3"/>
<rect x="244.8" y="83.3" width="0.9" height="0.9" fill="#2a2a2a" opacity="0.6"/>
<rect x="218.8" y="72.0" width="0.9" height="0.9" fill="#2a2a2a" opacity="0.3"/>
<rect x="235.2" y="63.5" width="0.9" height="0.9" fill="#2a2a2a" opacity="0.45"/>
<rect x="227.8" y="60.2" width="0.9" height="0.9" fill="#2a2a2a" opacity="0.3"/>
<rect x="250.9" y="83.1" width="0.9" height="0.9" fill="#2a2a2a" opacity="0.45"/>
<rect x="246.5" y="49.7" width="0.9" height="0.9" fill="#2a2a2a" opacity="0.45"/>
<rect x="237.9" y="53.4" width="0.9" height="0.9" fill="#2a2a2a" opacity="0.6"/>
<rect x="242.6" y="53.4" width="0.9" height="0.9" fill="#2a2a2a" opacity="0.45"/>
<rect x="248.3" y="72.3" width="0.9" height="0.9" fill="#2a2a2a" opacity="0.6"/>
<rect x="241.3" y="58.1" width="0.9" height="0.9" fill="#2a2a2a" opacity="0.6"/>
<rect x="242.7" y="68.4" width="0.9" height="0.9" fill="#2a2a2a" opacity="0.45"/>
<rect x="238.6" y="52.7" width="0.9" height="0.9" fill="#2a2a2a" opacity="0.3"/>
<rect x="235.0" y="75.5" width="0.9" height="0.9" fill="#2a2a2a" opacity="0.3"/>
<rect x="229.0" y="63.8" width="0.9" height="0.9" fill="#2a2a2a" opacity="0.45"/>
<rect x="225.9" y="61.1" width="0.9" height="0.9" fill="#2a2a2a" opacity="0.6"/>
<rect x="238.3" y="80.2" width="0.9" height="0.9" fill="#2a2a2a" opacity="0.45"/>
<rect x="245.4" y="67.0" width="0.9" height="0.9" fill="#2a2a2a" opacity="0.6"/>
<rect x="225.7" y="66.2" width="0.9" height="0.9" fill="#2a2a2a" opacity="0.45"/>
<rect x="247.9" y="70.0" width="0.9" height="0.9" fill="#2a2a2a" opacity="0.3"/>
<rect x="247.8" y="53.6" width="0.9" height="0.9" fill="#2a2a2a" opacity="0.6"/>
<rect x="225.1" y="60.3" width="0.9" height="0.9" fill="#2a2a2a" opacity="0.6"/>
<rect x="228.2" y="75.7" width="0.9" height="0.9" fill="#2a2a2a" opacity="0.45"/>
<rect x="238.3" y="57.5" width="0.9" height="0.9" fill="#2a2a2a" opacity="0.6"/>
<rect x="241.7" y="63.9" width="0.9" height="0.9" fill="#2a2a2a" opacity="0.6"/>
<rect x="241.6" y="72.5" width="0.9" height="0.9" fill="#2a2a2a" opacity="0.6"/>
<rect x="244.6" y="63.6" width="0.9" height="0.9" fill="#2a2a2a" opacity="0.45"/>
<rect x="251.7" y="71.1" width="0.9" height="0.9" fill="#2a2a2a" opacity="0.45"/>
<rect x="247.9" y="90.6" width="0.9" height="0.9" fill="#2a2a2a" opacity="0.45"/>
<rect x="242.2" y="80.3" width="0.9" height="0.9" fill="#2a2a2a" opacity="0.3"/>
<rect x="237.7" y="83.1" width="0.9" height="0.9" fill="#2a2a2a" opacity="0.45"/>
<rect x="235.3" y="59.6" width="0.9" height="0.9" fill="#2a2a2a" opacity="0.3"/>
<rect x="230.2" y="70.8" width="0.9" height="0.9" fill="#2a2a2a" opacity="0.6"/>
<rect x="223.9" y="47.2" width="0.9" height="0.9" fill="#2a2a2a" opacity="0.45"/>
<rect x="243.3" y="69.8" width="0.9" height="0.9" fill="#2a2a2a" opacity="0.3"/>
<rect x="233.6" y="79.3" width="0.9" height="0.9" fill="#2a2a2a" opacity="0.6"/>
<rect x="240.1" y="59.0" width="0.9" height="0.9" fill="#2a2a2a" opacity="0.3"/>
<rect x="244.7" y="47.1" width="0.9" height="0.9" fill="#2a2a2a" opacity="0.45"/>
<rect x="247.5" y="80.1" width="0.9" height="0.9" fill="#2a2a2a" opacity="0.6"/>
<rect x="240.1" y="62.4" width="0.9" height="0.9" fill="#2a2a2a" opacity="0.3"/>
<rect x="236.2" y="56.6" width="0.9" height="0.9" fill="#2a2a2a" opacity="0.6"/>
<rect x="241.0" y="53.3" width="0.9" height="0.9" fill="#2a2a2a" opacity="0.6"/>
<rect x="246.4" y="72.7" width="0.9" height="0.9" fill="#2a2a2a" opacity="0.45"/>
<rect x="242.3" y="69.9" width="0.9" height="0.9" fill="#2a2a2a" opacity="0.45"/>
<rect x="242.4" y="45.3" width="0.9" height="0.9" fill="#2a2a2a" opacity="0.45"/>
<rect x="230.6" y="99.1" width="0.9" height="0.9" fill="#2a2a2a" opacity="0.45"/>
<rect x="255.8" y="69.9" width="0.9" height="0.9" fill="#2a2a2a" opacity="0.3"/>
<rect x="236.3" y="54.9" width="0.9" height="0.9" fill="#2a2a2a" opacity="0.45"/>
<rect x="255.8" y="61.8" width="0.9" height="0.9" fill="#2a2a2a" opacity="0.3"/>
<rect x="240.9" y="64.9" width="0.9" height="0.9" fill="#2a2a2a" opacity="0.3"/>
<rect x="242.8" y="77.0" width="0.9" height="0.9" fill="#2a2a2a" opacity="0.45"/>
<rect x="231.7" y="56.8" width="0.9" height="0.9" fill="#2a2a2a" opacity="0.45"/>
<rect x="246.8" y="78.1" width="0.9" height="0.9" fill="#2a2a2a" opacity="0.6"/>
<rect x="233.9" y="64.4" width="0.9" height="0.9" fill="#2a2a2a" opacity="0.3"/>
<rect x="238.4" y="78.4" width="0.9" height="0.9" fill="#2a2a2a" opacity="0.6"/>
<rect x="244.8" y="60.6" width="0.9" height="0.9" fill="#2a2a2a" opacity="0.6"/>
<rect x="238.6" y="64.4" width="0.9" height="0.9" fill="#2a2a2a" opacity="0.3"/>
<rect x="242.9" y="82.4" width="0.9" height="0.9" fill="#2a2a2a" opacity="0.6"/>
<rect x="240.3" y="63.3" width="0.9" height="0.9" fill="#2a2a2a" opacity="0.3"/>
<rect x="230.3" y="68.1" width="0.9" height="0.9" fill="#2a2a2a" opacity="0.6"/>
<rect x="241.5" y="73.7" width="0.9" height="0.9" fill="#2a2a2a" opacity="0.45"/>
<rect x="240.9" y="70.3" width="0.9" height="0.9" fill="#2a2a2a" opacity="0.3"/>
<rect x="238.6" y="64.9" width="0.9" height="0.9" fill="#2a2a2a" opacity="0.3"/>
<rect x="249.9" y="65.3" width="0.9" height="0.9" fill="#2a2a2a" opacity="0.45"/>
<rect x="246.9" y="75.1" width="0.9" height="0.9" fill="#2a2a2a" opacity="0.45"/>
<rect x="239.4" y="64.1" width="0.9" height="0.9" fill="#2a2a2a" opacity="0.6"/>
<rect x="237.6" y="66.9" width="0.9" height="0.9" fill="#2a2a2a" opacity="0.6"/>
<rect x="233.5" y="62.1" width="0.9" height="0.9" fill="#2a2a2a" opacity="0.45"/>
<rect x="252.8" y="60.0" width="0.9" height="0.9" fill="#2a2a2a" opacity="0.6"/>
<rect x="244.2" y="58.0" width="0.9" height="0.9" fill="#2a2a2a" opacity="0.6"/>
<rect x="251.2" y="72.4" width="0.9" height="0.9" fill="#2a2a2a" opacity="0.6"/>
<rect x="252.8" y="70.7" width="0.9" height="0.9" fill="#2a2a2a" opacity="0.3"/>
<rect x="249.5" y="66.1" width="0.9" height="0.9" fill="#2a2a2a" opacity="0.45"/>
<rect x="244.7" y="67.9" width="0.9" height="0.9" fill="#2a2a2a" opacity="0.6"/>
<rect x="243.8" y="65.9" width="0.9" height="0.9" fill="#2a2a2a" opacity="0.6"/>
<rect x="234.8" y="55.7" width="0.9" height="0.9" fill="#2a2a2a" opacity="0.3"/>
<rect x="228.1" y="77.4" width="0.9" height="0.9" fill="#2a2a2a" opacity="0.3"/>
<rect x="244.3" y="92.9" width="0.9" height="0.9" fill="#2a2a2a" opacity="0.3"/>
<rect x="241.7" y="78.0" width="0.9" height="0.9" fill="#2a2a2a" opacity="0.3"/>
<rect x="232.3" y="60.7" width="0.9" height="0.9" fill="#2a2a2a" opacity="0.3"/>
<rect x="238.5" y="60.5" width="0.9" height="0.9" fill="#2a2a2a" opacity="0.6"/>
<rect x="236.7" y="67.5" width="0.9" height="0.9" fill="#2a2a2a" opacity="0.45"/>
<rect x="246.4" y="64.2" width="0.9" height="0.9" fill="#2a2a2a" opacity="0.6"/>
<rect x="247.4" y="69.9" width="0.9" height="0.9" fill="#2a2a2a" opacity="0.6"/>
<rect x="246.2" y="50.4" width="0.9" height="0.9" fill="#2a2a2a" opacity="0.6"/>
<rect x="240.7" y="79.8" width="0.9" height="0.9" fill="#2a2a2a" opacity="0.3"/>
<rect x="259.2" y="61.8" width="0.9" height="0.9" fill="#2a2a2a" opacity="0.45"/>
<rect x="238.6" y="66.6" width="0.9" height="0.9" fill="#2a2a2a" opacity="0.45"/>
<rect x="247.7" y="50.3" width="0.9" height="0.9" fill="#2a2a2a" opacity="0.45"/>
<rect x="246.0" y="63.2" width="0.9" height="0.9" fill="#2a2a2a" opacity="0.45"/>
<rect x="234.4" y="55.7" width="0.9" height="0.9" fill="#2a2a2a" opacity="0.3"/>
<rect x="241.3" y="67.4" width="0.9" height="0.9" fill="#2a2a2a" opacity="0.45"/>
<rect x="232.2" y="58.7" width="0.9" height="0.9" fill="#2a2a2a" opacity="0.3"/>
<rect x="254.1" y="79.0" width="0.9" height="0.9" fill="#2a2a2a" opacity="0.3"/>
<rect x="246.5" y="72.8" width="0.9" height="0.9" fill="#2a2a2a" opacity="0.6"/>
<rect x="252.6" y="58.3" width="0.9" height="0.9" fill="#2a2a2a" opacity="0.3"/>
<rect x="221.6" y="58.2" width="0.9" height="0.9" fill="#2a2a2a" opacity="0.6"/>
<rect x="246.4" y="74.3" width="0.9" height="0.9" fill="#2a2a2a" opacity="0.3"/>
<rect x="229.6" y="75.9" width="0.9" height="0.9" fill="#2a2a2a" opacity="0.3"/>
<rect x="241.6" y="55.3" width="0.9" height="0.9" fill="#2a2a2a" opacity="0.6"/>
<rect x="240.7" y="53.3" width="0.9" height="0.9" fill="#2a2a2a" opacity="0.45"/>
<rect x="232.4" y="77.8" width="0.9" height="0.9" fill="#2a2a2a" opacity="0.6"/>
<rect x="224.0" y="61.5" width="0.9" height="0.9" fill="#2a2a2a" opacity="0.6"/>
<rect x="245.4" y="83.7" width="0.9" height="0.9" fill="#2a2a2a" opacity="0.3"/>
<rect x="224.3" y="69.7" width="0.9" height="0.9" fill="#2a2a2a" opacity="0.3"/>
<rect x="242.9" y="81.6" width="0.9" height="0.9" fill="#2a2a2a" opacity="0.6"/>
<rect x="240.4" y="78.4" width="0.9" height="0.9" fill="#2a2a2a" opacity="0.45"/>
<rect x="233.5" y="74.2" width="0.9" height="0.9" fill="#2a2a2a" opacity="0.3"/>
<rect x="246.1" y="58.8" width="0.9" height="0.9" fill="#2a2a2a" opacity="0.45"/>
<rect x="232.4" y="79.4" width="0.9" height="0.9" fill="#2a2a2a" opacity="0.45"/>
<rect x="240.7" y="59.4" width="0.9" height="0.9" fill="#2a2a2a" opacity="0.45"/>
<rect x="237.6" y="80.4" width="0.9" height="0.9" fill="#2a2a2a" opacity="0.3"/>
<rect x="240.8" y="70.9" width="0.9" height="0.9" fill="#2a2a2a" opacity="0.3"/>
<rect x="228.7" y="86.7" width="0.9" height="0.9" fill="#2a2a2a" opacity="0.3"/>
<rect x="237.7" y="66.7" width="0.9" height="0.9" fill="#2a2a2a" opacity="0.45"/>
<rect x="246.2" y="62.2" width="0.9" height="0.9" fill="#2a2a2a" opacity="0.6"/>
<rect x="234.0" y="89.4" width="0.9" height="0.9" fill="#2a2a2a" opacity="0.45"/>
<rect x="225.8" y="59.5" width="0.9" height="0.9" fill="#2a2a2a" opacity="0.3"/>
<rect x="247.4" y="75.7" width="0.9" height="0.9" fill="#2a2a2a" opacity="0.6"/>
<rect x="228.3" y="55.4" width="0.9" height="0.9" fill="#2a2a2a" opacity="0.45"/>
<rect x="235.2" y="83.9" width="0.9" height="0.9" fill="#2a2a2a" opacity="0.6"/>
<rect x="245.8" y="84.3" width="0.9" height="0.9" fill="#2a2a2a" opacity="0.6"/>
<rect x="242.1" y="73.4" width="0.9" height="0.9" fill="#2a2a2a" opacity="0.6"/>
<rect x="239.8" y="60.7" width="0.9" height="0.9" fill="#2a2a2a" opacity="0.6"/>
<rect x="234.3" y="71.5" width="0.9" height="0.9" fill="#2a2a2a" opacity="0.45"/>
<rect x="240.9" y="53.9" width="0.9" height="0.9" fill="#2a2a2a" opacity="0.6"/>
<rect x="249.7" y="68.8" width="0.9" height="0.9" fill="#2a2a2a" opacity="0.3"/>
<rect x="234.3" y="59.8" width="0.9" height="0.9" fill="#2a2a2a" opacity="0.45"/>
<rect x="251.2" y="74.9" width="0.9" height="0.9" fill="#2a2a2a" opacity="0.3"/>
<rect x="247.5" y="85.3" width="0.9" height="0.9" fill="#2a2a2a" opacity="0.3"/>
<rect x="252.9" y="68.3" width="0.9" height="0.9" fill="#2a2a2a" opacity="0.6"/>
<rect x="247.6" y="66.0" width="0.9" height="0.9" fill="#2a2a2a" opacity="0.6"/>
<rect x="259.4" y="73.4" width="0.9" height="0.9" fill="#2a2a2a" opacity="0.3"/>
<rect x="251.1" y="74.6" width="0.9" height="0.9" fill="#2a2a2a" opacity="0.3"/>
<rect x="247.1" y="82.6" width="0.9" height="0.9" fill="#2a2a2a" opacity="0.3"/>
<rect x="238.2" y="59.8" width="0.9" height="0.9" fill="#2a2a2a" opacity="0.45"/>
<rect x="247.8" y="73.3" width="0.9" height="0.9" fill="#2a2a2a" opacity="0.45"/>
<rect x="236.4" y="68.9" width="0.9" height="0.9" fill="#2a2a2a" opacity="0.6"/>
<rect x="242.7" y="61.4" width="0.9" height="0.9" fill="#2a2a2a" opacity="0.3"/>
<rect x="248.1" y="58.3" width="0.9" height="0.9" fill="#2a2a2a" opacity="0.6"/>
<rect x="243.1" y="73.4" width="0.9" height="0.9" fill="#2a2a2a" opacity="0.3"/>
<rect x="241.0" y="74.1" width="0.9" height="0.9" fill="#2a2a2a" opacity="0.6"/>
<rect x="243.0" y="67.6" width="0.9" height="0.9" fill="#2a2a2a" opacity="0.45"/>
<rect x="226.6" y="57.8" width="0.9" height="0.9" fill="#2a2a2a" opacity="0.3"/>
<rect x="235.8" y="74.0" width="0.9" height="0.9" fill="#2a2a2a" opacity="0.45"/>
<rect x="236.0" y="61.0" width="0.9" height="0.9" fill="#2a2a2a" opacity="0.6"/>
<rect x="250.0" y="61.6" width="0.9" height="0.9" fill="#2a2a2a" opacity="0.6"/>
<rect x="239.6" y="74.8" width="0.9" height="0.9" fill="#2a2a2a" opacity="0.3"/>
<rect x="248.7" y="83.3" width="0.9" height="0.9" fill="#2a2a2a" opacity="0.45"/>
<rect x="238.4" y="57.4" width="0.9" height="0.9" fill="#2a2a2a" opacity="0.45"/>
<rect x="229.8" y="65.7" width="0.9" height="0.9" fill="#2a2a2a" opacity="0.3"/>
<rect x="244.6" y="66.8" width="0.9" height="0.9" fill="#2a2a2a" opacity="0.6"/>
<rect x="237.1" y="54.9" width="0.9" height="0.9" fill="#2a2a2a" opacity="0.3"/>
<rect x="242.0" y="90.2" width="0.9" height="0.9" fill="#2a2a2a" opacity="0.45"/>
<rect x="240.0" y="66.1" width="0.9" height="0.9" fill="#2a2a2a" opacity="0.45"/>
<rect x="238.6" y="85.3" width="0.9" height="0.9" fill="#2a2a2a" opacity="0.6"/>
<rect x="237.3" y="63.1" width="0.9" height="0.9" fill="#2a2a2a" opacity="0.6"/>
<rect x="248.7" y="64.0" width="0.9" height="0.9" fill="#2a2a2a" opacity="0.45"/>
<rect x="229.8" y="66.3" width="0.9" height="0.9" fill="#2a2a2a" opacity="0.45"/>
<rect x="253.3" y="76.0" width="0.9" height="0.9" fill="#2a2a2a" opacity="0.3"/>
<rect x="235.8" y="83.3" width="0.9" height="0.9" fill="#2a2a2a" opacity="0.45"/>
<rect x="242.3" y="64.2" width="0.9" height="0.9" fill="#2a2a2a" opacity="0.45"/>
<rect x="240.2" y="86.8" width="0.9" height="0.9" fill="#2a2a2a" opacity="0.6"/>
<rect x="242.7" y="77.4" width="0.9" height="0.9" fill="#2a2a2a" opacity="0.45"/>
<rect x="228.3" y="59.0" width="0.9" height="0.9" fill="#2a2a2a" opacity="0.6"/>
<rect x="250.9" y="63.9" width="0.9" height="0.9" fill="#2a2a2a" opacity="0.6"/>
<rect x="234.4" y="66.6" width="0.9" height="0.9" fill="#2a2a2a" opacity="0.45"/>
<rect x="235.3" y="67.2" width="0.9" height="0.9" fill="#2a2a2a" opacity="0.45"/>
<rect x="236.0" y="51.1" width="0.9" height="0.9" fill="#2a2a2a" opacity="0.6"/>
<rect x="236.7" y="61.7" width="0.9" height="0.9" fill="#2a2a2a" opacity="0.6"/>
<rect x="248.7" y="67.5" width="0.9" height="0.9" fill="#2a2a2a" opacity="0.45"/>
<rect x="242.5" y="78.9" width="0.9" height="0.9" fill="#2a2a2a" opacity="0.3"/>
<rect x="238.1" y="78.8" width="0.9" height="0.9" fill="#fff" opacity="0.3"/>
<rect x="254.0" y="71.0" width="0.9" height="0.9" fill="#fff" opacity="0.5"/>
<rect x="244.2" y="60.7" width="0.9" height="0.9" fill="#fff" opacity="0.5"/>
<rect x="233.9" y="75.7" width="0.9" height="0.9" fill="#fff" opacity="0.5"/>
<rect x="238.4" y="62.2" width="0.9" height="0.9" fill="#fff" opacity="0.3"/>
<rect x="238.7" y="55.8" width="0.9" height="0.9" fill="#fff" opacity="0.3"/>
<rect x="242.7" y="59.5" width="0.9" height="0.9" fill="#fff" opacity="0.3"/>
<rect x="240.3" y="49.7" width="0.9" height="0.9" fill="#fff" opacity="0.3"/>
<rect x="239.7" y="63.8" width="0.9" height="0.9" fill="#fff" opacity="0.3"/>
<rect x="229.3" y="58.8" width="0.9" height="0.9" fill="#fff" opacity="0.5"/>
<rect x="242.2" y="88.8" width="0.9" height="0.9" fill="#fff" opacity="0.5"/>
<rect x="236.0" y="64.7" width="0.9" height="0.9" fill="#fff" opacity="0.3"/>
<rect x="242.8" y="64.7" width="0.9" height="0.9" fill="#fff" opacity="0.3"/>
<rect x="248.8" y="77.9" width="0.9" height="0.9" fill="#fff" opacity="0.5"/>
<rect x="243.2" y="63.3" width="0.9" height="0.9" fill="#fff" opacity="0.5"/>
<rect x="240.1" y="52.6" width="0.9" height="0.9" fill="#fff" opacity="0.3"/>
<rect x="234.1" y="59.7" width="0.9" height="0.9" fill="#fff" opacity="0.5"/>
<rect x="232.0" y="107.2" width="0.9" height="0.9" fill="#fff" opacity="0.5"/>
<rect x="252.9" y="43.6" width="0.9" height="0.9" fill="#fff" opacity="0.3"/>
<rect x="250.1" y="97.5" width="0.9" height="0.9" fill="#fff" opacity="0.3"/>
<rect x="238.2" y="77.3" width="0.9" height="0.9" fill="#fff" opacity="0.5"/>
<rect x="238.7" y="63.5" width="0.9" height="0.9" fill="#fff" opacity="0.5"/>
<rect x="247.6" y="57.2" width="0.9" height="0.9" fill="#fff" opacity="0.5"/>
<rect x="238.0" y="72.2" width="0.9" height="0.9" fill="#fff" opacity="0.5"/>
<rect x="238.7" y="75.6" width="0.9" height="0.9" fill="#fff" opacity="0.3"/>
<rect x="233.5" y="56.6" width="0.9" height="0.9" fill="#fff" opacity="0.3"/>
<rect x="243.6" y="64.2" width="0.9" height="0.9" fill="#fff" opacity="0.5"/>
<rect x="255.5" y="69.2" width="0.9" height="0.9" fill="#fff" opacity="0.5"/>
<rect x="246.8" y="66.6" width="0.9" height="0.9" fill="#fff" opacity="0.3"/>
<rect x="243.1" y="60.6" width="0.9" height="0.9" fill="#fff" opacity="0.3"/>
<rect x="227.6" y="54.5" width="0.9" height="0.9" fill="#fff" opacity="0.3"/>
<rect x="244.2" y="55.2" width="0.9" height="0.9" fill="#fff" opacity="0.3"/>
<rect x="248.1" y="79.9" width="0.9" height="0.9" fill="#fff" opacity="0.3"/>
<rect x="232.4" y="59.6" width="0.9" height="0.9" fill="#fff" opacity="0.3"/>
<rect x="236.1" y="59.5" width="0.9" height="0.9" fill="#fff" opacity="0.5"/>
<rect x="242.2" y="68.7" width="0.9" height="0.9" fill="#fff" opacity="0.5"/>
<rect x="243.2" y="91.0" width="0.9" height="0.9" fill="#fff" opacity="0.3"/>
<rect x="232.8" y="61.1" width="0.9" height="0.9" fill="#fff" opacity="0.3"/>
<rect x="240.0" y="57.8" width="0.9" height="0.9" fill="#fff" opacity="0.5"/>
<rect x="241.1" y="79.4" width="0.9" height="0.9" fill="#fff" opacity="0.3"/>
<rect x="221.5" y="89.0" width="0.9" height="0.9" fill="#fff" opacity="0.3"/>
<rect x="255.5" y="75.6" width="0.9" height="0.9" fill="#fff" opacity="0.3"/>
<rect x="232.2" y="60.1" width="0.9" height="0.9" fill="#fff" opacity="0.5"/>
<rect x="238.3" y="80.1" width="0.9" height="0.9" fill="#fff" opacity="0.3"/>
<rect x="232.3" y="69.9" width="0.9" height="0.9" fill="#fff" opacity="0.3"/>
<rect x="242.4" y="79.7" width="0.9" height="0.9" fill="#fff" opacity="0.3"/>
<rect x="230.8" y="70.3" width="0.9" height="0.9" fill="#fff" opacity="0.5"/>
<rect x="247.1" y="58.0" width="0.9" height="0.9" fill="#fff" opacity="0.3"/>
<rect x="238.3" y="62.0" width="0.9" height="0.9" fill="#fff" opacity="0.5"/>
<rect x="234.4" y="71.8" width="0.9" height="0.9" fill="#fff" opacity="0.3"/>
<rect x="233.3" y="67.5" width="0.9" height="0.9" fill="#fff" opacity="0.3"/>
<rect x="239.2" y="56.5" width="0.9" height="0.9" fill="#fff" opacity="0.5"/>
<rect x="246.1" y="80.1" width="0.9" height="0.9" fill="#fff" opacity="0.5"/>
<rect x="236.2" y="66.3" width="0.9" height="0.9" fill="#fff" opacity="0.5"/>
<rect x="236.9" y="55.3" width="0.9" height="0.9" fill="#fff" opacity="0.5"/>
<rect x="233.0" y="70.9" width="0.9" height="0.9" fill="#fff" opacity="0.5"/>
<rect x="254.0" y="51.9" width="0.9" height="0.9" fill="#fff" opacity="0.5"/>
<rect x="243.5" y="76.4" width="0.9" height="0.9" fill="#fff" opacity="0.3"/>
<rect x="246.5" y="70.3" width="0.9" height="0.9" fill="#fff" opacity="0.3"/>
<rect x="235.3" y="56.0" width="0.9" height="0.9" fill="#fff" opacity="0.5"/>
<rect x="241.1" y="76.5" width="0.9" height="0.9" fill="#fff" opacity="0.3"/>
<rect x="239.2" y="69.1" width="0.9" height="0.9" fill="#fff" opacity="0.3"/>
<rect x="240.4" y="44.4" width="0.9" height="0.9" fill="#fff" opacity="0.5"/>
<rect x="244.9" y="62.1" width="0.9" height="0.9" fill="#fff" opacity="0.5"/>
<rect x="252.6" y="89.8" width="0.9" height="0.9" fill="#fff" opacity="0.3"/>
<rect x="237.5" y="65.9" width="0.9" height="0.9" fill="#fff" opacity="0.5"/>
<rect x="247.5" y="55.4" width="0.9" height="0.9" fill="#fff" opacity="0.3"/>
<rect x="231.5" y="56.3" width="0.9" height="0.9" fill="#fff" opacity="0.3"/>
<rect x="239.7" y="46.9" width="0.9" height="0.9" fill="#fff" opacity="0.3"/>
<rect x="242.5" y="74.4" width="0.9" height="0.9" fill="#fff" opacity="0.3"/>
<rect x="247.5" y="52.7" width="0.9" height="0.9" fill="#fff" opacity="0.3"/>
<rect x="241.9" y="73.3" width="0.9" height="0.9" fill="#fff" opacity="0.3"/>
<rect x="235.3" y="95.5" width="0.9" height="0.9" fill="#fff" opacity="0.3"/>
<rect x="238.3" y="63.0" width="0.9" height="0.9" fill="#fff" opacity="0.5"/>
<rect x="251.5" y="78.3" width="0.9" height="0.9" fill="#fff" opacity="0.5"/>
<rect x="242.2" y="57.5" width="0.9" height="0.9" fill="#fff" opacity="0.3"/>
<rect x="249.8" y="70.3" width="0.9" height="0.9" fill="#fff" opacity="0.3"/>
<rect x="226.4" y="66.2" width="0.9" height="0.9" fill="#fff" opacity="0.3"/>
<rect x="231.3" y="78.8" width="0.9" height="0.9" fill="#fff" opacity="0.3"/>
<rect x="247.2" y="81.6" width="0.9" height="0.9" fill="#fff" opacity="0.3"/>
<rect x="229.1" y="57.3" width="0.9" height="0.9" fill="#fff" opacity="0.3"/>
<rect x="241.2" y="49.6" width="0.9" height="0.9" fill="#fff" opacity="0.3"/>
<rect x="240.8" y="70.1" width="0.9" height="0.9" fill="#fff" opacity="0.5"/>
<rect x="239.6" y="65.6" width="0.9" height="0.9" fill="#fff" opacity="0.5"/>
<rect x="243.1" y="63.0" width="0.9" height="0.9" fill="#fff" opacity="0.5"/>
<rect x="250.3" y="59.8" width="0.9" height="0.9" fill="#fff" opacity="0.5"/>
<rect x="241.1" y="54.3" width="0.9" height="0.9" fill="#fff" opacity="0.3"/>
<rect x="243.6" y="78.9" width="0.9" height="0.9" fill="#fff" opacity="0.3"/>
<rect x="235.9" y="76.5" width="0.9" height="0.9" fill="#fff" opacity="0.3"/>
<rect x="249.0" y="51.7" width="0.9" height="0.9" fill="#fff" opacity="0.3"/>
</g>
<rect x="172.5" y="33" width="100" height="99.5" fill="none" stroke="#111" stroke-width="1.1"/>
<line x1="169.3" y1="41.9" x2="172.5" y2="41.9" stroke="#111" stroke-width="0.8"/>
<line x1="169.3" y1="66.3" x2="172.5" y2="66.3" stroke="#111" stroke-width="0.8"/>
<line x1="169.3" y1="93.1" x2="172.5" y2="93.1" stroke="#111" stroke-width="0.8"/>
<line x1="169.3" y1="126.2" x2="172.5" y2="126.2" stroke="#111" stroke-width="0.8"/>
<line x1="170.7" y1="39.37" x2="172.5" y2="39.37" stroke="#333" stroke-width="0.55"/>
<line x1="170.7" y1="37.89" x2="172.5" y2="37.89" stroke="#333" stroke-width="0.55"/>
<line x1="170.7" y1="36.84" x2="172.5" y2="36.84" stroke="#333" stroke-width="0.55"/>
<line x1="170.7" y1="36.03" x2="172.5" y2="36.03" stroke="#333" stroke-width="0.55"/>
<line x1="170.7" y1="35.36" x2="172.5" y2="35.36" stroke="#333" stroke-width="0.55"/>
<line x1="170.7" y1="34.80" x2="172.5" y2="34.80" stroke="#333" stroke-width="0.55"/>
<line x1="170.7" y1="34.31" x2="172.5" y2="34.31" stroke="#333" stroke-width="0.55"/>
<line x1="170.7" y1="33.88" x2="172.5" y2="33.88" stroke="#333" stroke-width="0.55"/>
<line x1="170.7" y1="58.95" x2="172.5" y2="58.95" stroke="#333" stroke-width="0.55"/>
<line x1="170.7" y1="54.66" x2="172.5" y2="54.66" stroke="#333" stroke-width="0.55"/>
<line x1="170.7" y1="51.61" x2="172.5" y2="51.61" stroke="#333" stroke-width="0.55"/>
<line x1="170.7" y1="49.25" x2="172.5" y2="49.25" stroke="#333" stroke-width="0.55"/>
<line x1="170.7" y1="47.31" x2="172.5" y2="47.31" stroke="#333" stroke-width="0.55"/>
<line x1="170.7" y1="45.68" x2="172.5" y2="45.68" stroke="#333" stroke-width="0.55"/>
<line x1="170.7" y1="44.26" x2="172.5" y2="44.26" stroke="#333" stroke-width="0.55"/>
<line x1="170.7" y1="43.02" x2="172.5" y2="43.02" stroke="#333" stroke-width="0.55"/>
<line x1="170.7" y1="85.03" x2="172.5" y2="85.03" stroke="#333" stroke-width="0.55"/>
<line x1="170.7" y1="80.31" x2="172.5" y2="80.31" stroke="#333" stroke-width="0.55"/>
<line x1="170.7" y1="76.96" x2="172.5" y2="76.96" stroke="#333" stroke-width="0.55"/>
<line x1="170.7" y1="74.37" x2="172.5" y2="74.37" stroke="#333" stroke-width="0.55"/>
<line x1="170.7" y1="72.25" x2="172.5" y2="72.25" stroke="#333" stroke-width="0.55"/>
<line x1="170.7" y1="70.45" x2="172.5" y2="70.45" stroke="#333" stroke-width="0.55"/>
<line x1="170.7" y1="68.90" x2="172.5" y2="68.90" stroke="#333" stroke-width="0.55"/>
<line x1="170.7" y1="67.53" x2="172.5" y2="67.53" stroke="#333" stroke-width="0.55"/>
<line x1="170.7" y1="116.24" x2="172.5" y2="116.24" stroke="#333" stroke-width="0.55"/>
<line x1="170.7" y1="110.41" x2="172.5" y2="110.41" stroke="#333" stroke-width="0.55"/>
<line x1="170.7" y1="106.27" x2="172.5" y2="106.27" stroke="#333" stroke-width="0.55"/>
<line x1="170.7" y1="103.06" x2="172.5" y2="103.06" stroke="#333" stroke-width="0.55"/>
<line x1="170.7" y1="100.44" x2="172.5" y2="100.44" stroke="#333" stroke-width="0.55"/>
<line x1="170.7" y1="98.23" x2="172.5" y2="98.23" stroke="#333" stroke-width="0.55"/>
<line x1="170.7" y1="96.31" x2="172.5" y2="96.31" stroke="#333" stroke-width="0.55"/>
<line x1="170.7" y1="94.61" x2="172.5" y2="94.61" stroke="#333" stroke-width="0.55"/>
<line x1="169.9" y1="108.6" x2="172.5" y2="108.6" stroke="#222" stroke-width="0.6"/>
<line x1="169.9" y1="109.4" x2="172.5" y2="109.4" stroke="#222" stroke-width="0.6"/>
<line x1="169.9" y1="110.2" x2="172.5" y2="110.2" stroke="#222" stroke-width="0.6"/>
<line x1="169.9" y1="111.0" x2="172.5" y2="111.0" stroke="#222" stroke-width="0.6"/>
<line x1="169.9" y1="111.8" x2="172.5" y2="111.8" stroke="#222" stroke-width="0.6"/>
<line x1="194.0" y1="132.5" x2="194.0" y2="135.7" stroke="#111" stroke-width="0.8"/>
<line x1="212.0" y1="132.5" x2="212.0" y2="135.7" stroke="#111" stroke-width="0.8"/>
<line x1="240.0" y1="132.5" x2="240.0" y2="135.7" stroke="#111" stroke-width="0.8"/>
<line x1="268.5" y1="132.5" x2="268.5" y2="135.7" stroke="#111" stroke-width="0.8"/>
<line x1="180.37" y1="132.5" x2="180.37" y2="134.5" stroke="#333" stroke-width="0.55"/>
<line x1="183.80" y1="132.5" x2="183.80" y2="134.5" stroke="#333" stroke-width="0.55"/>
<line x1="186.24" y1="132.5" x2="186.24" y2="134.5" stroke="#333" stroke-width="0.55"/>
<line x1="188.13" y1="132.5" x2="188.13" y2="134.5" stroke="#333" stroke-width="0.55"/>
<line x1="189.67" y1="132.5" x2="189.67" y2="134.5" stroke="#333" stroke-width="0.55"/>
<line x1="190.98" y1="132.5" x2="190.98" y2="134.5" stroke="#333" stroke-width="0.55"/>
<line x1="192.11" y1="132.5" x2="192.11" y2="134.5" stroke="#333" stroke-width="0.55"/>
<line x1="193.11" y1="132.5" x2="193.11" y2="134.5" stroke="#333" stroke-width="0.55"/>
<line x1="199.42" y1="132.5" x2="199.42" y2="134.5" stroke="#333" stroke-width="0.55"/>
<line x1="202.59" y1="132.5" x2="202.59" y2="134.5" stroke="#333" stroke-width="0.55"/>
<line x1="204.84" y1="132.5" x2="204.84" y2="134.5" stroke="#333" stroke-width="0.55"/>
<line x1="206.58" y1="132.5" x2="206.58" y2="134.5" stroke="#333" stroke-width="0.55"/>
<line x1="208.01" y1="132.5" x2="208.01" y2="134.5" stroke="#333" stroke-width="0.55"/>
<line x1="209.21" y1="132.5" x2="209.21" y2="134.5" stroke="#333" stroke-width="0.55"/>
<line x1="210.26" y1="132.5" x2="210.26" y2="134.5" stroke="#333" stroke-width="0.55"/>
<line x1="211.18" y1="132.5" x2="211.18" y2="134.5" stroke="#333" stroke-width="0.55"/>
<line x1="220.43" y1="132.5" x2="220.43" y2="134.5" stroke="#333" stroke-width="0.55"/>
<line x1="225.36" y1="132.5" x2="225.36" y2="134.5" stroke="#333" stroke-width="0.55"/>
<line x1="228.86" y1="132.5" x2="228.86" y2="134.5" stroke="#333" stroke-width="0.55"/>
<line x1="231.57" y1="132.5" x2="231.57" y2="134.5" stroke="#333" stroke-width="0.55"/>
<line x1="233.79" y1="132.5" x2="233.79" y2="134.5" stroke="#333" stroke-width="0.55"/>
<line x1="235.66" y1="132.5" x2="235.66" y2="134.5" stroke="#333" stroke-width="0.55"/>
<line x1="237.29" y1="132.5" x2="237.29" y2="134.5" stroke="#333" stroke-width="0.55"/>
<line x1="238.72" y1="132.5" x2="238.72" y2="134.5" stroke="#333" stroke-width="0.55"/>
<line x1="248.58" y1="132.5" x2="248.58" y2="134.5" stroke="#333" stroke-width="0.55"/>
<line x1="253.60" y1="132.5" x2="253.60" y2="134.5" stroke="#333" stroke-width="0.55"/>
<line x1="257.16" y1="132.5" x2="257.16" y2="134.5" stroke="#333" stroke-width="0.55"/>
<line x1="259.92" y1="132.5" x2="259.92" y2="134.5" stroke="#333" stroke-width="0.55"/>
<line x1="262.18" y1="132.5" x2="262.18" y2="134.5" stroke="#333" stroke-width="0.55"/>
<line x1="264.09" y1="132.5" x2="264.09" y2="134.5" stroke="#333" stroke-width="0.55"/>
<line x1="265.74" y1="132.5" x2="265.74" y2="134.5" stroke="#333" stroke-width="0.55"/>
<line x1="267.20" y1="132.5" x2="267.20" y2="134.5" stroke="#333" stroke-width="0.55"/>
<line x1="269.40" y1="132.5" x2="269.40" y2="134.5" stroke="#333" stroke-width="0.55"/>
<line x1="269.93" y1="132.5" x2="269.93" y2="134.5" stroke="#333" stroke-width="0.55"/>
<line x1="270.31" y1="132.5" x2="270.31" y2="134.5" stroke="#333" stroke-width="0.55"/>
<line x1="270.60" y1="132.5" x2="270.60" y2="134.5" stroke="#333" stroke-width="0.55"/>
<line x1="270.83" y1="132.5" x2="270.83" y2="134.5" stroke="#333" stroke-width="0.55"/>
<line x1="271.04" y1="132.5" x2="271.04" y2="134.5" stroke="#333" stroke-width="0.55"/>
<line x1="271.21" y1="132.5" x2="271.21" y2="134.5" stroke="#333" stroke-width="0.55"/>
<line x1="271.36" y1="132.5" x2="271.36" y2="134.5" stroke="#333" stroke-width="0.55"/>
<line x1="193.3" y1="132.5" x2="193.3" y2="135.1" stroke="#222" stroke-width="0.6"/>
<line x1="194.1" y1="132.5" x2="194.1" y2="135.1" stroke="#222" stroke-width="0.6"/>
<line x1="194.9" y1="132.5" x2="194.9" y2="135.1" stroke="#222" stroke-width="0.6"/>
<line x1="195.7" y1="132.5" x2="195.7" y2="135.1" stroke="#222" stroke-width="0.6"/>
<line x1="196.5" y1="132.5" x2="196.5" y2="135.1" stroke="#222" stroke-width="0.6"/>
<text x="191.2" y="50" font-size="8.7" fill="#62ad48" text-anchor="middle" stroke-width="0.12" stroke="#62ad48">RF</text>
<text x="190.8" y="57.2" font-size="6" fill="#62ad48" text-anchor="middle" stroke="none">(~5%)</text>
<text x="195.5" y="87.8" font-size="8.7" fill="#e8931c" text-anchor="middle" stroke-width="0.12" stroke="#e8931c">IF</text>
<text x="195.5" y="95.6" font-size="6" fill="#e8931c" text-anchor="middle" stroke="none">(~5%)</text>
<text x="214" y="117.9" font-size="8.7" fill="#a61a3c" text-anchor="middle" stroke-width="0.12" stroke="#a61a3c">PF</text>
<text x="207" y="125.4" font-size="6" fill="#a61a3c" text-anchor="middle" stroke="none">(~5%)</text>
<rect x="103.5" y="47" width="14" height="13" fill="none" stroke="#5aa83a" stroke-width="1.3"/>
<rect x="126.3" y="63.2" width="6.6" height="6.4" fill="#e4ecf4" fill-opacity="0.85" stroke="#e8931c" stroke-width="1.05"/>
<rect x="136" y="77" width="16.5" height="26.5" fill="none" stroke="#a61a3c" stroke-width="1.3"/>
<rect x="218.6" y="46.8" width="14" height="12.8" fill="none" stroke="#5aa83a" stroke-width="1.3"/>
<rect x="237.4" y="62.5" width="6.4" height="6.2" fill="#e4ecf4" fill-opacity="0.85" stroke="#e8931c" stroke-width="1.05"/>
<rect x="247" y="77" width="16.2" height="26.4" fill="none" stroke="#a61a3c" stroke-width="1.3"/>
<line x1="232.6" y1="52.4" x2="309.5" y2="41.8" stroke="#5aa83a" stroke-width="1.3"/>
<line x1="244" y1="65.8" x2="309.5" y2="90.5" stroke="#e8931c" stroke-width="1.3"/>
<line x1="263.2" y1="93.5" x2="310" y2="132.6" stroke="#a61a3c" stroke-width="1.3"/>
<text transform="translate(50.6,115.6) rotate(-90)" x="0" y="0" font-size="10" fill="#222" text-anchor="middle" textLength="20.2" lengthAdjust="spacingAndGlyphs" font-weight="normal" stroke-width="0.35" stroke="#222">CXCR4</text>
<line x1="47.8" y1="102.6" x2="47.8" y2="83" stroke="#222" stroke-width="0.9"/>
<path d="M45.6,84 L47.8,78.6 L50,84 Z" fill="#222"/>
<text x="65.8" y="148.5" font-size="10.4" fill="#222" text-anchor="start" textLength="12.4" lengthAdjust="spacingAndGlyphs" stroke-width="0.45" stroke="#222">CD5</text>
<line x1="81.2" y1="145.2" x2="101" y2="145.2" stroke="#222" stroke-width="0.9"/>
<path d="M100,143 L105.6,145.2 L100,147.4 Z" fill="#222"/>
<defs>
<linearGradient id="gblood" x1="372" y1="0" x2="438.6" y2="0" gradientUnits="userSpaceOnUse">
 <stop offset="0" stop-color="#ffffff" stop-opacity="0"/>
 <stop offset="0.35" stop-color="#fbf0f3"/>
 <stop offset="0.65" stop-color="#f3d6df"/>
 <stop offset="0.88" stop-color="#e6aabd"/>
 <stop offset="1" stop-color="#da8ea6"/>
</linearGradient>
<linearGradient id="gniche" x1="439" y1="0" x2="472" y2="0" gradientUnits="userSpaceOnUse">
 <stop offset="0" stop-color="#a4a4a4"/>
 <stop offset="0.35" stop-color="#b8b8b8"/>
 <stop offset="0.6" stop-color="#dcdcdc"/>
 <stop offset="0.78" stop-color="#ffffff"/>
</linearGradient>
</defs>
<path d="M438.6,31 C428,22 412,18 396,21 C380,25 368,48 366,80 C366,110 378,140 398,143 C414,144 428,136 438.6,126 Z" fill="url(#gblood)"/>
<circle cx="387.5" cy="23.5" r="7" fill="#fff"/>
<path d="M472,17.8 L452.6,17.8 A13.8,13.8 0 0 0 438.8,31.6 L438.8,126.7 A13.8,13.8 0 0 0 452.6,140.5 L472,140.5" fill="url(#gniche)" stroke="#111" stroke-width="1.3"/>
<path d="M367.5,31.5 C373,27.5 378,25 382,23.5" fill="none" stroke="#67728a" stroke-width="1.9" stroke-dasharray="5.5,3.2"/>
<path d="M392,17.6 C399,15 406,12.5 414.5,10.6" fill="none" stroke="#67728a" stroke-width="1.9" stroke-dasharray="5.5,3.2"/>
<path d="M413.2,7.2 L420.6,10.5 L413.2,13.8 L415.4,10.5 Z" fill="#67728a"/>
<path d="M393,19.6 C405,18.5 418,20 428,24.5 C432,26.5 435,28.3 437.6,30.4" fill="none" stroke="#67728a" stroke-width="1.9" stroke-dasharray="5.5,3.2"/>
<line x1="443" y1="34.6" x2="448.5" y2="40.6" stroke="#67728a" stroke-width="0.9"/>
<path d="M448.3,43.9 L453.6,46.6 L452.6,41.3 Z" fill="#67728a"/>
<text x="386.9" y="24.9" font-size="9" fill="#67728a" text-anchor="middle" stroke-width="0.35" stroke="#67728a">?</text>
<text x="424.8" y="13.4" font-size="7.2" fill="#737c90" text-anchor="start" font-style="italic" textLength="15.8" lengthAdjust="spacingAndGlyphs" stroke-width="0.12" stroke="#737c90">Death</text>
<text x="454.8" y="53.9" font-size="7.2" fill="#737c90" text-anchor="start" font-style="italic" textLength="19.8" lengthAdjust="spacingAndGlyphs" stroke-width="0.12" stroke="#737c90">Survive</text>
<text x="468.5" y="70.0" font-size="7.9" fill="#111" text-anchor="middle" stroke-width="0.18" stroke="#111">Lymphoid</text>
<text x="468.4" y="79.4" font-size="7.9" fill="#111" text-anchor="middle" stroke-width="0.18" stroke="#111">niche</text>
<text x="469.7" y="99.4" font-size="8.1" fill="#b82042" text-anchor="start" font-style="italic" textLength="43.2" lengthAdjust="spacingAndGlyphs" stroke-width="0.15" stroke="#b82042">Proliferating</text>
<text x="472.2" y="109.4" font-size="8.1" fill="#b82042" text-anchor="start" font-style="italic" textLength="16.5" lengthAdjust="spacingAndGlyphs" stroke-width="0.15" stroke="#b82042">cells</text>
<text x="413.2" y="73.8" font-size="8.5" fill="#c0305a" text-anchor="middle" font-weight="bold" textLength="21" lengthAdjust="spacingAndGlyphs" stroke-width="0.15" stroke="#c0305a">Blood</text>
<circle cx="450.1" cy="101.5" r="3.9" fill="#fbfbfb" stroke="#969696" stroke-width="0.8"/>
<circle cx="450.1" cy="101.5" r="2.7" fill="#f0d2ce" stroke="#c0a8a8" stroke-width="0.4"/>
<circle cx="456.9" cy="97.8" r="3.9" fill="#fbfbfb" stroke="#969696" stroke-width="0.8"/>
<circle cx="456.9" cy="97.8" r="2.7" fill="#f0d2ce" stroke="#c0a8a8" stroke-width="0.4"/>
<circle cx="463.3" cy="100.2" r="3.9" fill="#fbfbfb" stroke="#969696" stroke-width="0.8"/>
<circle cx="463.3" cy="100.2" r="2.7" fill="#f0d2ce" stroke="#c0a8a8" stroke-width="0.4"/>
<circle cx="457.9" cy="103.9" r="3.9" fill="#fbfbfb" stroke="#969696" stroke-width="0.8"/>
<circle cx="457.9" cy="103.9" r="2.7" fill="#f0d2ce" stroke="#c0a8a8" stroke-width="0.4"/>
<circle cx="461.6" cy="108.3" r="3.9" fill="#fbfbfb" stroke="#969696" stroke-width="0.8"/>
<circle cx="461.6" cy="108.3" r="2.7" fill="#f0d2ce" stroke="#c0a8a8" stroke-width="0.4"/>
<path d="M454,110.5 C446,124 432,134 417,137" fill="none" stroke="#67728a" stroke-width="1.3"/>
<path d="M419,133.5 L411.5,137.6 L419.5,140.5 Z" fill="#67728a"/>
<circle cx="348.5" cy="44.3" r="10.8" fill="#fff" stroke="#444" stroke-width="0.9"/>
<circle cx="348.6" cy="44" r="8.9" fill="#d9ebd0" stroke="#9a9a9a" stroke-width="1"/>
<line x1="358.94" y1="36.72" x2="362.01" y2="34.48" stroke="#c8c8c8" stroke-width="0.6"/>
<rect x="-2.6" y="-2.9" width="5.2" height="5.8" fill="#6a5440" transform="translate(358.94,36.72) rotate(-36)"/>
<line x1="361.20" y1="42.06" x2="364.95" y2="41.40" stroke="#c8c8c8" stroke-width="0.6"/>
<rect x="-2.6" y="-2.9" width="5.2" height="5.8" fill="#6a5440" transform="translate(361.20,42.06) rotate(-10)"/>
<line x1="360.90" y1="47.86" x2="364.55" y2="48.90" stroke="#c8c8c8" stroke-width="0.6"/>
<rect x="-2.6" y="-2.9" width="5.2" height="5.8" fill="#6a5440" transform="translate(360.90,47.86) rotate(16)"/>
<line x1="358.09" y1="52.93" x2="360.91" y2="55.47" stroke="#c8c8c8" stroke-width="0.6"/>
<rect x="-2.6" y="-2.9" width="5.2" height="5.8" fill="#6a5440" transform="translate(358.09,52.93) rotate(42)"/>
<line x1="353.75" y1="56.08" x2="355.29" y2="59.56" stroke="#c8c8c8" stroke-width="0.6"/>
<rect x="-2.6" y="-2.9" width="5.2" height="5.8" fill="#6a5440" transform="translate(353.75,56.08) rotate(66)"/>
<line x1="348.50" y1="57.20" x2="348.50" y2="61.00" stroke="#c8c8c8" stroke-width="0.6"/>
<rect x="-2.6" y="-2.9" width="5.2" height="5.8" fill="#6a5440" transform="translate(348.50,57.20) rotate(90)"/>
<text x="348.6" y="47.0" font-size="8.8" fill="#3f8060" text-anchor="middle"  stroke="#3f8060" stroke-width="0.2">RF</text>
<line x1="358.81" y1="39.92" x2="364.15" y2="37.66" stroke="#e8e8e8" stroke-width="0.6"/>
<line x1="359.68" y1="44.89" x2="365.48" y2="45.19" stroke="#e8e8e8" stroke-width="0.6"/>
<line x1="358.30" y1="49.73" x2="363.37" y2="52.54" stroke="#e8e8e8" stroke-width="0.6"/>
<line x1="355.08" y1="53.36" x2="358.49" y2="58.05" stroke="#e8e8e8" stroke-width="0.6"/>
<line x1="350.83" y1="55.26" x2="352.03" y2="60.93" stroke="#e8e8e8" stroke-width="0.6"/>
<line x1="344.3" y1="27.8" x2="346.2" y2="32.8" stroke="#535d73" stroke-width="2.3" stroke-linecap="round"/>
<line x1="345.40" y1="88.16" x2="342.50" y2="84.45" stroke="#535d73" stroke-width="2.3" stroke-linecap="round"/>
<line x1="348.11" y1="86.52" x2="346.20" y2="82.23" stroke="#535d73" stroke-width="2.3" stroke-linecap="round"/>
<line x1="351.14" y1="85.60" x2="350.33" y2="80.97" stroke="#535d73" stroke-width="2.3" stroke-linecap="round"/>
<circle cx="353.4" cy="98.4" r="12.7" fill="#fff" stroke="#444" stroke-width="0.9"/>
<circle cx="351.2" cy="97.3" r="8.7" fill="#fbe3c2" stroke="#9a9a9a" stroke-width="1"/>
<line x1="364.57" y1="91.95" x2="367.86" y2="90.05" stroke="#c8c8c8" stroke-width="0.6"/>
<rect x="-2.6" y="-2.9" width="5.2" height="5.8" fill="#6a5440" transform="translate(364.57,91.95) rotate(-30)"/>
<line x1="366.23" y1="97.05" x2="370.01" y2="96.65" stroke="#c8c8c8" stroke-width="0.6"/>
<rect x="-2.6" y="-2.9" width="5.2" height="5.8" fill="#6a5440" transform="translate(366.23,97.05) rotate(-6)"/>
<line x1="365.67" y1="102.39" x2="369.28" y2="103.56" stroke="#c8c8c8" stroke-width="0.6"/>
<rect x="-2.6" y="-2.9" width="5.2" height="5.8" fill="#6a5440" transform="translate(365.67,102.39) rotate(18)"/>
<text x="351.2" y="100.3" font-size="8.8" fill="#e8a040" text-anchor="middle"  stroke="#e8a040" stroke-width="0.2">IF</text>
<line x1="377.91" y1="135.38" x2="373.50" y2="133.78" stroke="#535d73" stroke-width="2.3" stroke-linecap="round"/>
<line x1="379.15" y1="132.85" x2="375.17" y2="130.36" stroke="#535d73" stroke-width="2.3" stroke-linecap="round"/>
<line x1="380.89" y1="130.62" x2="377.51" y2="127.36" stroke="#535d73" stroke-width="2.3" stroke-linecap="round"/>
<line x1="383.05" y1="128.81" x2="380.42" y2="124.91" stroke="#535d73" stroke-width="2.3" stroke-linecap="round"/>
<line x1="385.54" y1="127.48" x2="383.78" y2="123.13" stroke="#535d73" stroke-width="2.3" stroke-linecap="round"/>
<line x1="388.26" y1="126.71" x2="387.44" y2="122.08" stroke="#535d73" stroke-width="2.3" stroke-linecap="round"/>
<circle cx="390.6" cy="140" r="13.2" fill="#fff" stroke="#444" stroke-width="0.9"/>
<circle cx="388.6" cy="138.8" r="8.7" fill="#f4dcd8" stroke="#9a9a9a" stroke-width="1"/>
<line x1="402.34" y1="133.76" x2="405.70" y2="131.97" stroke="#c8c8c8" stroke-width="0.6"/>
<rect x="-2.6" y="-2.9" width="5.2" height="5.8" fill="#6a5440" transform="translate(402.34,133.76) rotate(-28)"/>
<line x1="403.83" y1="138.61" x2="407.61" y2="138.21" stroke="#c8c8c8" stroke-width="0.6"/>
<rect x="-2.6" y="-2.9" width="5.2" height="5.8" fill="#6a5440" transform="translate(403.83,138.61) rotate(-6)"/>
<text x="388.6" y="141.8" font-size="8.3" fill="#c8325a" text-anchor="middle" font-weight="bold"  stroke="#c8325a" stroke-width="0.2">PF</text>
<line x1="345.6" y1="77.5" x2="346.8" y2="64" stroke="#707b91" stroke-width="1.25"/>
<path d="M343.6,67 L347.1,60.8 L349.8,67.4 L346.8,65.6 Z" fill="#707b91"/>
<line x1="371" y1="128.7" x2="363" y2="122.4" stroke="#707b91" stroke-width="1.25"/>
<path d="M366.8,120.3 L359.8,119.2 L362.9,125.6 L363.6,122.6 Z" fill="#707b91"/>
<text x="320.9" y="32.1" font-size="6.7" fill="#7a8296" textLength="13" lengthAdjust="spacingAndGlyphs" stroke="none">CD5</text>
<text x="334.09999999999997" y="29.5" font-size="4.02" fill="#7a8296" textLength="6" lengthAdjust="spacingAndGlyphs" stroke="none">Dim</text>
<text x="321.2" y="89.8" font-size="6.7" fill="#7a8296" textLength="12.7" lengthAdjust="spacingAndGlyphs" stroke="none">CD5</text>
<text x="334.09999999999997" y="87.2" font-size="4.02" fill="#7a8296" textLength="3.4" lengthAdjust="spacingAndGlyphs" stroke="none">Int</text>
<text x="346.2" y="139.6" font-size="6.4" fill="#44506a" font-weight="bold" textLength="12.3" lengthAdjust="spacingAndGlyphs" stroke="none">CD5</text>
<text x="358.7" y="137.0" font-size="3.84" fill="#44506a" font-weight="bold" textLength="11.2" lengthAdjust="spacingAndGlyphs" stroke="none">Bright</text>
<text x="368" y="52.6" font-size="6.6" fill="#4a3222" font-weight="bold" textLength="17.6" lengthAdjust="spacingAndGlyphs" stroke="none">CXCR4</text>
<text x="385.8" y="50.0" font-size="3.96" fill="#4a3222" font-weight="bold" textLength="13.8" lengthAdjust="spacingAndGlyphs" stroke="none">Bright</text>
<text x="372.2" y="96.9" font-size="6.4" fill="#806a58" textLength="21.2" lengthAdjust="spacingAndGlyphs" stroke="none">CXCR4</text>
<text x="393.59999999999997" y="94.30000000000001" font-size="3.84" fill="#806a58" textLength="3.4" lengthAdjust="spacingAndGlyphs" stroke="none">Int</text>
<text x="403" y="126.9" font-size="6.4" fill="#806a58" textLength="20.4" lengthAdjust="spacingAndGlyphs" stroke="none">CXCR4</text>
<text x="423.59999999999997" y="124.30000000000001" font-size="3.84" fill="#806a58" textLength="6" lengthAdjust="spacingAndGlyphs" stroke="none">Dim</text>
<text x="7.8" y="178.7" font-size="12" fill="#000" text-anchor="start" font-weight="bold"  stroke="#000" stroke-width="0.2">B</text>
<line x1="60.5" y1="278.2" x2="203" y2="278.2" stroke="#111" stroke-width="1.0" stroke-dasharray="1.2,1.3"/>
<rect x="66.1" y="283" width="8.4" height="15" fill="#e3e5f1"/>
<circle cx="70.3" cy="277" r="2.55" fill="#a3a6d2" stroke="#33508e" stroke-width="1.1"/>
<circle cx="66.9" cy="284.1" r="2.55" fill="#a3a6d2" stroke="#33508e" stroke-width="1.1"/>
<circle cx="73" cy="282.8" r="2.55" fill="#a3a6d2" stroke="#33508e" stroke-width="1.1"/>
<circle cx="71.1" cy="286.4" r="2.55" fill="#a3a6d2" stroke="#33508e" stroke-width="1.1"/>
<circle cx="70.3" cy="292.3" r="2.55" fill="#a3a6d2" stroke="#33508e" stroke-width="1.1"/>
<circle cx="68.7" cy="296.8" r="2.55" fill="#a3a6d2" stroke="#33508e" stroke-width="1.1"/>
<circle cx="71" cy="299.2" r="2.55" fill="#a3a6d2" stroke="#33508e" stroke-width="1.1"/>
<rect x="81.89999999999999" y="237" width="7.8" height="40.5" fill="#edcbbf"/>
<line x1="85.8" y1="208.5" x2="85.8" y2="237" stroke="#c42a4c" stroke-width="1"/>
<line x1="85.8" y1="277.5" x2="85.8" y2="294" stroke="#c42a4c" stroke-width="1"/>
<circle cx="85.6" cy="208.5" r="2.55" fill="#e6b2a2" stroke="#c42a4c" stroke-width="1.1"/>
<circle cx="85.6" cy="216.25" r="2.55" fill="#e6b2a2" stroke="#c42a4c" stroke-width="1.1"/>
<circle cx="85.6" cy="231.25" r="2.55" fill="#e6b2a2" stroke="#c42a4c" stroke-width="1.1"/>
<circle cx="84" cy="256.9" r="2.55" fill="#e6b2a2" stroke="#c42a4c" stroke-width="1.1"/>
<circle cx="87.75" cy="255.25" r="2.55" fill="#e6b2a2" stroke="#c42a4c" stroke-width="1.1"/>
<circle cx="85.4" cy="265.6" r="2.55" fill="#e6b2a2" stroke="#c42a4c" stroke-width="1.1"/>
<circle cx="85.4" cy="273.75" r="2.55" fill="#e6b2a2" stroke="#c42a4c" stroke-width="1.1"/>
<circle cx="87.25" cy="276.9" r="2.55" fill="#e6b2a2" stroke="#c42a4c" stroke-width="1.1"/>
<circle cx="85.4" cy="280.4" r="2.55" fill="#e6b2a2" stroke="#c42a4c" stroke-width="1.1"/>
<circle cx="83.9" cy="294.7" r="2.55" fill="#e6b2a2" stroke="#c42a4c" stroke-width="1.1"/>
<circle cx="87.7" cy="293.3" r="2.55" fill="#e6b2a2" stroke="#c42a4c" stroke-width="1.1"/>
<line x1="82.0" y1="269.7" x2="89.6" y2="269.7" stroke="#c42a4c" stroke-width="1.1"/>
<rect x="100.8" y="280" width="8.4" height="16" fill="#e3e5f1"/>
<line x1="105" y1="255.25" x2="105" y2="276" stroke="#33508e" stroke-width="1"/>
<circle cx="105" cy="255.25" r="2.55" fill="#a3a6d2" stroke="#33508e" stroke-width="1.1"/>
<circle cx="103.1" cy="276.25" r="2.55" fill="#a3a6d2" stroke="#33508e" stroke-width="1.1"/>
<circle cx="106.5" cy="275.6" r="2.55" fill="#a3a6d2" stroke="#33508e" stroke-width="1.1"/>
<circle cx="102.25" cy="283.75" r="2.55" fill="#a3a6d2" stroke="#33508e" stroke-width="1.1"/>
<circle cx="107.5" cy="282.9" r="2.55" fill="#a3a6d2" stroke="#33508e" stroke-width="1.1"/>
<circle cx="105.6" cy="286.25" r="2.55" fill="#a3a6d2" stroke="#33508e" stroke-width="1.1"/>
<circle cx="104.75" cy="291.25" r="2.55" fill="#a3a6d2" stroke="#33508e" stroke-width="1.1"/>
<circle cx="108.1" cy="294" r="2.55" fill="#a3a6d2" stroke="#33508e" stroke-width="1.1"/>
<circle cx="102.25" cy="297.25" r="2.55" fill="#a3a6d2" stroke="#33508e" stroke-width="1.1"/>
<circle cx="104.4" cy="298.75" r="2.55" fill="#a3a6d2" stroke="#33508e" stroke-width="1.1"/>
<rect x="118.0" y="220" width="7.8" height="57.5" fill="#edcbbf"/>
<line x1="121.9" y1="208.5" x2="121.9" y2="220" stroke="#c42a4c" stroke-width="1"/>
<line x1="121.9" y1="277.5" x2="121.9" y2="293.5" stroke="#c42a4c" stroke-width="1"/>
<circle cx="121.9" cy="208.5" r="2.55" fill="#e6b2a2" stroke="#c42a4c" stroke-width="1.1"/>
<circle cx="121.9" cy="216.25" r="2.55" fill="#e6b2a2" stroke="#c42a4c" stroke-width="1.1"/>
<circle cx="121.9" cy="231.25" r="2.55" fill="#e6b2a2" stroke="#c42a4c" stroke-width="1.1"/>
<circle cx="121.9" cy="256.9" r="2.55" fill="#e6b2a2" stroke="#c42a4c" stroke-width="1.1"/>
<circle cx="121.9" cy="265.6" r="2.55" fill="#e6b2a2" stroke="#c42a4c" stroke-width="1.1"/>
<circle cx="121.9" cy="273.75" r="2.55" fill="#e6b2a2" stroke="#c42a4c" stroke-width="1.1"/>
<circle cx="121.9" cy="280.6" r="2.55" fill="#e6b2a2" stroke="#c42a4c" stroke-width="1.1"/>
<circle cx="121.9" cy="293.5" r="2.55" fill="#e6b2a2" stroke="#c42a4c" stroke-width="1.1"/>
<line x1="118.10000000000001" y1="261.25" x2="125.7" y2="261.25" stroke="#c42a4c" stroke-width="1.1"/>
<rect x="136.8" y="280" width="8.4" height="16" fill="#e3e5f1"/>
<line x1="141" y1="255.25" x2="141" y2="276" stroke="#33508e" stroke-width="1"/>
<circle cx="141" cy="255.25" r="2.55" fill="#a3a6d2" stroke="#33508e" stroke-width="1.1"/>
<circle cx="139" cy="275.6" r="2.55" fill="#a3a6d2" stroke="#33508e" stroke-width="1.1"/>
<circle cx="143.1" cy="278.1" r="2.55" fill="#a3a6d2" stroke="#33508e" stroke-width="1.1"/>
<circle cx="140.25" cy="283.75" r="2.55" fill="#a3a6d2" stroke="#33508e" stroke-width="1.1"/>
<circle cx="142.25" cy="285.6" r="2.55" fill="#a3a6d2" stroke="#33508e" stroke-width="1.1"/>
<circle cx="140.6" cy="291.9" r="2.55" fill="#a3a6d2" stroke="#33508e" stroke-width="1.1"/>
<circle cx="144" cy="294.4" r="2.55" fill="#a3a6d2" stroke="#33508e" stroke-width="1.1"/>
<circle cx="138.1" cy="297.5" r="2.55" fill="#a3a6d2" stroke="#33508e" stroke-width="1.1"/>
<circle cx="140.6" cy="299.4" r="2.55" fill="#a3a6d2" stroke="#33508e" stroke-width="1.1"/>
<rect x="152.6" y="227.25" width="7.8" height="49.75" fill="#edcbbf"/>
<line x1="156.5" y1="208.5" x2="156.5" y2="227.25" stroke="#c42a4c" stroke-width="1"/>
<line x1="156.5" y1="277" x2="156.5" y2="293.5" stroke="#c42a4c" stroke-width="1"/>
<circle cx="156.5" cy="208.5" r="2.55" fill="#e6b2a2" stroke="#c42a4c" stroke-width="1.1"/>
<circle cx="156.5" cy="216.25" r="2.55" fill="#e6b2a2" stroke="#c42a4c" stroke-width="1.1"/>
<circle cx="156.5" cy="231.25" r="2.55" fill="#e6b2a2" stroke="#c42a4c" stroke-width="1.1"/>
<circle cx="156.5" cy="256.9" r="2.55" fill="#e6b2a2" stroke="#c42a4c" stroke-width="1.1"/>
<circle cx="156.5" cy="265.6" r="2.55" fill="#e6b2a2" stroke="#c42a4c" stroke-width="1.1"/>
<circle cx="156.5" cy="273.75" r="2.55" fill="#e6b2a2" stroke="#c42a4c" stroke-width="1.1"/>
<circle cx="158.6" cy="275.5" r="2.55" fill="#e6b2a2" stroke="#c42a4c" stroke-width="1.1"/>
<circle cx="155.25" cy="280.6" r="2.55" fill="#e6b2a2" stroke="#c42a4c" stroke-width="1.1"/>
<circle cx="156.9" cy="283.1" r="2.55" fill="#e6b2a2" stroke="#c42a4c" stroke-width="1.1"/>
<circle cx="156.5" cy="293.5" r="2.55" fill="#e6b2a2" stroke="#c42a4c" stroke-width="1.1"/>
<line x1="152.7" y1="269.75" x2="160.3" y2="269.75" stroke="#c42a4c" stroke-width="1.1"/>
<rect x="171.4" y="280" width="8.4" height="16" fill="#e3e5f1"/>
<line x1="175.6" y1="256" x2="175.6" y2="276" stroke="#33508e" stroke-width="1"/>
<circle cx="173.75" cy="255" r="2.55" fill="#a3a6d2" stroke="#33508e" stroke-width="1.1"/>
<circle cx="178.5" cy="256.5" r="2.55" fill="#a3a6d2" stroke="#33508e" stroke-width="1.1"/>
<circle cx="175.6" cy="265.6" r="2.55" fill="#a3a6d2" stroke="#33508e" stroke-width="1.1"/>
<circle cx="177.25" cy="275.4" r="2.55" fill="#a3a6d2" stroke="#33508e" stroke-width="1.1"/>
<circle cx="174.75" cy="277.5" r="2.55" fill="#a3a6d2" stroke="#33508e" stroke-width="1.1"/>
<circle cx="175" cy="280.6" r="2.55" fill="#a3a6d2" stroke="#33508e" stroke-width="1.1"/>
<circle cx="172.8" cy="283.5" r="2.55" fill="#a3a6d2" stroke="#33508e" stroke-width="1.1"/>
<circle cx="177.6" cy="284.5" r="2.55" fill="#a3a6d2" stroke="#33508e" stroke-width="1.1"/>
<circle cx="176" cy="287.5" r="2.55" fill="#a3a6d2" stroke="#33508e" stroke-width="1.1"/>
<circle cx="173.6" cy="290.5" r="2.55" fill="#a3a6d2" stroke="#33508e" stroke-width="1.1"/>
<circle cx="176" cy="291.9" r="2.55" fill="#a3a6d2" stroke="#33508e" stroke-width="1.1"/>
<circle cx="179" cy="294.4" r="2.55" fill="#a3a6d2" stroke="#33508e" stroke-width="1.1"/>
<circle cx="172.5" cy="297.25" r="2.55" fill="#a3a6d2" stroke="#33508e" stroke-width="1.1"/>
<circle cx="175" cy="299.4" r="2.55" fill="#a3a6d2" stroke="#33508e" stroke-width="1.1"/>
<rect x="187.4" y="212.25" width="7.8" height="70.85000000000002" fill="#edcbbf"/>
<line x1="191.3" y1="208.5" x2="191.3" y2="212.25" stroke="#c42a4c" stroke-width="1"/>
<line x1="191.3" y1="283.1" x2="191.3" y2="293.5" stroke="#c42a4c" stroke-width="1"/>
<circle cx="191.25" cy="208.5" r="2.55" fill="#e6b2a2" stroke="#c42a4c" stroke-width="1.1"/>
<circle cx="191.25" cy="216.25" r="2.55" fill="#e6b2a2" stroke="#c42a4c" stroke-width="1.1"/>
<circle cx="191.25" cy="231.25" r="2.55" fill="#e6b2a2" stroke="#c42a4c" stroke-width="1.1"/>
<circle cx="191.25" cy="273.75" r="2.55" fill="#e6b2a2" stroke="#c42a4c" stroke-width="1.1"/>
<circle cx="191.25" cy="293.5" r="2.55" fill="#e6b2a2" stroke="#c42a4c" stroke-width="1.1"/>
<line x1="187.5" y1="231.25" x2="195.10000000000002" y2="231.25" stroke="#c42a4c" stroke-width="1.1"/>
<text x="206.8" y="281.2" font-size="8.6" fill="#333" text-anchor="start" font-style="italic" textLength="15.2" lengthAdjust="spacingAndGlyphs"  stroke="#333" stroke-width="0.2">0.35</text>
<line x1="59.75" y1="183.5" x2="59.75" y2="314" stroke="#111" stroke-width="1.1"/>
<line x1="59.2" y1="313.6" x2="203" y2="313.6" stroke="#111" stroke-width="1.1"/>
<line x1="56.2" y1="185.98" x2="59.75" y2="185.98" stroke="#111" stroke-width="0.9"/>
<text x="53.5" y="188.97500000000002" font-size="8.5" fill="#222" text-anchor="end"  stroke="#222" stroke-width="0.2">1.25</text>
<line x1="56.2" y1="211.50" x2="59.75" y2="211.50" stroke="#111" stroke-width="0.9"/>
<text x="53.5" y="214.50000000000003" font-size="8.5" fill="#222" text-anchor="end"  stroke="#222" stroke-width="0.2">1.00</text>
<line x1="56.2" y1="237.03" x2="59.75" y2="237.03" stroke="#111" stroke-width="0.9"/>
<text x="53.5" y="240.02500000000003" font-size="8.5" fill="#222" text-anchor="end"  stroke="#222" stroke-width="0.2">0.75</text>
<line x1="56.2" y1="262.55" x2="59.75" y2="262.55" stroke="#111" stroke-width="0.9"/>
<text x="53.5" y="265.55" font-size="8.5" fill="#222" text-anchor="end"  stroke="#222" stroke-width="0.2">0.50</text>
<line x1="56.2" y1="288.08" x2="59.75" y2="288.08" stroke="#111" stroke-width="0.9"/>
<text x="53.5" y="291.07500000000005" font-size="8.5" fill="#222" text-anchor="end"  stroke="#222" stroke-width="0.2">0.25</text>
<line x1="56.2" y1="313.60" x2="59.75" y2="313.60" stroke="#111" stroke-width="0.9"/>
<text x="53.5" y="316.6" font-size="8.5" fill="#222" text-anchor="end"  stroke="#222" stroke-width="0.2">0.00</text>
<text transform="translate(32.0,247.9) rotate(-90)" x="0" y="0" font-size="10" fill="#222" text-anchor="middle" textLength="70" lengthAdjust="spacingAndGlyphs" font-weight="normal" stroke-width="0.35" stroke="#222">CLL birth rate (%/day)</text>
<line x1="70.3" y1="313.6" x2="70.3" y2="316.8" stroke="#111" stroke-width="0.9"/>
<text transform="translate(72.7,323.3) rotate(-45)" text-anchor="end" font-size="7.6" fill="#35528f" stroke="#35528f" stroke-width="0.2">untreated</text>
<line x1="86" y1="313.6" x2="86" y2="316.8" stroke="#111" stroke-width="0.9"/>
<text transform="translate(88.4,323.3) rotate(-45)" text-anchor="end" font-size="7.6" fill="#b82042" stroke="#b82042" stroke-width="0.2">treated</text>
<line x1="105.5" y1="313.6" x2="105.5" y2="316.8" stroke="#111" stroke-width="0.9"/>
<text transform="translate(107.9,323.3) rotate(-45)" text-anchor="end" font-size="7.6" fill="#35528f" stroke="#35528f" stroke-width="0.2">M-CLL</text>
<line x1="122" y1="313.6" x2="122" y2="316.8" stroke="#111" stroke-width="0.9"/>
<text transform="translate(124.4,323.3) rotate(-45)" text-anchor="end" font-size="7.6" fill="#b82042" stroke="#b82042" stroke-width="0.2">U-CLL</text>
<line x1="140.5" y1="313.6" x2="140.5" y2="316.8" stroke="#111" stroke-width="0.9"/>
<text transform="translate(142.9,323.3) rotate(-45)" text-anchor="end" font-size="7.6" fill="#35528f" stroke="#35528f" stroke-width="0.2">ZAP70-</text>
<line x1="156.5" y1="313.6" x2="156.5" y2="316.8" stroke="#111" stroke-width="0.9"/>
<text transform="translate(158.9,323.3) rotate(-45)" text-anchor="end" font-size="7.6" fill="#b82042" stroke="#b82042" stroke-width="0.2">ZAP70+</text>
<line x1="174.8" y1="313.6" x2="174.8" y2="316.8" stroke="#111" stroke-width="0.9"/>
<text transform="translate(177.20000000000002,323.3) rotate(-45)" text-anchor="end" font-size="7.6" fill="#35528f" stroke="#35528f" stroke-width="0.2">CD38-</text>
<line x1="191.3" y1="313.6" x2="191.3" y2="316.8" stroke="#111" stroke-width="0.9"/>
<text transform="translate(193.70000000000002,323.3) rotate(-45)" text-anchor="end" font-size="7.6" fill="#b82042" stroke="#b82042" stroke-width="0.2">CD38+</text>
<path d="M67.6,199.3 L67.6,193.5 L85.4,193.5 L85.4,199.3" fill="none" stroke="#222" stroke-width="1" stroke-linejoin="round"/>
<ellipse cx="74.9" cy="189.3" rx="1.15" ry="0.95" fill="#222"/><ellipse cx="78.1" cy="189.3" rx="1.15" ry="0.95" fill="#222"/>
<path d="M103.4,199.3 L103.4,193.5 L121,193.5 L121,199.3" fill="none" stroke="#222" stroke-width="1" stroke-linejoin="round"/>
<ellipse cx="110.60000000000001" cy="189.3" rx="1.15" ry="0.95" fill="#222"/><ellipse cx="113.8" cy="189.3" rx="1.15" ry="0.95" fill="#222"/>
<path d="M139.4,199.3 L139.4,193.5 L157.1,193.5 L157.1,199.3" fill="none" stroke="#222" stroke-width="1" stroke-linejoin="round"/>
<ellipse cx="146.65" cy="189.3" rx="1.15" ry="0.95" fill="#222"/><ellipse cx="149.85" cy="189.3" rx="1.15" ry="0.95" fill="#222"/>
<path d="M173.4,199.3 L173.4,193.5 L191.6,193.5 L191.6,199.3" fill="none" stroke="#222" stroke-width="1" stroke-linejoin="round"/>
<ellipse cx="180.9" cy="189.3" rx="1.15" ry="0.95" fill="#222"/><ellipse cx="184.1" cy="189.3" rx="1.15" ry="0.95" fill="#222"/>
<text x="237.8" y="179" font-size="12" fill="#000" text-anchor="start" font-weight="bold"  stroke="#000" stroke-width="0.2">C</text>
<line x1="289.6" y1="224.1" x2="289.6" y2="313.8" stroke="#111" stroke-width="1.1"/>
<line x1="289.1" y1="313.3" x2="462.5" y2="313.3" stroke="#111" stroke-width="1.1"/>
<line x1="286.1" y1="310.40" x2="289.6" y2="310.40" stroke="#111" stroke-width="0.9"/>
<text x="283.8" y="313.4" font-size="8.4" fill="#222" text-anchor="end"  stroke="#222" stroke-width="0.2">0.0</text>
<line x1="286.1" y1="293.74" x2="289.6" y2="293.74" stroke="#111" stroke-width="0.9"/>
<text x="283.8" y="296.74" font-size="8.4" fill="#222" text-anchor="end"  stroke="#222" stroke-width="0.2">0.2</text>
<line x1="286.1" y1="277.08" x2="289.6" y2="277.08" stroke="#111" stroke-width="0.9"/>
<text x="283.8" y="280.08" font-size="8.4" fill="#222" text-anchor="end"  stroke="#222" stroke-width="0.2">0.4</text>
<line x1="286.1" y1="260.42" x2="289.6" y2="260.42" stroke="#111" stroke-width="0.9"/>
<text x="283.8" y="263.41999999999996" font-size="8.4" fill="#222" text-anchor="end"  stroke="#222" stroke-width="0.2">0.6</text>
<line x1="286.1" y1="243.76" x2="289.6" y2="243.76" stroke="#111" stroke-width="0.9"/>
<text x="283.8" y="246.76" font-size="8.4" fill="#222" text-anchor="end"  stroke="#222" stroke-width="0.2">0.8</text>
<line x1="286.1" y1="227.10" x2="289.6" y2="227.10" stroke="#111" stroke-width="0.9"/>
<text x="283.8" y="230.1" font-size="8.4" fill="#222" text-anchor="end"  stroke="#222" stroke-width="0.2">1.0</text>
<line x1="289.6" y1="313.3" x2="289.6" y2="316.3" stroke="#111" stroke-width="0.9"/>
<text x="289.6" y="327.7" font-size="8.4" fill="#222" text-anchor="middle"  stroke="#222" stroke-width="0.2">0</text>
<line x1="333.2" y1="313.3" x2="333.2" y2="316.3" stroke="#111" stroke-width="0.9"/>
<text x="333.2" y="327.7" font-size="8.4" fill="#222" text-anchor="middle"  stroke="#222" stroke-width="0.2">20</text>
<line x1="376.8" y1="313.3" x2="376.8" y2="316.3" stroke="#111" stroke-width="0.9"/>
<text x="376.8" y="327.7" font-size="8.4" fill="#222" text-anchor="middle"  stroke="#222" stroke-width="0.2">40</text>
<line x1="420.4" y1="313.3" x2="420.4" y2="316.3" stroke="#111" stroke-width="0.9"/>
<text x="420.4" y="327.7" font-size="8.4" fill="#222" text-anchor="middle"  stroke="#222" stroke-width="0.2">60</text>
<text transform="translate(254.5,270.2) rotate(-90)" x="0" y="0" font-size="10" fill="#222" text-anchor="middle" textLength="40.3" lengthAdjust="spacingAndGlyphs" font-weight="normal" stroke-width="0.35" stroke="#222">Probability of</text>
<text transform="translate(265.6,269.1) rotate(-90)" x="0" y="0" font-size="10" fill="#222" text-anchor="middle" textLength="61.8" lengthAdjust="spacingAndGlyphs" font-weight="normal" stroke-width="0.35" stroke="#222">remaining untreated</text>
<text x="376.3" y="341.3" font-size="9.4" fill="#222" text-anchor="middle" textLength="31.7" lengthAdjust="spacingAndGlyphs" stroke-width="0.45" stroke="#222">TTFT (mo)</text>
<path d="M289.6,227.3 L311.5,227.3 L311.5,233.9 L338.7,233.9 L338.7,242 L351.25,242 L351.25,249.5 L357,249.5 L357,257 L456.25,257" fill="none" stroke="#2d4c8e" stroke-width="1.45" stroke-linejoin="miter"/>
<line x1="337.4" y1="232.4" x2="337.4" y2="235.4" stroke="#2d4c8e" stroke-width="0.8"/>
<line x1="375" y1="255.5" x2="375" y2="258.5" stroke="#2d4c8e" stroke-width="0.8"/>
<line x1="388.25" y1="255.5" x2="388.25" y2="258.5" stroke="#2d4c8e" stroke-width="0.8"/>
<line x1="415.75" y1="255.5" x2="415.75" y2="258.5" stroke="#2d4c8e" stroke-width="0.8"/>
<line x1="417" y1="255.5" x2="417" y2="258.5" stroke="#2d4c8e" stroke-width="0.8"/>
<line x1="421.25" y1="255.5" x2="421.25" y2="258.5" stroke="#2d4c8e" stroke-width="0.8"/>
<line x1="453.25" y1="255.5" x2="453.25" y2="258.5" stroke="#2d4c8e" stroke-width="0.8"/>
<line x1="455.75" y1="255.5" x2="455.75" y2="258.5" stroke="#2d4c8e" stroke-width="0.8"/>
<path d="M289.6,227.3 L293.3,227.3 L293.3,236.6 L301.8,236.6 L301.8,245.5 L305.5,245.5 L305.5,255.2 L307.9,255.2 L307.9,264.5 L308.7,264.5 L308.7,273.9 L324,273.9 L324,282.8 L324.5,282.8 L324.5,292 L331.4,292 L331.4,301.2 L441.75,301.2" fill="none" stroke="#b71c3e" stroke-width="1.45" stroke-linejoin="miter"/>
<line x1="441.2" y1="299.7" x2="441.2" y2="302.7" stroke="#b71c3e" stroke-width="0.8"/>
<line x1="330.8" y1="216.4" x2="342.5" y2="216.4" stroke="#2d4c8e" stroke-width="1.3"/>
<text x="345.8" y="219.2" font-size="7.9" fill="#35528f" text-anchor="start" textLength="24.3" lengthAdjust="spacingAndGlyphs"  stroke="#35528f" stroke-width="0.2">low BR</text>
<line x1="380" y1="216.4" x2="391.3" y2="216.4" stroke="#b71c3e" stroke-width="1.3"/>
<text x="394.3" y="219.2" font-size="7.9" fill="#b82042" text-anchor="start" textLength="27.5" lengthAdjust="spacingAndGlyphs"  stroke="#b82042" stroke-width="0.2">high BR</text>
<text x="388.8" y="280.8" font-size="8.7" fill="#222" textLength="39.3" lengthAdjust="spacingAndGlyphs" stroke="#222" stroke-width="0.2"><tspan font-style="italic">P</tspan>=0.00058</text>
<text x="7.8" y="375.5" font-size="12" fill="#000" text-anchor="start" font-weight="bold"  stroke="#000" stroke-width="0.2">D</text>
<line x1="59.5" y1="392" x2="59.5" y2="482.3" stroke="#111" stroke-width="1.1"/>
<line x1="59.0" y1="481.8" x2="177.5" y2="481.8" stroke="#111" stroke-width="1.1"/>
<line x1="56.0" y1="478.20" x2="59.5" y2="478.20" stroke="#111" stroke-width="0.9"/>
<text x="53.6" y="481.2" font-size="8.4" fill="#222" text-anchor="end"  stroke="#222" stroke-width="0.2">0.0</text>
<line x1="56.0" y1="461.56" x2="59.5" y2="461.56" stroke="#111" stroke-width="0.9"/>
<text x="53.6" y="464.56" font-size="8.4" fill="#222" text-anchor="end"  stroke="#222" stroke-width="0.2">0.2</text>
<line x1="56.0" y1="444.92" x2="59.5" y2="444.92" stroke="#111" stroke-width="0.9"/>
<text x="53.6" y="447.92" font-size="8.4" fill="#222" text-anchor="end"  stroke="#222" stroke-width="0.2">0.4</text>
<line x1="56.0" y1="428.28" x2="59.5" y2="428.28" stroke="#111" stroke-width="0.9"/>
<text x="53.6" y="431.28" font-size="8.4" fill="#222" text-anchor="end"  stroke="#222" stroke-width="0.2">0.6</text>
<line x1="56.0" y1="411.64" x2="59.5" y2="411.64" stroke="#111" stroke-width="0.9"/>
<text x="53.6" y="414.64" font-size="8.4" fill="#222" text-anchor="end"  stroke="#222" stroke-width="0.2">0.8</text>
<line x1="56.0" y1="395.00" x2="59.5" y2="395.00" stroke="#111" stroke-width="0.9"/>
<text x="53.6" y="398.0" font-size="8.4" fill="#222" text-anchor="end"  stroke="#222" stroke-width="0.2">1.0</text>
<line x1="60" y1="481.8" x2="60" y2="484.8" stroke="#111" stroke-width="0.9"/>
<text x="60" y="496.2" font-size="8.4" fill="#222" text-anchor="middle"  stroke="#222" stroke-width="0.2">0</text>
<line x1="89.3" y1="481.8" x2="89.3" y2="484.8" stroke="#111" stroke-width="0.9"/>
<text x="89.3" y="496.2" font-size="8.4" fill="#222" text-anchor="middle"  stroke="#222" stroke-width="0.2">20</text>
<line x1="118.8" y1="481.8" x2="118.8" y2="484.8" stroke="#111" stroke-width="0.9"/>
<text x="118.8" y="496.2" font-size="8.4" fill="#222" text-anchor="middle"  stroke="#222" stroke-width="0.2">40</text>
<line x1="148.6" y1="481.8" x2="148.6" y2="484.8" stroke="#111" stroke-width="0.9"/>
<text x="148.6" y="496.2" font-size="8.4" fill="#222" text-anchor="middle"  stroke="#222" stroke-width="0.2">60</text>
<text transform="translate(24.7,438) rotate(-90)" x="0" y="0" font-size="10" fill="#222" text-anchor="middle" textLength="38.8" lengthAdjust="spacingAndGlyphs" font-weight="normal" stroke-width="0.35" stroke="#222">Probability of</text>
<text transform="translate(36.5,437) rotate(-90)" x="0" y="0" font-size="10" fill="#222" text-anchor="middle" textLength="61.3" lengthAdjust="spacingAndGlyphs" font-weight="normal" stroke-width="0.35" stroke="#222">remaining untreated</text>
<text x="118.8" y="509.1" font-size="9.4" fill="#222" text-anchor="middle" textLength="32.8" lengthAdjust="spacingAndGlyphs" stroke-width="0.45" stroke="#222">TTFT (mo)</text>
<path d="M59.5,395 L72.5,395 L72.5,401.2 L73.2,401.2 L73.2,408 L93.5,408 L93.5,415 L105,415 L105,421.75 L173.25,421.75" fill="none" stroke="#2d4c8e" stroke-width="1.45" stroke-linejoin="miter"/>
<line x1="72" y1="393.5" x2="72" y2="396.5" stroke="#2d4c8e" stroke-width="0.8"/>
<line x1="92" y1="406.5" x2="92" y2="409.5" stroke="#2d4c8e" stroke-width="0.8"/>
<line x1="117.5" y1="420.25" x2="117.5" y2="423.25" stroke="#2d4c8e" stroke-width="0.8"/>
<line x1="127" y1="420.25" x2="127" y2="423.25" stroke="#2d4c8e" stroke-width="0.8"/>
<line x1="145" y1="420.25" x2="145" y2="423.25" stroke="#2d4c8e" stroke-width="0.8"/>
<line x1="148.75" y1="420.25" x2="148.75" y2="423.25" stroke="#2d4c8e" stroke-width="0.8"/>
<line x1="163" y1="420.25" x2="163" y2="423.25" stroke="#2d4c8e" stroke-width="0.8"/>
<line x1="172.5" y1="420.25" x2="172.5" y2="423.25" stroke="#2d4c8e" stroke-width="0.8"/>
<path d="M59.5,395 L62.2,395 L62.2,405 L67.7,405 L67.7,415.75 L70,415.75 L70,425.9 L74,425.9 L74,436.4 L83,436.4 L83,446.9 L83.6,446.9 L83.6,457.5 L88,457.5 L88,468 L101.75,468 L101.75,478.2" fill="none" stroke="#b71c3e" stroke-width="1.45" stroke-linejoin="miter"/>
<line x1="73" y1="382.6" x2="80.5" y2="382.6" stroke="#2d4c8e" stroke-width="1.3"/>
<text x="83.7" y="385.4" font-size="7.9" fill="#35528f" text-anchor="start" textLength="22.5" lengthAdjust="spacingAndGlyphs"  stroke="#35528f" stroke-width="0.2">M-CLL</text>
<line x1="116.2" y1="382.6" x2="123.7" y2="382.6" stroke="#b71c3e" stroke-width="1.3"/>
<text x="127" y="385.4" font-size="7.9" fill="#b82042" text-anchor="start" textLength="22.5" lengthAdjust="spacingAndGlyphs"  stroke="#b82042" stroke-width="0.2">U-CLL</text>
<text x="113.8" y="448.3" font-size="8.7" fill="#222" textLength="44.2" lengthAdjust="spacingAndGlyphs" stroke="#222" stroke-width="0.2"><tspan font-style="italic">P</tspan>=0.00019</text>
<line x1="205.5" y1="392" x2="205.5" y2="482.0" stroke="#111" stroke-width="1.1"/>
<line x1="205.0" y1="481.5" x2="323.7" y2="481.5" stroke="#111" stroke-width="1.1"/>
<line x1="202.0" y1="478.60" x2="205.5" y2="478.60" stroke="#111" stroke-width="0.9"/>
<text x="200.1" y="481.6" font-size="8.4" fill="#222" text-anchor="end"  stroke="#222" stroke-width="0.2">0.0</text>
<line x1="202.0" y1="461.88" x2="205.5" y2="461.88" stroke="#111" stroke-width="0.9"/>
<text x="200.1" y="464.88" font-size="8.4" fill="#222" text-anchor="end"  stroke="#222" stroke-width="0.2">0.2</text>
<line x1="202.0" y1="445.16" x2="205.5" y2="445.16" stroke="#111" stroke-width="0.9"/>
<text x="200.1" y="448.16" font-size="8.4" fill="#222" text-anchor="end"  stroke="#222" stroke-width="0.2">0.4</text>
<line x1="202.0" y1="428.44" x2="205.5" y2="428.44" stroke="#111" stroke-width="0.9"/>
<text x="200.1" y="431.44" font-size="8.4" fill="#222" text-anchor="end"  stroke="#222" stroke-width="0.2">0.6</text>
<line x1="202.0" y1="411.72" x2="205.5" y2="411.72" stroke="#111" stroke-width="0.9"/>
<text x="200.1" y="414.72" font-size="8.4" fill="#222" text-anchor="end"  stroke="#222" stroke-width="0.2">0.8</text>
<line x1="202.0" y1="395.00" x2="205.5" y2="395.00" stroke="#111" stroke-width="0.9"/>
<text x="200.1" y="398.0" font-size="8.4" fill="#222" text-anchor="end"  stroke="#222" stroke-width="0.2">1.0</text>
<line x1="205.2" y1="481.5" x2="205.2" y2="484.5" stroke="#111" stroke-width="0.9"/>
<text x="205.2" y="495.9" font-size="8.4" fill="#222" text-anchor="middle"  stroke="#222" stroke-width="0.2">0</text>
<line x1="235" y1="481.5" x2="235" y2="484.5" stroke="#111" stroke-width="0.9"/>
<text x="235" y="495.9" font-size="8.4" fill="#222" text-anchor="middle"  stroke="#222" stroke-width="0.2">20</text>
<line x1="265" y1="481.5" x2="265" y2="484.5" stroke="#111" stroke-width="0.9"/>
<text x="265" y="495.9" font-size="8.4" fill="#222" text-anchor="middle"  stroke="#222" stroke-width="0.2">40</text>
<line x1="294.5" y1="481.5" x2="294.5" y2="484.5" stroke="#111" stroke-width="0.9"/>
<text x="294.5" y="495.9" font-size="8.4" fill="#222" text-anchor="middle"  stroke="#222" stroke-width="0.2">60</text>
<text x="264.4" y="509.1" font-size="9.4" fill="#222" text-anchor="middle" textLength="32.8" lengthAdjust="spacingAndGlyphs" stroke-width="0.45" stroke="#222">TTFT (mo)</text>
<path d="M205.5,395 L216.25,395 L216.25,400 L218.3,400 L218.3,410.5 L228.6,410.5 L228.6,415.5 L239,415.5 L239,421.25 L247,421.25 L247,427 L251.25,427 L251.25,433 L318.75,433" fill="none" stroke="#2d4c8e" stroke-width="1.45" stroke-linejoin="miter"/>
<line x1="237.5" y1="414.0" x2="237.5" y2="417.0" stroke="#2d4c8e" stroke-width="0.8"/>
<line x1="263" y1="431.5" x2="263" y2="434.5" stroke="#2d4c8e" stroke-width="0.8"/>
<line x1="272.5" y1="431.5" x2="272.5" y2="434.5" stroke="#2d4c8e" stroke-width="0.8"/>
<line x1="291.25" y1="431.5" x2="291.25" y2="434.5" stroke="#2d4c8e" stroke-width="0.8"/>
<line x1="294.25" y1="431.5" x2="294.25" y2="434.5" stroke="#2d4c8e" stroke-width="0.8"/>
<line x1="308.25" y1="431.5" x2="308.25" y2="434.5" stroke="#2d4c8e" stroke-width="0.8"/>
<line x1="317.5" y1="431.5" x2="317.5" y2="434.5" stroke="#2d4c8e" stroke-width="0.8"/>
<path d="M205.5,395 L207.5,395 L207.5,411.75 L213.25,411.75 L213.25,428.25 L220,428.25 L220,445 L229.25,445 L229.25,461.75 L233.75,461.75 L233.75,478.4" fill="none" stroke="#b71c3e" stroke-width="1.45" stroke-linejoin="miter"/>
<line x1="219.5" y1="382.6" x2="227.5" y2="382.6" stroke="#2d4c8e" stroke-width="1.3"/>
<text x="230" y="385.4" font-size="7.9" fill="#35528f" text-anchor="start" textLength="22.5" lengthAdjust="spacingAndGlyphs"  stroke="#35528f" stroke-width="0.2">CD38-</text>
<line x1="263.7" y1="382.6" x2="271.2" y2="382.6" stroke="#b71c3e" stroke-width="1.3"/>
<text x="274.5" y="385.4" font-size="7.9" fill="#b82042" text-anchor="start" textLength="25.5" lengthAdjust="spacingAndGlyphs"  stroke="#b82042" stroke-width="0.2">CD38+</text>
<text x="255.8" y="447.8" font-size="8.7" fill="#222" textLength="38.9" lengthAdjust="spacingAndGlyphs" stroke="#222" stroke-width="0.2"><tspan font-style="italic">P</tspan>=0.0014</text>
<line x1="350.6" y1="393.4" x2="350.6" y2="482.1" stroke="#111" stroke-width="1.1"/>
<line x1="350.1" y1="481.6" x2="466.7" y2="481.6" stroke="#111" stroke-width="1.1"/>
<line x1="347.1" y1="478.50" x2="350.6" y2="478.50" stroke="#111" stroke-width="0.9"/>
<text x="343.9" y="481.5" font-size="8.4" fill="#222" text-anchor="end"  stroke="#222" stroke-width="0.2">0.0</text>
<line x1="347.1" y1="462.08" x2="350.6" y2="462.08" stroke="#111" stroke-width="0.9"/>
<text x="343.9" y="465.08" font-size="8.4" fill="#222" text-anchor="end"  stroke="#222" stroke-width="0.2">0.2</text>
<line x1="347.1" y1="445.66" x2="350.6" y2="445.66" stroke="#111" stroke-width="0.9"/>
<text x="343.9" y="448.65999999999997" font-size="8.4" fill="#222" text-anchor="end"  stroke="#222" stroke-width="0.2">0.4</text>
<line x1="347.1" y1="429.24" x2="350.6" y2="429.24" stroke="#111" stroke-width="0.9"/>
<text x="343.9" y="432.24" font-size="8.4" fill="#222" text-anchor="end"  stroke="#222" stroke-width="0.2">0.6</text>
<line x1="347.1" y1="412.82" x2="350.6" y2="412.82" stroke="#111" stroke-width="0.9"/>
<text x="343.9" y="415.82" font-size="8.4" fill="#222" text-anchor="end"  stroke="#222" stroke-width="0.2">0.8</text>
<line x1="347.1" y1="396.40" x2="350.6" y2="396.40" stroke="#111" stroke-width="0.9"/>
<text x="343.9" y="399.4" font-size="8.4" fill="#222" text-anchor="end"  stroke="#222" stroke-width="0.2">1.0</text>
<line x1="351.2" y1="481.6" x2="351.2" y2="484.6" stroke="#111" stroke-width="0.9"/>
<text x="351.2" y="496.0" font-size="8.4" fill="#222" text-anchor="middle"  stroke="#222" stroke-width="0.2">0</text>
<line x1="380.7" y1="481.6" x2="380.7" y2="484.6" stroke="#111" stroke-width="0.9"/>
<text x="380.7" y="496.0" font-size="8.4" fill="#222" text-anchor="middle"  stroke="#222" stroke-width="0.2">20</text>
<line x1="410" y1="481.6" x2="410" y2="484.6" stroke="#111" stroke-width="0.9"/>
<text x="410" y="496.0" font-size="8.4" fill="#222" text-anchor="middle"  stroke="#222" stroke-width="0.2">40</text>
<line x1="439.5" y1="481.6" x2="439.5" y2="484.6" stroke="#111" stroke-width="0.9"/>
<text x="439.5" y="496.0" font-size="8.4" fill="#222" text-anchor="middle"  stroke="#222" stroke-width="0.2">60</text>
<text x="409.5" y="509.1" font-size="9.4" fill="#222" text-anchor="middle" textLength="32.8" lengthAdjust="spacingAndGlyphs" stroke-width="0.45" stroke="#222">TTFT (mo)</text>
<path d="M350.6,396.4 L363.25,396.4 L363.25,403.75 L364.25,403.75 L364.25,411.25 L383.75,411.25 L383.75,419.5 L396.25,419.5 L396.25,428 L462.5,428" fill="none" stroke="#2d4c8e" stroke-width="1.45" stroke-linejoin="miter"/>
<line x1="382.5" y1="409.75" x2="382.5" y2="412.75" stroke="#2d4c8e" stroke-width="0.8"/>
<line x1="408.25" y1="426.5" x2="408.25" y2="429.5" stroke="#2d4c8e" stroke-width="0.8"/>
<line x1="417.5" y1="426.5" x2="417.5" y2="429.5" stroke="#2d4c8e" stroke-width="0.8"/>
<line x1="438.75" y1="426.5" x2="438.75" y2="429.5" stroke="#2d4c8e" stroke-width="0.8"/>
<line x1="439.5" y1="426.5" x2="439.5" y2="429.5" stroke="#2d4c8e" stroke-width="0.8"/>
<line x1="461.25" y1="426.5" x2="461.25" y2="429.5" stroke="#2d4c8e" stroke-width="0.8"/>
<path d="M350.6,396.4 L353.25,396.4 L353.25,404.5 L358.75,404.5 L358.75,412.5 L361.25,412.5 L361.25,420.75 L365,420.75 L365,429.25 L373.75,429.25 L373.75,437 L374.5,437 L374.5,445.5 L378.25,445.5 L378.25,453.75 L392,453.75 L392,462 L452.5,462" fill="none" stroke="#b71c3e" stroke-width="1.45" stroke-linejoin="miter"/>
<line x1="436.25" y1="460.5" x2="436.25" y2="463.5" stroke="#b71c3e" stroke-width="0.8"/>
<line x1="452" y1="460.5" x2="452" y2="463.5" stroke="#b71c3e" stroke-width="0.8"/>
<line x1="364.5" y1="382.6" x2="371.3" y2="382.6" stroke="#2d4c8e" stroke-width="1.3"/>
<text x="374.5" y="385.4" font-size="7.9" fill="#35528f" text-anchor="start" textLength="25" lengthAdjust="spacingAndGlyphs"  stroke="#35528f" stroke-width="0.2">ZAP70-</text>
<line x1="410.5" y1="382.6" x2="417.5" y2="382.6" stroke="#b71c3e" stroke-width="1.3"/>
<text x="420.8" y="385.4" font-size="7.9" fill="#b82042" text-anchor="start" textLength="28" lengthAdjust="spacingAndGlyphs"  stroke="#b82042" stroke-width="0.2">ZAP70+</text>
<text x="407" y="450.8" font-size="8.7" fill="#222" textLength="39.2" lengthAdjust="spacingAndGlyphs" stroke="#222" stroke-width="0.2"><tspan font-style="italic">P</tspan>=0.0032</text>
<rect x="0.5" y="0.5" width="519" height="518" fill="none" stroke="#000" stroke-width="1"/>
</svg>
</body></html>
